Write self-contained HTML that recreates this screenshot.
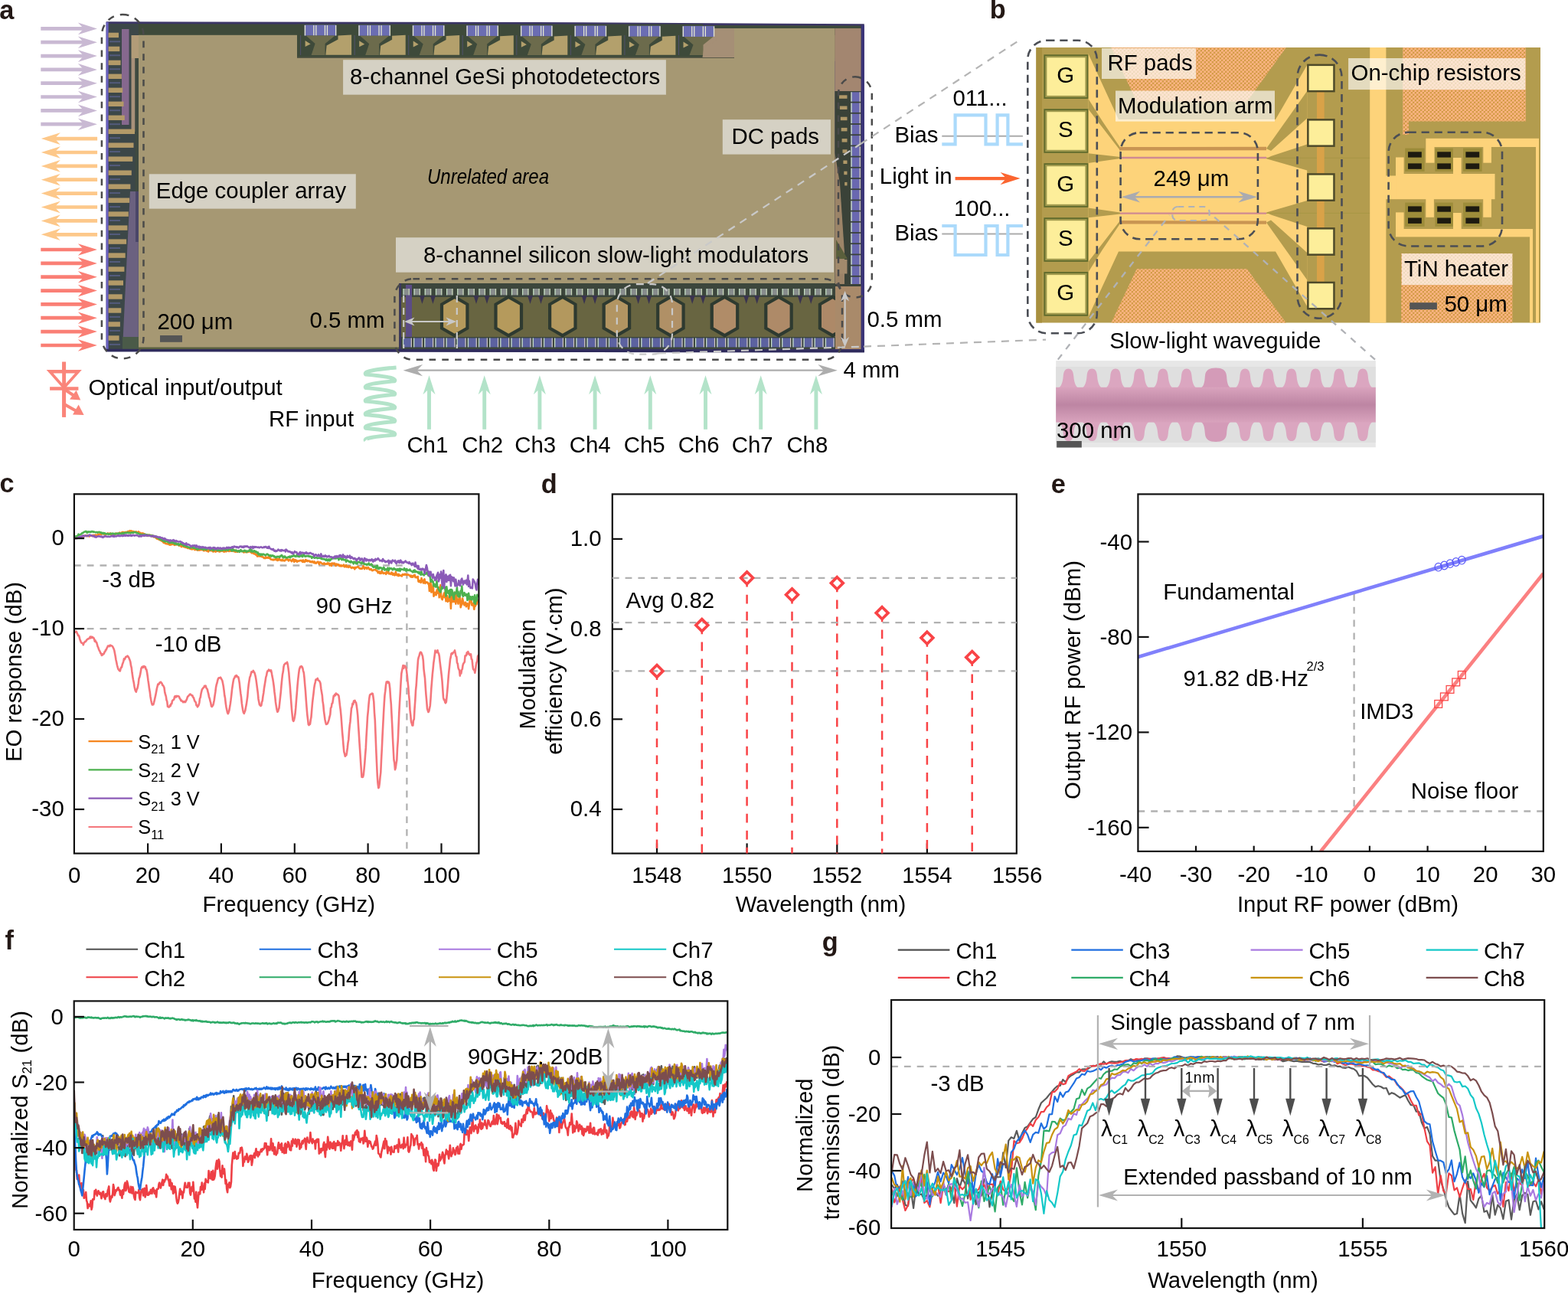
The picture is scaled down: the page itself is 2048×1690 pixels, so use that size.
<!DOCTYPE html>
<html lang="en"><head><meta charset="utf-8"><title>Figure</title>
<style>
html,body{margin:0;padding:0;background:#fff;}
body{width:2048px;height:1690px;overflow:hidden;}
svg{display:block;}
svg text{font-family:"Liberation Sans",sans-serif;}
</style></head><body>
<svg width="2048" height="1690" viewBox="0 0 2048 1690" font-family="Liberation Sans, sans-serif" font-size="29.4" fill="#000">
<defs><clipPath id="clipmod"><rect x="521" y="370" width="570" height="90"/></clipPath></defs>
<text x="-0.8" y="24.8" font-weight="bold" fill="#231815" font-size="34.3">a</text>
<text x="1292.8" y="24.4" font-weight="bold" fill="#231815" font-size="34.3">b</text>
<text x="-0.6" y="643.3" font-weight="bold" fill="#231815" font-size="34.3">c</text>
<text x="706.8" y="643.7" font-weight="bold" fill="#231815" font-size="34.3">d</text>
<text x="1372.8" y="643.5" font-weight="bold" fill="#231815" font-size="34.3">e</text>
<text x="6.4" y="1240.4" font-weight="bold" fill="#231815" font-size="34.3">f</text>
<text x="1073.8" y="1241.6" font-weight="bold" fill="#231815" font-size="34.3">g</text>
<g id="pa">
<line x1="53.3" y1="37.4" x2="111.2" y2="37.4" stroke="#c9b9d3" stroke-width="4.7"/>
<polygon points="126.9,37.4 101.9,45.2 109.4,37.4 101.9,29.6" fill="#c9b9d3"/>
<line x1="53.3" y1="55.2" x2="111.2" y2="55.2" stroke="#c9b9d3" stroke-width="4.7"/>
<polygon points="126.9,55.2 101.9,63 109.4,55.2 101.9,47.4" fill="#c9b9d3"/>
<line x1="53.3" y1="73.1" x2="111.2" y2="73.1" stroke="#c9b9d3" stroke-width="4.7"/>
<polygon points="126.9,73.1 101.9,80.9 109.4,73.1 101.9,65.3" fill="#c9b9d3"/>
<line x1="53.3" y1="90.9" x2="111.2" y2="90.9" stroke="#c9b9d3" stroke-width="4.7"/>
<polygon points="126.9,90.9 101.9,98.7 109.4,90.9 101.9,83.1" fill="#c9b9d3"/>
<line x1="53.3" y1="108.7" x2="111.2" y2="108.7" stroke="#c9b9d3" stroke-width="4.7"/>
<polygon points="126.9,108.7 101.9,116.5 109.4,108.7 101.9,100.9" fill="#c9b9d3"/>
<line x1="53.3" y1="126.5" x2="111.2" y2="126.5" stroke="#c9b9d3" stroke-width="4.7"/>
<polygon points="126.9,126.5 101.9,134.3 109.4,126.5 101.9,118.7" fill="#c9b9d3"/>
<line x1="53.3" y1="144.4" x2="111.2" y2="144.4" stroke="#c9b9d3" stroke-width="4.7"/>
<polygon points="126.9,144.4 101.9,152.2 109.4,144.4 101.9,136.6" fill="#c9b9d3"/>
<line x1="53.3" y1="162.2" x2="111.2" y2="162.2" stroke="#c9b9d3" stroke-width="4.7"/>
<polygon points="126.9,162.2 101.9,170 109.4,162.2 101.9,154.4" fill="#c9b9d3"/>
<line x1="127.1" y1="181.1" x2="69.5" y2="181.1" stroke="#fdc88a" stroke-width="4.7"/>
<polygon points="53.8,181.1 78.8,173.3 71.3,181.1 78.8,188.9" fill="#fdc88a"/>
<line x1="127.1" y1="199" x2="69.5" y2="199" stroke="#fdc88a" stroke-width="4.7"/>
<polygon points="53.8,199 78.8,191.2 71.3,199 78.8,206.8" fill="#fdc88a"/>
<line x1="127.1" y1="216.9" x2="69.5" y2="216.9" stroke="#fdc88a" stroke-width="4.7"/>
<polygon points="53.8,216.9 78.8,209.1 71.3,216.9 78.8,224.7" fill="#fdc88a"/>
<line x1="127.1" y1="234.7" x2="69.5" y2="234.7" stroke="#fdc88a" stroke-width="4.7"/>
<polygon points="53.8,234.7 78.8,226.9 71.3,234.7 78.8,242.5" fill="#fdc88a"/>
<line x1="127.1" y1="252.6" x2="69.5" y2="252.6" stroke="#fdc88a" stroke-width="4.7"/>
<polygon points="53.8,252.6 78.8,244.8 71.3,252.6 78.8,260.4" fill="#fdc88a"/>
<line x1="127.1" y1="270.5" x2="69.5" y2="270.5" stroke="#fdc88a" stroke-width="4.7"/>
<polygon points="53.8,270.5 78.8,262.7 71.3,270.5 78.8,278.3" fill="#fdc88a"/>
<line x1="127.1" y1="288.4" x2="69.5" y2="288.4" stroke="#fdc88a" stroke-width="4.7"/>
<polygon points="53.8,288.4 78.8,280.6 71.3,288.4 78.8,296.2" fill="#fdc88a"/>
<line x1="127.1" y1="306.3" x2="69.5" y2="306.3" stroke="#fdc88a" stroke-width="4.7"/>
<polygon points="53.8,306.3 78.8,298.5 71.3,306.3 78.8,314.1" fill="#fdc88a"/>
<line x1="53.3" y1="326" x2="111.2" y2="326" stroke="#fa7f75" stroke-width="4.7"/>
<polygon points="126.9,326 101.9,333.8 109.4,326 101.9,318.2" fill="#fa7f75"/>
<line x1="53.3" y1="343.9" x2="111.2" y2="343.9" stroke="#fa7f75" stroke-width="4.7"/>
<polygon points="126.9,343.9 101.9,351.7 109.4,343.9 101.9,336.1" fill="#fa7f75"/>
<line x1="53.3" y1="361.7" x2="111.2" y2="361.7" stroke="#fa7f75" stroke-width="4.7"/>
<polygon points="126.9,361.7 101.9,369.5 109.4,361.7 101.9,353.9" fill="#fa7f75"/>
<line x1="53.3" y1="379.6" x2="111.2" y2="379.6" stroke="#fa7f75" stroke-width="4.7"/>
<polygon points="126.9,379.6 101.9,387.4 109.4,379.6 101.9,371.8" fill="#fa7f75"/>
<line x1="53.3" y1="397.4" x2="111.2" y2="397.4" stroke="#fa7f75" stroke-width="4.7"/>
<polygon points="126.9,397.4 101.9,405.2 109.4,397.4 101.9,389.6" fill="#fa7f75"/>
<line x1="53.3" y1="415.2" x2="111.2" y2="415.2" stroke="#fa7f75" stroke-width="4.7"/>
<polygon points="126.9,415.2 101.9,423.1 109.4,415.2 101.9,407.4" fill="#fa7f75"/>
<line x1="53.3" y1="433.1" x2="111.2" y2="433.1" stroke="#fa7f75" stroke-width="4.7"/>
<polygon points="126.9,433.1 101.9,440.9 109.4,433.1 101.9,425.3" fill="#fa7f75"/>
<line x1="53.3" y1="451" x2="111.2" y2="451" stroke="#fa7f75" stroke-width="4.7"/>
<polygon points="126.9,451 101.9,458.8 109.4,451 101.9,443.2" fill="#fa7f75"/>
<polygon points="138.6,28.3 700,29 1128.8,31.3 1128.8,460.3 138.6,459.2" fill="#3b3566"/>
<polygon points="141.5,31 1124.5,33.5 1124.5,76 141.5,76" fill="#3e4a3a"/>
<rect x="180.8" y="45.8" width="909.7" height="325.2" fill="#a69873"/>
<rect x="180.8" y="370" width="340.6" height="85" fill="#a69873"/>
<rect x="959" y="37" width="131.5" height="43" fill="#a69873"/>
<rect x="388" y="31.5" width="530" height="43.5" fill="#3e4a3a"/>
<rect x="918" y="37" width="41" height="38" fill="#a58f76"/>
<rect x="388" y="74.6" width="571" height="1.4" fill="#5a5a48"/>
<rect x="141.5" y="31" width="39.5" height="425" fill="#3c4748"/>
<rect x="138.6" y="29" width="3" height="430" fill="#6a62c0"/>
<rect x="159" y="38" width="9.5" height="125" fill="#86688e"/>
<rect x="171.5" y="46" width="9.5" height="30" fill="#b29c78"/>
<rect x="171.5" y="76" width="5" height="96" fill="#a8917a"/>
<rect x="176.5" y="76" width="4.5" height="240" fill="#3f4a40"/>
<polygon points="170,250 180.8,250 180.8,456 160,456 166,330" fill="#6b6180"/>
<rect x="177" y="250" width="4" height="66" fill="#4a4668"/>
<rect x="160" y="440" width="21" height="16" fill="#4a5a48"/>
<rect x="141.6" y="42.7" width="13.4" height="6.4" fill="#b39a68"/>
<rect x="143" y="53.3" width="14" height="2" fill="#59608a" opacity="0.8"/>
<rect x="141.6" y="60.7" width="14.7" height="6.4" fill="#b39a68"/>
<rect x="143" y="71.3" width="14" height="2" fill="#59608a" opacity="0.8"/>
<rect x="141.6" y="78.7" width="16" height="6.4" fill="#b39a68"/>
<rect x="143" y="89.3" width="14" height="2" fill="#59608a" opacity="0.8"/>
<rect x="141.6" y="96.6" width="17.3" height="6.4" fill="#b39a68"/>
<rect x="143" y="107.2" width="14" height="2" fill="#59608a" opacity="0.8"/>
<rect x="141.6" y="114.6" width="18.6" height="6.4" fill="#b39a68"/>
<rect x="143" y="125.2" width="14" height="2" fill="#59608a" opacity="0.8"/>
<rect x="141.6" y="132.6" width="19.9" height="6.4" fill="#b39a68"/>
<rect x="143" y="143.2" width="14" height="2" fill="#59608a" opacity="0.8"/>
<rect x="141.6" y="150.6" width="21.2" height="6.4" fill="#b39a68"/>
<rect x="143" y="161.2" width="14" height="2" fill="#59608a" opacity="0.8"/>
<rect x="141.6" y="168.6" width="34.4" height="6.4" fill="#b39a68"/>
<rect x="143" y="179.2" width="14" height="2" fill="#59608a" opacity="0.8"/>
<rect x="141.6" y="186.5" width="32.9" height="6.4" fill="#b39a68"/>
<rect x="143" y="197.1" width="14" height="2" fill="#59608a" opacity="0.8"/>
<rect x="141.6" y="204.5" width="31.6" height="6.4" fill="#b39a68"/>
<rect x="143" y="215.1" width="14" height="2" fill="#59608a" opacity="0.8"/>
<rect x="141.6" y="222.5" width="30.2" height="6.4" fill="#b39a68"/>
<rect x="143" y="233.1" width="14" height="2" fill="#59608a" opacity="0.8"/>
<rect x="141.6" y="240.5" width="28.8" height="6.4" fill="#b39a68"/>
<rect x="143" y="251.1" width="14" height="2" fill="#59608a" opacity="0.8"/>
<rect x="141.6" y="258.5" width="27.5" height="6.4" fill="#b39a68"/>
<rect x="143" y="269.1" width="14" height="2" fill="#59608a" opacity="0.8"/>
<rect x="141.6" y="276.4" width="26.2" height="6.4" fill="#b39a68"/>
<rect x="143" y="287" width="14" height="2" fill="#59608a" opacity="0.8"/>
<rect x="141.6" y="294.4" width="24.8" height="6.4" fill="#b39a68"/>
<rect x="143" y="305" width="14" height="2" fill="#59608a" opacity="0.8"/>
<rect x="141.6" y="312.4" width="23.5" height="6.4" fill="#b39a68"/>
<rect x="143" y="323" width="14" height="2" fill="#59608a" opacity="0.8"/>
<rect x="141.6" y="330.4" width="22.1" height="6.4" fill="#b39a68"/>
<rect x="143" y="341" width="14" height="2" fill="#59608a" opacity="0.8"/>
<rect x="141.6" y="348.4" width="20.8" height="6.4" fill="#b39a68"/>
<rect x="143" y="359" width="14" height="2" fill="#59608a" opacity="0.8"/>
<rect x="141.6" y="366.3" width="19.4" height="6.4" fill="#b39a68"/>
<rect x="143" y="376.9" width="14" height="2" fill="#59608a" opacity="0.8"/>
<rect x="141.6" y="384.3" width="18.1" height="6.4" fill="#b39a68"/>
<rect x="143" y="394.9" width="14" height="2" fill="#59608a" opacity="0.8"/>
<rect x="141.6" y="402.3" width="16.7" height="6.4" fill="#b39a68"/>
<rect x="143" y="412.9" width="14" height="2" fill="#59608a" opacity="0.8"/>
<rect x="141.6" y="420.3" width="15.3" height="6.4" fill="#b39a68"/>
<rect x="143" y="430.9" width="14" height="2" fill="#59608a" opacity="0.8"/>
<rect x="141.6" y="438.3" width="14" height="6.4" fill="#b39a68"/>
<rect x="143" y="448.9" width="14" height="2" fill="#59608a" opacity="0.8"/>
<rect x="397.6" y="32.5" width="41.7" height="14.1" fill="#6b6db2"/>
<rect x="397.8" y="33" width="1.3" height="13.4" fill="#e6e8cf"/>
<rect x="409.2" y="33" width="1.3" height="13.4" fill="#e6e8cf"/>
<rect x="412.2" y="33" width="1.3" height="13.4" fill="#e6e8cf"/>
<rect x="423.8" y="33" width="1.3" height="13.4" fill="#e6e8cf"/>
<rect x="426.8" y="33" width="1.3" height="13.4" fill="#e6e8cf"/>
<rect x="438" y="33" width="1.3" height="13.4" fill="#e6e8cf"/>
<polygon points="399.6,46.6 437.6,46.6 424.6,57 424.6,72 406.6,72 411.6,57" fill="#6c6b4c"/>
<polygon points="425.4,71.8 426.6,59.6 441.5,51.6 441.5,46.6 459.1,45.6 459.1,71.8" fill="#b3a06c"/>
<polygon points="398.6,53 405.6,57.5 398.6,61" fill="#b3a06c"/>
<line x1="392.6" y1="46" x2="392.6" y2="72" stroke="#50506a" stroke-width="1"/>
<rect x="468.2" y="32.7" width="41.7" height="14.1" fill="#6b6db2"/>
<rect x="468.4" y="33.2" width="1.3" height="13.4" fill="#e6e8cf"/>
<rect x="479.8" y="33.2" width="1.3" height="13.4" fill="#e6e8cf"/>
<rect x="482.8" y="33.2" width="1.3" height="13.4" fill="#e6e8cf"/>
<rect x="494.4" y="33.2" width="1.3" height="13.4" fill="#e6e8cf"/>
<rect x="497.4" y="33.2" width="1.3" height="13.4" fill="#e6e8cf"/>
<rect x="508.6" y="33.2" width="1.3" height="13.4" fill="#e6e8cf"/>
<polygon points="470.2,46.8 508.2,46.8 495.2,57.2 495.2,72 477.2,72 482.2,57.2" fill="#6c6b4c"/>
<polygon points="496,71.8 497.2,59.8 512.1,51.8 512.1,46.8 529.7,45.8 529.7,71.8" fill="#b3a06c"/>
<polygon points="469.2,53.2 476.2,57.7 469.2,61.2" fill="#b3a06c"/>
<line x1="463.2" y1="46" x2="463.2" y2="72" stroke="#50506a" stroke-width="1"/>
<rect x="538.7" y="32.9" width="41.7" height="14.1" fill="#6b6db2"/>
<rect x="538.9" y="33.4" width="1.3" height="13.4" fill="#e6e8cf"/>
<rect x="550.3" y="33.4" width="1.3" height="13.4" fill="#e6e8cf"/>
<rect x="553.3" y="33.4" width="1.3" height="13.4" fill="#e6e8cf"/>
<rect x="564.9" y="33.4" width="1.3" height="13.4" fill="#e6e8cf"/>
<rect x="567.9" y="33.4" width="1.3" height="13.4" fill="#e6e8cf"/>
<rect x="579.1" y="33.4" width="1.3" height="13.4" fill="#e6e8cf"/>
<polygon points="540.7,47 578.7,47 565.7,57.4 565.7,72 547.7,72 552.7,57.4" fill="#6c6b4c"/>
<polygon points="566.5,71.8 567.7,60 582.6,52 582.6,47 600.2,46 600.2,71.8" fill="#b3a06c"/>
<polygon points="539.7,53.4 546.7,57.9 539.7,61.4" fill="#b3a06c"/>
<line x1="533.7" y1="46" x2="533.7" y2="72" stroke="#50506a" stroke-width="1"/>
<rect x="609.2" y="33.1" width="41.7" height="14.1" fill="#6b6db2"/>
<rect x="609.5" y="33.6" width="1.3" height="13.4" fill="#e6e8cf"/>
<rect x="620.9" y="33.6" width="1.3" height="13.4" fill="#e6e8cf"/>
<rect x="623.9" y="33.6" width="1.3" height="13.4" fill="#e6e8cf"/>
<rect x="635.5" y="33.6" width="1.3" height="13.4" fill="#e6e8cf"/>
<rect x="638.5" y="33.6" width="1.3" height="13.4" fill="#e6e8cf"/>
<rect x="649.6" y="33.6" width="1.3" height="13.4" fill="#e6e8cf"/>
<polygon points="611.2,47.2 649.2,47.2 636.2,57.6 636.2,72 618.2,72 623.2,57.6" fill="#6c6b4c"/>
<polygon points="637,71.8 638.2,60.2 653.1,52.2 653.1,47.2 670.8,46.2 670.8,71.8" fill="#b3a06c"/>
<polygon points="610.2,53.6 617.2,58.1 610.2,61.6" fill="#b3a06c"/>
<line x1="604.2" y1="46" x2="604.2" y2="72" stroke="#50506a" stroke-width="1"/>
<rect x="679.8" y="33.3" width="41.7" height="14.1" fill="#6b6db2"/>
<rect x="680" y="33.8" width="1.3" height="13.4" fill="#e6e8cf"/>
<rect x="691.4" y="33.8" width="1.3" height="13.4" fill="#e6e8cf"/>
<rect x="694.4" y="33.8" width="1.3" height="13.4" fill="#e6e8cf"/>
<rect x="706" y="33.8" width="1.3" height="13.4" fill="#e6e8cf"/>
<rect x="709" y="33.8" width="1.3" height="13.4" fill="#e6e8cf"/>
<rect x="720.2" y="33.8" width="1.3" height="13.4" fill="#e6e8cf"/>
<polygon points="681.8,47.4 719.8,47.4 706.8,57.8 706.8,72 688.8,72 693.8,57.8" fill="#6c6b4c"/>
<polygon points="707.6,71.8 708.8,60.4 723.7,52.4 723.7,47.4 741.3,46.4 741.3,71.8" fill="#b3a06c"/>
<polygon points="680.8,53.8 687.8,58.3 680.8,61.8" fill="#b3a06c"/>
<line x1="674.8" y1="46" x2="674.8" y2="72" stroke="#50506a" stroke-width="1"/>
<rect x="750.4" y="33.5" width="41.7" height="14.1" fill="#6b6db2"/>
<rect x="750.6" y="34" width="1.3" height="13.4" fill="#e6e8cf"/>
<rect x="762" y="34" width="1.3" height="13.4" fill="#e6e8cf"/>
<rect x="765" y="34" width="1.3" height="13.4" fill="#e6e8cf"/>
<rect x="776.6" y="34" width="1.3" height="13.4" fill="#e6e8cf"/>
<rect x="779.6" y="34" width="1.3" height="13.4" fill="#e6e8cf"/>
<rect x="790.8" y="34" width="1.3" height="13.4" fill="#e6e8cf"/>
<polygon points="752.4,47.6 790.4,47.6 777.4,58 777.4,72 759.4,72 764.4,58" fill="#6c6b4c"/>
<polygon points="778.1,71.8 779.4,60.6 794.2,52.6 794.2,47.6 811.9,46.6 811.9,71.8" fill="#b3a06c"/>
<polygon points="751.4,54 758.4,58.5 751.4,62" fill="#b3a06c"/>
<line x1="745.4" y1="46" x2="745.4" y2="72" stroke="#50506a" stroke-width="1"/>
<rect x="820.9" y="33.7" width="41.7" height="14.1" fill="#6b6db2"/>
<rect x="821.1" y="34.2" width="1.3" height="13.4" fill="#e6e8cf"/>
<rect x="832.5" y="34.2" width="1.3" height="13.4" fill="#e6e8cf"/>
<rect x="835.5" y="34.2" width="1.3" height="13.4" fill="#e6e8cf"/>
<rect x="847.1" y="34.2" width="1.3" height="13.4" fill="#e6e8cf"/>
<rect x="850.1" y="34.2" width="1.3" height="13.4" fill="#e6e8cf"/>
<rect x="861.3" y="34.2" width="1.3" height="13.4" fill="#e6e8cf"/>
<polygon points="822.9,47.8 860.9,47.8 847.9,58.2 847.9,72 829.9,72 834.9,58.2" fill="#6c6b4c"/>
<polygon points="848.7,71.8 849.9,60.8 864.8,52.8 864.8,47.8 882.4,46.8 882.4,71.8" fill="#b3a06c"/>
<polygon points="821.9,54.2 828.9,58.7 821.9,62.2" fill="#b3a06c"/>
<line x1="815.9" y1="46" x2="815.9" y2="72" stroke="#50506a" stroke-width="1"/>
<rect x="891.5" y="33.9" width="41.7" height="14.1" fill="#6b6db2"/>
<rect x="891.7" y="34.4" width="1.3" height="13.4" fill="#e6e8cf"/>
<rect x="903.1" y="34.4" width="1.3" height="13.4" fill="#e6e8cf"/>
<rect x="906.1" y="34.4" width="1.3" height="13.4" fill="#e6e8cf"/>
<rect x="917.7" y="34.4" width="1.3" height="13.4" fill="#e6e8cf"/>
<rect x="920.7" y="34.4" width="1.3" height="13.4" fill="#e6e8cf"/>
<rect x="931.9" y="34.4" width="1.3" height="13.4" fill="#e6e8cf"/>
<polygon points="893.5,48 931.5,48 918.5,58.4 918.5,72 900.5,72 905.5,58.4" fill="#6c6b4c"/>
<polygon points="917.5,75 919.5,61.4 935.4,53.4 935.4,38 959,38 959,75" fill="#a58f76"/>
<polygon points="892.5,54.4 899.5,58.9 892.5,62.4" fill="#b3a06c"/>
<line x1="886.5" y1="46" x2="886.5" y2="72" stroke="#50506a" stroke-width="1"/>
<rect x="1090.5" y="37" width="34" height="82" fill="#a38670"/>
<rect x="1090.5" y="119" width="34" height="254" fill="#3a4238"/>
<polygon points="1090.5,200 1097,240 1103,330 1103,372 1090.5,372" fill="#9c8468"/>
<polygon points="1092,313 1107,338 1092,338" fill="#5a5f3c"/>
<rect x="1091.5" y="339" width="15" height="18.5" fill="#a28a6c"/>
<rect x="1111.4" y="120.3" width="12.9" height="12.4" fill="#6a68b0"/>
<rect x="1111.4" y="120.3" width="1.3" height="12.4" fill="#cfe4c8"/>
<rect x="1122.6" y="120.3" width="1.2" height="12.4" fill="#d8d0b8"/>
<rect x="1096" y="124.3" width="10.5" height="4.5" fill="#b09868"/>
<rect x="1111.4" y="134.5" width="12.9" height="12.4" fill="#6a68b0"/>
<rect x="1111.4" y="134.5" width="1.3" height="12.4" fill="#cfe4c8"/>
<rect x="1122.6" y="134.5" width="1.2" height="12.4" fill="#d8d0b8"/>
<rect x="1096.9" y="138.5" width="9.6" height="4.5" fill="#b09868"/>
<rect x="1111.4" y="148.7" width="12.9" height="12.4" fill="#6a68b0"/>
<rect x="1111.4" y="148.7" width="1.3" height="12.4" fill="#cfe4c8"/>
<rect x="1122.6" y="148.7" width="1.2" height="12.4" fill="#d8d0b8"/>
<rect x="1097.8" y="152.7" width="8.7" height="4.5" fill="#b09868"/>
<rect x="1111.4" y="162.9" width="12.9" height="12.4" fill="#6a68b0"/>
<rect x="1111.4" y="162.9" width="1.3" height="12.4" fill="#cfe4c8"/>
<rect x="1122.6" y="162.9" width="1.2" height="12.4" fill="#d8d0b8"/>
<rect x="1098.7" y="166.9" width="7.8" height="4.5" fill="#b09868"/>
<rect x="1111.4" y="177.1" width="12.9" height="12.4" fill="#6a68b0"/>
<rect x="1111.4" y="177.1" width="1.3" height="12.4" fill="#cfe4c8"/>
<rect x="1122.6" y="177.1" width="1.2" height="12.4" fill="#d8d0b8"/>
<rect x="1099.6" y="181.1" width="6.9" height="4.5" fill="#b09868"/>
<rect x="1111.4" y="191.3" width="12.9" height="12.4" fill="#6a68b0"/>
<rect x="1111.4" y="191.3" width="1.3" height="12.4" fill="#cfe4c8"/>
<rect x="1122.6" y="191.3" width="1.2" height="12.4" fill="#d8d0b8"/>
<rect x="1100.5" y="195.3" width="6" height="4.5" fill="#b09868"/>
<rect x="1111.4" y="205.5" width="12.9" height="12.4" fill="#6a68b0"/>
<rect x="1111.4" y="205.5" width="1.3" height="12.4" fill="#cfe4c8"/>
<rect x="1122.6" y="205.5" width="1.2" height="12.4" fill="#d8d0b8"/>
<rect x="1101.4" y="209.5" width="5.1" height="4.5" fill="#b09868"/>
<rect x="1111.4" y="219.7" width="12.9" height="12.4" fill="#6a68b0"/>
<rect x="1111.4" y="219.7" width="1.3" height="12.4" fill="#cfe4c8"/>
<rect x="1122.6" y="219.7" width="1.2" height="12.4" fill="#d8d0b8"/>
<rect x="1102.3" y="223.7" width="4.2" height="4.5" fill="#b09868"/>
<rect x="1111.4" y="233.9" width="12.9" height="12.4" fill="#6a68b0"/>
<rect x="1111.4" y="233.9" width="1.3" height="12.4" fill="#cfe4c8"/>
<rect x="1122.6" y="233.9" width="1.2" height="12.4" fill="#d8d0b8"/>
<rect x="1103.2" y="237.9" width="3.3" height="4.5" fill="#b09868"/>
<rect x="1111.4" y="248.1" width="12.9" height="12.4" fill="#6a68b0"/>
<rect x="1111.4" y="248.1" width="1.3" height="12.4" fill="#cfe4c8"/>
<rect x="1122.6" y="248.1" width="1.2" height="12.4" fill="#d8d0b8"/>
<rect x="1111.4" y="262.3" width="12.9" height="12.4" fill="#6a68b0"/>
<rect x="1111.4" y="262.3" width="1.3" height="12.4" fill="#cfe4c8"/>
<rect x="1122.6" y="262.3" width="1.2" height="12.4" fill="#d8d0b8"/>
<rect x="1111.4" y="276.5" width="12.9" height="12.4" fill="#6a68b0"/>
<rect x="1111.4" y="276.5" width="1.3" height="12.4" fill="#cfe4c8"/>
<rect x="1122.6" y="276.5" width="1.2" height="12.4" fill="#d8d0b8"/>
<rect x="1111.4" y="290.7" width="12.9" height="12.4" fill="#6a68b0"/>
<rect x="1111.4" y="290.7" width="1.3" height="12.4" fill="#cfe4c8"/>
<rect x="1122.6" y="290.7" width="1.2" height="12.4" fill="#d8d0b8"/>
<rect x="1111.4" y="304.9" width="12.9" height="12.4" fill="#6a68b0"/>
<rect x="1111.4" y="304.9" width="1.3" height="12.4" fill="#cfe4c8"/>
<rect x="1122.6" y="304.9" width="1.2" height="12.4" fill="#d8d0b8"/>
<rect x="1111.4" y="319.1" width="12.9" height="12.4" fill="#6a68b0"/>
<rect x="1111.4" y="319.1" width="1.3" height="12.4" fill="#cfe4c8"/>
<rect x="1122.6" y="319.1" width="1.2" height="12.4" fill="#d8d0b8"/>
<rect x="1111.4" y="333.3" width="12.9" height="12.4" fill="#6a68b0"/>
<rect x="1111.4" y="333.3" width="1.3" height="12.4" fill="#cfe4c8"/>
<rect x="1122.6" y="333.3" width="1.2" height="12.4" fill="#d8d0b8"/>
<rect x="1111.4" y="347.5" width="12.9" height="12.4" fill="#6a68b0"/>
<rect x="1111.4" y="347.5" width="1.3" height="12.4" fill="#cfe4c8"/>
<rect x="1122.6" y="347.5" width="1.2" height="12.4" fill="#d8d0b8"/>
<rect x="1111.4" y="361.7" width="12.9" height="12.4" fill="#6a68b0"/>
<rect x="1111.4" y="361.7" width="1.3" height="12.4" fill="#cfe4c8"/>
<rect x="1122.6" y="361.7" width="1.2" height="12.4" fill="#d8d0b8"/>
<rect x="1125.2" y="33" width="3.6" height="427" fill="#3a3478"/>
<rect x="521.2" y="370" width="569.8" height="86" fill="#3c463c"/>
<rect x="521.2" y="388" width="569.8" height="52" fill="#686541"/>
<rect x="521.2" y="370" width="2.8" height="86" fill="#3a3660"/>
<rect x="530" y="372" width="8" height="68" fill="#5b4c85"/>
<rect x="1091" y="373.5" width="33.5" height="82.5" fill="#a98a6a"/>
<rect x="1091" y="371" width="33.5" height="3" fill="#3a4238"/>
<rect x="526.4" y="377" width="8.5" height="8.4" fill="#878c8c"/>
<rect x="526.4" y="377" width="1.2" height="8.4" fill="#c4e0c0"/>
<rect x="533.7" y="377" width="1.2" height="8.4" fill="#c8d8b8"/>
<rect x="525.9" y="441.5" width="12" height="11.9" fill="#5c62a0"/>
<rect x="525.9" y="441.5" width="1.3" height="11.9" fill="#c4dcc4"/>
<rect x="536.7" y="441.5" width="1.2" height="11.9" fill="#d0c8c0"/>
<rect x="540.5" y="377" width="8.5" height="8.4" fill="#878c8c"/>
<rect x="540.5" y="377" width="1.2" height="8.4" fill="#c4e0c0"/>
<rect x="547.8" y="377" width="1.2" height="8.4" fill="#c8d8b8"/>
<rect x="540" y="441.5" width="12" height="11.9" fill="#5c62a0"/>
<rect x="540" y="441.5" width="1.3" height="11.9" fill="#c4dcc4"/>
<rect x="550.8" y="441.5" width="1.2" height="11.9" fill="#d0c8c0"/>
<rect x="554.7" y="377" width="8.5" height="8.4" fill="#878c8c"/>
<rect x="554.7" y="377" width="1.2" height="8.4" fill="#c4e0c0"/>
<rect x="562" y="377" width="1.2" height="8.4" fill="#c8d8b8"/>
<rect x="554.2" y="441.5" width="12" height="11.9" fill="#5c62a0"/>
<rect x="554.2" y="441.5" width="1.3" height="11.9" fill="#c4dcc4"/>
<rect x="565" y="441.5" width="1.2" height="11.9" fill="#d0c8c0"/>
<rect x="568.9" y="377" width="8.5" height="8.4" fill="#878c8c"/>
<rect x="568.9" y="377" width="1.2" height="8.4" fill="#c4e0c0"/>
<rect x="576.1" y="377" width="1.2" height="8.4" fill="#c8d8b8"/>
<rect x="568.4" y="441.5" width="12" height="11.9" fill="#5c62a0"/>
<rect x="568.4" y="441.5" width="1.3" height="11.9" fill="#c4dcc4"/>
<rect x="579.1" y="441.5" width="1.2" height="11.9" fill="#d0c8c0"/>
<rect x="583" y="377" width="8.5" height="8.4" fill="#878c8c"/>
<rect x="583" y="377" width="1.2" height="8.4" fill="#c4e0c0"/>
<rect x="590.3" y="377" width="1.2" height="8.4" fill="#c8d8b8"/>
<rect x="582.5" y="441.5" width="12" height="11.9" fill="#5c62a0"/>
<rect x="582.5" y="441.5" width="1.3" height="11.9" fill="#c4dcc4"/>
<rect x="593.3" y="441.5" width="1.2" height="11.9" fill="#d0c8c0"/>
<rect x="597.1" y="377" width="8.5" height="8.4" fill="#878c8c"/>
<rect x="597.1" y="377" width="1.2" height="8.4" fill="#c4e0c0"/>
<rect x="604.4" y="377" width="1.2" height="8.4" fill="#c8d8b8"/>
<rect x="596.6" y="441.5" width="12" height="11.9" fill="#5c62a0"/>
<rect x="596.6" y="441.5" width="1.3" height="11.9" fill="#c4dcc4"/>
<rect x="607.4" y="441.5" width="1.2" height="11.9" fill="#d0c8c0"/>
<rect x="611.3" y="377" width="8.5" height="8.4" fill="#878c8c"/>
<rect x="611.3" y="377" width="1.2" height="8.4" fill="#c4e0c0"/>
<rect x="618.6" y="377" width="1.2" height="8.4" fill="#c8d8b8"/>
<rect x="610.8" y="441.5" width="12" height="11.9" fill="#5c62a0"/>
<rect x="610.8" y="441.5" width="1.3" height="11.9" fill="#c4dcc4"/>
<rect x="621.6" y="441.5" width="1.2" height="11.9" fill="#d0c8c0"/>
<rect x="625.4" y="377" width="8.5" height="8.4" fill="#878c8c"/>
<rect x="625.4" y="377" width="1.2" height="8.4" fill="#c4e0c0"/>
<rect x="632.7" y="377" width="1.2" height="8.4" fill="#c8d8b8"/>
<rect x="624.9" y="441.5" width="12" height="11.9" fill="#5c62a0"/>
<rect x="624.9" y="441.5" width="1.3" height="11.9" fill="#c4dcc4"/>
<rect x="635.7" y="441.5" width="1.2" height="11.9" fill="#d0c8c0"/>
<rect x="639.6" y="377" width="8.5" height="8.4" fill="#878c8c"/>
<rect x="639.6" y="377" width="1.2" height="8.4" fill="#c4e0c0"/>
<rect x="646.9" y="377" width="1.2" height="8.4" fill="#c8d8b8"/>
<rect x="639.1" y="441.5" width="12" height="11.9" fill="#5c62a0"/>
<rect x="639.1" y="441.5" width="1.3" height="11.9" fill="#c4dcc4"/>
<rect x="649.9" y="441.5" width="1.2" height="11.9" fill="#d0c8c0"/>
<rect x="653.8" y="377" width="8.5" height="8.4" fill="#878c8c"/>
<rect x="653.8" y="377" width="1.2" height="8.4" fill="#c4e0c0"/>
<rect x="661" y="377" width="1.2" height="8.4" fill="#c8d8b8"/>
<rect x="653.2" y="441.5" width="12" height="11.9" fill="#5c62a0"/>
<rect x="653.2" y="441.5" width="1.3" height="11.9" fill="#c4dcc4"/>
<rect x="664" y="441.5" width="1.2" height="11.9" fill="#d0c8c0"/>
<rect x="667.9" y="377" width="8.5" height="8.4" fill="#878c8c"/>
<rect x="667.9" y="377" width="1.2" height="8.4" fill="#c4e0c0"/>
<rect x="675.2" y="377" width="1.2" height="8.4" fill="#c8d8b8"/>
<rect x="667.4" y="441.5" width="12" height="11.9" fill="#5c62a0"/>
<rect x="667.4" y="441.5" width="1.3" height="11.9" fill="#c4dcc4"/>
<rect x="678.2" y="441.5" width="1.2" height="11.9" fill="#d0c8c0"/>
<rect x="682" y="377" width="8.5" height="8.4" fill="#878c8c"/>
<rect x="682" y="377" width="1.2" height="8.4" fill="#c4e0c0"/>
<rect x="689.3" y="377" width="1.2" height="8.4" fill="#c8d8b8"/>
<rect x="681.5" y="441.5" width="12" height="11.9" fill="#5c62a0"/>
<rect x="681.5" y="441.5" width="1.3" height="11.9" fill="#c4dcc4"/>
<rect x="692.3" y="441.5" width="1.2" height="11.9" fill="#d0c8c0"/>
<rect x="696.2" y="377" width="8.5" height="8.4" fill="#878c8c"/>
<rect x="696.2" y="377" width="1.2" height="8.4" fill="#c4e0c0"/>
<rect x="703.5" y="377" width="1.2" height="8.4" fill="#c8d8b8"/>
<rect x="695.7" y="441.5" width="12" height="11.9" fill="#5c62a0"/>
<rect x="695.7" y="441.5" width="1.3" height="11.9" fill="#c4dcc4"/>
<rect x="706.5" y="441.5" width="1.2" height="11.9" fill="#d0c8c0"/>
<rect x="710.4" y="377" width="8.5" height="8.4" fill="#878c8c"/>
<rect x="710.4" y="377" width="1.2" height="8.4" fill="#c4e0c0"/>
<rect x="717.6" y="377" width="1.2" height="8.4" fill="#c8d8b8"/>
<rect x="709.9" y="441.5" width="12" height="11.9" fill="#5c62a0"/>
<rect x="709.9" y="441.5" width="1.3" height="11.9" fill="#c4dcc4"/>
<rect x="720.6" y="441.5" width="1.2" height="11.9" fill="#d0c8c0"/>
<rect x="724.5" y="377" width="8.5" height="8.4" fill="#878c8c"/>
<rect x="724.5" y="377" width="1.2" height="8.4" fill="#c4e0c0"/>
<rect x="731.8" y="377" width="1.2" height="8.4" fill="#c8d8b8"/>
<rect x="724" y="441.5" width="12" height="11.9" fill="#5c62a0"/>
<rect x="724" y="441.5" width="1.3" height="11.9" fill="#c4dcc4"/>
<rect x="734.8" y="441.5" width="1.2" height="11.9" fill="#d0c8c0"/>
<rect x="738.6" y="377" width="8.5" height="8.4" fill="#878c8c"/>
<rect x="738.6" y="377" width="1.2" height="8.4" fill="#c4e0c0"/>
<rect x="745.9" y="377" width="1.2" height="8.4" fill="#c8d8b8"/>
<rect x="738.1" y="441.5" width="12" height="11.9" fill="#5c62a0"/>
<rect x="738.1" y="441.5" width="1.3" height="11.9" fill="#c4dcc4"/>
<rect x="748.9" y="441.5" width="1.2" height="11.9" fill="#d0c8c0"/>
<rect x="752.8" y="377" width="8.5" height="8.4" fill="#878c8c"/>
<rect x="752.8" y="377" width="1.2" height="8.4" fill="#c4e0c0"/>
<rect x="760.1" y="377" width="1.2" height="8.4" fill="#c8d8b8"/>
<rect x="752.3" y="441.5" width="12" height="11.9" fill="#5c62a0"/>
<rect x="752.3" y="441.5" width="1.3" height="11.9" fill="#c4dcc4"/>
<rect x="763.1" y="441.5" width="1.2" height="11.9" fill="#d0c8c0"/>
<rect x="767" y="377" width="8.5" height="8.4" fill="#878c8c"/>
<rect x="767" y="377" width="1.2" height="8.4" fill="#c4e0c0"/>
<rect x="774.2" y="377" width="1.2" height="8.4" fill="#c8d8b8"/>
<rect x="766.5" y="441.5" width="12" height="11.9" fill="#5c62a0"/>
<rect x="766.5" y="441.5" width="1.3" height="11.9" fill="#c4dcc4"/>
<rect x="777.2" y="441.5" width="1.2" height="11.9" fill="#d0c8c0"/>
<rect x="781.1" y="377" width="8.5" height="8.4" fill="#878c8c"/>
<rect x="781.1" y="377" width="1.2" height="8.4" fill="#c4e0c0"/>
<rect x="788.4" y="377" width="1.2" height="8.4" fill="#c8d8b8"/>
<rect x="780.6" y="441.5" width="12" height="11.9" fill="#5c62a0"/>
<rect x="780.6" y="441.5" width="1.3" height="11.9" fill="#c4dcc4"/>
<rect x="791.4" y="441.5" width="1.2" height="11.9" fill="#d0c8c0"/>
<rect x="795.2" y="377" width="8.5" height="8.4" fill="#878c8c"/>
<rect x="795.2" y="377" width="1.2" height="8.4" fill="#c4e0c0"/>
<rect x="802.5" y="377" width="1.2" height="8.4" fill="#c8d8b8"/>
<rect x="794.8" y="441.5" width="12" height="11.9" fill="#5c62a0"/>
<rect x="794.8" y="441.5" width="1.3" height="11.9" fill="#c4dcc4"/>
<rect x="805.5" y="441.5" width="1.2" height="11.9" fill="#d0c8c0"/>
<rect x="809.4" y="377" width="8.5" height="8.4" fill="#878c8c"/>
<rect x="809.4" y="377" width="1.2" height="8.4" fill="#c4e0c0"/>
<rect x="816.7" y="377" width="1.2" height="8.4" fill="#c8d8b8"/>
<rect x="808.9" y="441.5" width="12" height="11.9" fill="#5c62a0"/>
<rect x="808.9" y="441.5" width="1.3" height="11.9" fill="#c4dcc4"/>
<rect x="819.7" y="441.5" width="1.2" height="11.9" fill="#d0c8c0"/>
<rect x="823.5" y="377" width="8.5" height="8.4" fill="#878c8c"/>
<rect x="823.5" y="377" width="1.2" height="8.4" fill="#c4e0c0"/>
<rect x="830.8" y="377" width="1.2" height="8.4" fill="#c8d8b8"/>
<rect x="823" y="441.5" width="12" height="11.9" fill="#5c62a0"/>
<rect x="823" y="441.5" width="1.3" height="11.9" fill="#c4dcc4"/>
<rect x="833.8" y="441.5" width="1.2" height="11.9" fill="#d0c8c0"/>
<rect x="837.7" y="377" width="8.5" height="8.4" fill="#878c8c"/>
<rect x="837.7" y="377" width="1.2" height="8.4" fill="#c4e0c0"/>
<rect x="845" y="377" width="1.2" height="8.4" fill="#c8d8b8"/>
<rect x="837.2" y="441.5" width="12" height="11.9" fill="#5c62a0"/>
<rect x="837.2" y="441.5" width="1.3" height="11.9" fill="#c4dcc4"/>
<rect x="848" y="441.5" width="1.2" height="11.9" fill="#d0c8c0"/>
<rect x="851.8" y="377" width="8.5" height="8.4" fill="#878c8c"/>
<rect x="851.8" y="377" width="1.2" height="8.4" fill="#c4e0c0"/>
<rect x="859.1" y="377" width="1.2" height="8.4" fill="#c8d8b8"/>
<rect x="851.3" y="441.5" width="12" height="11.9" fill="#5c62a0"/>
<rect x="851.3" y="441.5" width="1.3" height="11.9" fill="#c4dcc4"/>
<rect x="862.1" y="441.5" width="1.2" height="11.9" fill="#d0c8c0"/>
<rect x="866" y="377" width="8.5" height="8.4" fill="#878c8c"/>
<rect x="866" y="377" width="1.2" height="8.4" fill="#c4e0c0"/>
<rect x="873.3" y="377" width="1.2" height="8.4" fill="#c8d8b8"/>
<rect x="865.5" y="441.5" width="12" height="11.9" fill="#5c62a0"/>
<rect x="865.5" y="441.5" width="1.3" height="11.9" fill="#c4dcc4"/>
<rect x="876.3" y="441.5" width="1.2" height="11.9" fill="#d0c8c0"/>
<rect x="880.1" y="377" width="8.5" height="8.4" fill="#878c8c"/>
<rect x="880.1" y="377" width="1.2" height="8.4" fill="#c4e0c0"/>
<rect x="887.4" y="377" width="1.2" height="8.4" fill="#c8d8b8"/>
<rect x="879.6" y="441.5" width="12" height="11.9" fill="#5c62a0"/>
<rect x="879.6" y="441.5" width="1.3" height="11.9" fill="#c4dcc4"/>
<rect x="890.4" y="441.5" width="1.2" height="11.9" fill="#d0c8c0"/>
<rect x="894.3" y="377" width="8.5" height="8.4" fill="#878c8c"/>
<rect x="894.3" y="377" width="1.2" height="8.4" fill="#c4e0c0"/>
<rect x="901.6" y="377" width="1.2" height="8.4" fill="#c8d8b8"/>
<rect x="893.8" y="441.5" width="12" height="11.9" fill="#5c62a0"/>
<rect x="893.8" y="441.5" width="1.3" height="11.9" fill="#c4dcc4"/>
<rect x="904.6" y="441.5" width="1.2" height="11.9" fill="#d0c8c0"/>
<rect x="908.5" y="377" width="8.5" height="8.4" fill="#878c8c"/>
<rect x="908.5" y="377" width="1.2" height="8.4" fill="#c4e0c0"/>
<rect x="915.8" y="377" width="1.2" height="8.4" fill="#c8d8b8"/>
<rect x="908" y="441.5" width="12" height="11.9" fill="#5c62a0"/>
<rect x="908" y="441.5" width="1.3" height="11.9" fill="#c4dcc4"/>
<rect x="918.8" y="441.5" width="1.2" height="11.9" fill="#d0c8c0"/>
<rect x="922.6" y="377" width="8.5" height="8.4" fill="#878c8c"/>
<rect x="922.6" y="377" width="1.2" height="8.4" fill="#c4e0c0"/>
<rect x="929.9" y="377" width="1.2" height="8.4" fill="#c8d8b8"/>
<rect x="922.1" y="441.5" width="12" height="11.9" fill="#5c62a0"/>
<rect x="922.1" y="441.5" width="1.3" height="11.9" fill="#c4dcc4"/>
<rect x="932.9" y="441.5" width="1.2" height="11.9" fill="#d0c8c0"/>
<rect x="936.8" y="377" width="8.5" height="8.4" fill="#878c8c"/>
<rect x="936.8" y="377" width="1.2" height="8.4" fill="#c4e0c0"/>
<rect x="944" y="377" width="1.2" height="8.4" fill="#c8d8b8"/>
<rect x="936.2" y="441.5" width="12" height="11.9" fill="#5c62a0"/>
<rect x="936.2" y="441.5" width="1.3" height="11.9" fill="#c4dcc4"/>
<rect x="947" y="441.5" width="1.2" height="11.9" fill="#d0c8c0"/>
<rect x="950.9" y="377" width="8.5" height="8.4" fill="#878c8c"/>
<rect x="950.9" y="377" width="1.2" height="8.4" fill="#c4e0c0"/>
<rect x="958.2" y="377" width="1.2" height="8.4" fill="#c8d8b8"/>
<rect x="950.4" y="441.5" width="12" height="11.9" fill="#5c62a0"/>
<rect x="950.4" y="441.5" width="1.3" height="11.9" fill="#c4dcc4"/>
<rect x="961.2" y="441.5" width="1.2" height="11.9" fill="#d0c8c0"/>
<rect x="965" y="377" width="8.5" height="8.4" fill="#878c8c"/>
<rect x="965" y="377" width="1.2" height="8.4" fill="#c4e0c0"/>
<rect x="972.3" y="377" width="1.2" height="8.4" fill="#c8d8b8"/>
<rect x="964.5" y="441.5" width="12" height="11.9" fill="#5c62a0"/>
<rect x="964.5" y="441.5" width="1.3" height="11.9" fill="#c4dcc4"/>
<rect x="975.3" y="441.5" width="1.2" height="11.9" fill="#d0c8c0"/>
<rect x="979.2" y="377" width="8.5" height="8.4" fill="#878c8c"/>
<rect x="979.2" y="377" width="1.2" height="8.4" fill="#c4e0c0"/>
<rect x="986.5" y="377" width="1.2" height="8.4" fill="#c8d8b8"/>
<rect x="978.7" y="441.5" width="12" height="11.9" fill="#5c62a0"/>
<rect x="978.7" y="441.5" width="1.3" height="11.9" fill="#c4dcc4"/>
<rect x="989.5" y="441.5" width="1.2" height="11.9" fill="#d0c8c0"/>
<rect x="993.3" y="377" width="8.5" height="8.4" fill="#878c8c"/>
<rect x="993.3" y="377" width="1.2" height="8.4" fill="#c4e0c0"/>
<rect x="1000.6" y="377" width="1.2" height="8.4" fill="#c8d8b8"/>
<rect x="992.8" y="441.5" width="12" height="11.9" fill="#5c62a0"/>
<rect x="992.8" y="441.5" width="1.3" height="11.9" fill="#c4dcc4"/>
<rect x="1003.6" y="441.5" width="1.2" height="11.9" fill="#d0c8c0"/>
<rect x="1007.5" y="377" width="8.5" height="8.4" fill="#878c8c"/>
<rect x="1007.5" y="377" width="1.2" height="8.4" fill="#c4e0c0"/>
<rect x="1014.8" y="377" width="1.2" height="8.4" fill="#c8d8b8"/>
<rect x="1007" y="441.5" width="12" height="11.9" fill="#5c62a0"/>
<rect x="1007" y="441.5" width="1.3" height="11.9" fill="#c4dcc4"/>
<rect x="1017.8" y="441.5" width="1.2" height="11.9" fill="#d0c8c0"/>
<rect x="1021.6" y="377" width="8.5" height="8.4" fill="#878c8c"/>
<rect x="1021.6" y="377" width="1.2" height="8.4" fill="#c4e0c0"/>
<rect x="1029" y="377" width="1.2" height="8.4" fill="#c8d8b8"/>
<rect x="1021.1" y="441.5" width="12" height="11.9" fill="#5c62a0"/>
<rect x="1021.1" y="441.5" width="1.3" height="11.9" fill="#c4dcc4"/>
<rect x="1032" y="441.5" width="1.2" height="11.9" fill="#d0c8c0"/>
<rect x="1035.8" y="377" width="8.5" height="8.4" fill="#878c8c"/>
<rect x="1035.8" y="377" width="1.2" height="8.4" fill="#c4e0c0"/>
<rect x="1043.1" y="377" width="1.2" height="8.4" fill="#c8d8b8"/>
<rect x="1035.3" y="441.5" width="12" height="11.9" fill="#5c62a0"/>
<rect x="1035.3" y="441.5" width="1.3" height="11.9" fill="#c4dcc4"/>
<rect x="1046.1" y="441.5" width="1.2" height="11.9" fill="#d0c8c0"/>
<rect x="1050" y="377" width="8.5" height="8.4" fill="#878c8c"/>
<rect x="1050" y="377" width="1.2" height="8.4" fill="#c4e0c0"/>
<rect x="1057.2" y="377" width="1.2" height="8.4" fill="#c8d8b8"/>
<rect x="1049.5" y="441.5" width="12" height="11.9" fill="#5c62a0"/>
<rect x="1049.5" y="441.5" width="1.3" height="11.9" fill="#c4dcc4"/>
<rect x="1060.2" y="441.5" width="1.2" height="11.9" fill="#d0c8c0"/>
<rect x="1064.1" y="377" width="8.5" height="8.4" fill="#878c8c"/>
<rect x="1064.1" y="377" width="1.2" height="8.4" fill="#c4e0c0"/>
<rect x="1071.4" y="377" width="1.2" height="8.4" fill="#c8d8b8"/>
<rect x="1063.6" y="441.5" width="12" height="11.9" fill="#5c62a0"/>
<rect x="1063.6" y="441.5" width="1.3" height="11.9" fill="#c4dcc4"/>
<rect x="1074.4" y="441.5" width="1.2" height="11.9" fill="#d0c8c0"/>
<rect x="1078.2" y="377" width="8.5" height="8.4" fill="#878c8c"/>
<rect x="1078.2" y="377" width="1.2" height="8.4" fill="#c4e0c0"/>
<rect x="1085.5" y="377" width="1.2" height="8.4" fill="#c8d8b8"/>
<rect x="1077.8" y="441.5" width="12" height="11.9" fill="#5c62a0"/>
<rect x="1077.8" y="441.5" width="1.3" height="11.9" fill="#c4dcc4"/>
<rect x="1088.5" y="441.5" width="1.2" height="11.9" fill="#d0c8c0"/>
<polygon points="593.7,385.3 612.5,396.4 612.5,429.7 593.7,440.8 574.9,429.7 574.9,396.4" fill="#2e3a30"/>
<polygon points="593.7,390.3 608.3,398.5 608.3,427.6 593.7,435.8 579.1,427.6 579.1,398.5" fill="#b59a5c"/>
<polygon points="547.9,386 554.9,386 551.4,397" fill="#3a3450"/>
<polygon points="561.9,386 568.9,386 565.4,397" fill="#3a3450"/>
<polygon points="664.2,385.3 683.1,396.4 683.1,429.7 664.2,440.8 645.4,429.7 645.4,396.4" fill="#2e3a30"/>
<polygon points="664.2,390.3 678.9,398.5 678.9,427.6 664.2,435.8 649.6,427.6 649.6,398.5" fill="#b59a5c"/>
<polygon points="618.5,386 625.5,386 622,397" fill="#3a3450"/>
<polygon points="632.5,386 639.5,386 636,397" fill="#3a3450"/>
<polygon points="734.8,385.3 753.6,396.4 753.6,429.7 734.8,440.8 716,429.7 716,396.4" fill="#2e3a30"/>
<polygon points="734.8,390.3 749.4,398.5 749.4,427.6 734.8,435.8 720.2,427.6 720.2,398.5" fill="#b3985e"/>
<polygon points="689,386 696,386 692.5,397" fill="#3a3450"/>
<polygon points="703,386 710,386 706.5,397" fill="#3a3450"/>
<polygon points="805.4,385.3 824.2,396.4 824.2,429.7 805.4,440.8 786.5,429.7 786.5,396.4" fill="#2e3a30"/>
<polygon points="805.4,390.3 820,398.5 820,427.6 805.4,435.8 790.8,427.6 790.8,398.5" fill="#b29562"/>
<polygon points="759.6,386 766.6,386 763.1,397" fill="#3a3450"/>
<polygon points="773.6,386 780.6,386 777.1,397" fill="#3a3450"/>
<polygon points="875.9,385.3 894.7,396.4 894.7,429.7 875.9,440.8 857.1,429.7 857.1,396.4" fill="#2e3a30"/>
<polygon points="875.9,390.3 890.5,398.5 890.5,427.6 875.9,435.8 861.3,427.6 861.3,398.5" fill="#b09066"/>
<polygon points="830.1,386 837.1,386 833.6,397" fill="#3a3450"/>
<polygon points="844.1,386 851.1,386 847.6,397" fill="#3a3450"/>
<polygon points="946.5,385.3 965.3,396.4 965.3,429.7 946.5,440.8 927.6,429.7 927.6,396.4" fill="#2e3a30"/>
<polygon points="946.5,390.3 961.1,398.5 961.1,427.6 946.5,435.8 931.9,427.6 931.9,398.5" fill="#b08c68"/>
<polygon points="900.7,386 907.7,386 904.2,397" fill="#3a3450"/>
<polygon points="914.7,386 921.7,386 918.2,397" fill="#3a3450"/>
<polygon points="1017,385.3 1035.8,396.4 1035.8,429.7 1017,440.8 998.2,429.7 998.2,396.4" fill="#2e3a30"/>
<polygon points="1017,390.3 1031.6,398.5 1031.6,427.6 1017,435.8 1002.4,427.6 1002.4,398.5" fill="#ae8a68"/>
<polygon points="971.2,386 978.2,386 974.7,397" fill="#3a3450"/>
<polygon points="985.2,386 992.2,386 988.7,397" fill="#3a3450"/>
<g clip-path="url(#clipmod)">
<polygon points="1087.5,385.3 1106.3,396.4 1106.3,429.7 1087.5,440.8 1068.8,429.7 1068.8,396.4" fill="#2e3a30"/>
<polygon points="1087.5,390.3 1102.1,398.5 1102.1,427.6 1087.5,435.8 1073,427.6 1073,398.5" fill="#ad8968"/>
</g>
<polygon points="1041.8,386 1048.8,386 1045.2,397" fill="#3a3450"/>
<polygon points="1055.8,386 1062.8,386 1059.2,397" fill="#3a3450"/>
<polygon points="138.6,455.8 1128.8,456.8 1128.8,460.3 138.6,459.2" fill="#2f2b5c"/>
<rect x="181" y="453.5" width="340" height="2.5" fill="#59603f"/>
<rect x="448.1" y="78.2" width="421.8" height="45.5" fill="#d5d1c4"/>
<text x="457" y="109.6">8-channel GeSi photodetectors</text>
<rect x="194.8" y="227.3" width="270" height="45.3" fill="#d5d1c4"/>
<text x="203.8" y="258.8">Edge coupler array</text>
<rect x="943.8" y="156.2" width="141.2" height="45.4" fill="#d5d1c4"/>
<text x="955.6" y="188">DC pads</text>
<rect x="517" y="310.2" width="572" height="45.5" fill="#d5d1c4"/>
<text x="553" y="342.8">8-channel silicon slow-light modulators</text>
<text x="558" y="239.5" font-style="italic" font-size="27.5" textLength="159" lengthAdjust="spacingAndGlyphs">Unrelated area</text>
<text x="205.5" y="429.8">200 μm</text>
<rect x="209" y="438" width="29" height="8.8" fill="#555"/>
<text x="404.5" y="428.2">0.5 mm</text>
<text x="1132.5" y="426.6">0.5 mm</text>
<text x="1101.5" y="493.2">4 mm</text>
<rect x="132.9" y="19" width="54.6" height="449.3" rx="27" fill="none" stroke="#4a4a4a" stroke-width="2.5" stroke-dasharray="8.6 8.2"/>
<rect x="515.4" y="364.2" width="584.6" height="105.6" rx="24" fill="none" stroke="#4a4a4a" stroke-width="2.5" stroke-dasharray="8.6 8.2"/>
<rect x="1095" y="100.3" width="43.8" height="288.2" rx="22" fill="none" stroke="#4a4a4a" stroke-width="2.5" stroke-dasharray="8.6 8.2"/>
<rect x="805.8" y="371.2" width="72.2" height="91.4" rx="26" fill="none" stroke="#c9c9c9" stroke-width="2.2" stroke-dasharray="9 7.5"/>
<line x1="527.2" y1="386" x2="527.2" y2="455" stroke="#c9c9c9" stroke-width="2.2" stroke-dasharray="9 7"/>
<line x1="596.8" y1="386" x2="596.8" y2="455" stroke="#c9c9c9" stroke-width="2.2" stroke-dasharray="9 7"/>
<line x1="536.5" y1="420" x2="587.5" y2="420" stroke="#c9c9c9" stroke-width="2.2"/>
<polygon points="596,420 582.5,425.5 586.5,420 582.5,414.5" fill="#c9c9c9"/>
<polygon points="528,420 541.5,414.5 537.5,420 541.5,425.5" fill="#c9c9c9"/>
<line x1="1103.6" y1="388.5" x2="1103.6" y2="445.1" stroke="#c9c9c9" stroke-width="2.2"/>
<polygon points="1103.6,453.6 1098.1,440.1 1103.6,444.2 1109.1,440.1" fill="#c9c9c9"/>
<polygon points="1103.6,380 1109.1,393.5 1103.6,389.4 1098.1,393.5" fill="#c9c9c9"/>
<line x1="846" y1="370" x2="1124" y2="188" stroke="#c9c9c9" stroke-width="2.2" stroke-dasharray="10 8"/>
<line x1="1124" y1="188" x2="1333" y2="51.5" stroke="#b4b4b4" stroke-width="2.2" stroke-dasharray="10 8"/>
<line x1="860" y1="461.5" x2="1128" y2="452.6" stroke="#c9c9c9" stroke-width="2.2" stroke-dasharray="10 8"/>
<line x1="1128" y1="452.6" x2="1366" y2="443.6" stroke="#b4b4b4" stroke-width="2.2" stroke-dasharray="10 8"/>
<line x1="542.7" y1="483.7" x2="1077.7" y2="483.7" stroke="#adadad" stroke-width="2.2"/>
<polygon points="1093.8,483.7 1068.3,491.3 1076,483.7 1068.3,476.1" fill="#adadad"/>
<polygon points="526.6,483.7 552.1,476.1 544.5,483.7 552.1,491.3" fill="#adadad"/>
<line x1="560.5" y1="560.8" x2="560.5" y2="505.9" stroke="#b3e3c9" stroke-width="4.9"/>
<polygon points="560.5,490.2 568.5,515.2 560.5,507.7 552.5,515.2" fill="#b3e3c9"/>
<line x1="632.7" y1="560.8" x2="632.7" y2="505.9" stroke="#b3e3c9" stroke-width="4.9"/>
<polygon points="632.7,490.2 640.7,515.2 632.7,507.7 624.7,515.2" fill="#b3e3c9"/>
<line x1="704.9" y1="560.8" x2="704.9" y2="505.9" stroke="#b3e3c9" stroke-width="4.9"/>
<polygon points="704.9,490.2 712.9,515.2 704.9,507.7 696.9,515.2" fill="#b3e3c9"/>
<line x1="777.1" y1="560.8" x2="777.1" y2="505.9" stroke="#b3e3c9" stroke-width="4.9"/>
<polygon points="777.1,490.2 785.1,515.2 777.1,507.7 769.1,515.2" fill="#b3e3c9"/>
<line x1="849.3" y1="560.8" x2="849.3" y2="505.9" stroke="#b3e3c9" stroke-width="4.9"/>
<polygon points="849.3,490.2 857.3,515.2 849.3,507.7 841.3,515.2" fill="#b3e3c9"/>
<line x1="921.5" y1="560.8" x2="921.5" y2="505.9" stroke="#b3e3c9" stroke-width="4.9"/>
<polygon points="921.5,490.2 929.5,515.2 921.5,507.7 913.5,515.2" fill="#b3e3c9"/>
<line x1="993.7" y1="560.8" x2="993.7" y2="505.9" stroke="#b3e3c9" stroke-width="4.9"/>
<polygon points="993.7,490.2 1001.7,515.2 993.7,507.7 985.7,515.2" fill="#b3e3c9"/>
<line x1="1065.9" y1="560.8" x2="1065.9" y2="505.9" stroke="#b3e3c9" stroke-width="4.9"/>
<polygon points="1065.9,490.2 1073.9,515.2 1065.9,507.7 1057.9,515.2" fill="#b3e3c9"/>
<text x="531.4" y="591.2">Ch1</text>
<text x="603.2" y="591.2">Ch2</text>
<text x="672.2" y="591.2">Ch3</text>
<text x="743.8" y="591.2">Ch4</text>
<text x="814.8" y="591.2">Ch5</text>
<text x="885.8" y="591.2">Ch6</text>
<text x="955.8" y="591.2">Ch7</text>
<text x="1027.4" y="591.2">Ch8</text>
<path d="M517.6 479.9 C495.6 481.9 474.1 484.4 477.6 488.9 C498.4 490.8 518.9 493.3 515.4 497.7 C494.6 499.6 474.1 502.1 477.6 506.5 C498.4 508.4 518.9 510.9 515.4 515.3 C494.6 517.2 474.1 519.7 477.6 524.1 C498.4 526 518.9 528.5 515.4 532.9 C494.6 534.8 474.1 537.2 477.6 541.6 C498.4 543.6 518.9 546 515.4 550.4 C494.6 552.4 474.1 554.8 477.6 559.2 C498.4 561.2 518.9 563.6 515.4 568 C494.6 569.6 474.1 571.7 477.6 575.4" fill="none" stroke="#b3e3c9" stroke-width="5" stroke-linecap="butt" stroke-linejoin="round"/>
<text x="351" y="556.6">RF input</text>
<text x="115.5" y="516.2">Optical input/output</text>
<line x1="83.6" y1="472.7" x2="83.6" y2="544.7" stroke="#fa857a" stroke-width="4.9"/>
<polygon points="60.7,483 106.8,483 83.6,509" fill="#fa857a"/>
<polygon points="69.5,487.4 98,487.4 83.6,503.6" fill="#fff"/>
<line x1="83.6" y1="472.7" x2="83.6" y2="544.7" stroke="#fa857a" stroke-width="4.9"/>
<line x1="65.1" y1="507.5" x2="102.4" y2="507.5" stroke="#fa857a" stroke-width="4.6"/>
<line x1="83.6" y1="508" x2="97" y2="517" stroke="#fa857a" stroke-width="4"/>
<polygon points="105.2,522.6 91,521.6 99.6,509.8" fill="#fa857a"/>
<line x1="83.6" y1="527.7" x2="100" y2="537" stroke="#fa857a" stroke-width="4"/>
<polygon points="109.6,541.9 95,541.4 102.6,528.6" fill="#fa857a"/>
</g>
<defs>
<pattern id="hatch" width="5" height="5" patternUnits="userSpaceOnUse"><rect width="5" height="5" fill="#d39c48"/><circle cx="1.25" cy="1.25" r="1.6" fill="#fbb482"/><circle cx="3.75" cy="3.75" r="1.6" fill="#fbb482"/></pattern>
<clipPath id="clipb"><rect x="1353.2" y="62" width="658.8" height="359.7"/></clipPath>
<linearGradient id="semg" x1="0" y1="0" x2="0" y2="1"><stop offset="0" stop-color="#d9a3bd"/><stop offset="0.5" stop-color="#bd85a3"/><stop offset="1" stop-color="#d9a3bd"/></linearGradient>
</defs>
<g id="pb">
<g clip-path="url(#clipb)">
<rect x="1353.2" y="62" width="658.8" height="359.7" fill="#b39c4e"/>
<rect x="1353.2" y="62" width="7.8" height="359.7" fill="#a8903f"/>
<polygon points="1421.4,70 1461,156 1666,156 1707.2,85 1707.2,400 1666,328.6 1461,328.6 1421.4,414" fill="#fdd37a"/>
<polygon points="1451.3,62 1679.8,62 1628.8,132.7 1484.7,132.7" fill="url(#hatch)"/>
<polygon points="1451.3,421.7 1679.8,421.7 1628.8,351.3 1484.7,351.3" fill="url(#hatch)"/>
<polygon points="1421.4,142.6 1421.4,129.1 1440,158.6 1462.7,192.1 1462.7,196.1" fill="#b39c4e"/>
<polygon points="1462,196.6 1654,196.2 1654,191.8 1462,192.1" fill="#c99552"/>
<polygon points="1654,194 1707.2,119.1 1707.2,154.6 1660,197.1" fill="#b39c4e"/>
<polygon points="1421.4,213.1 1421.4,200.3 1463,205 1463,207" fill="#b39c4e"/>
<polygon points="1463,207.2 1654,207.2 1654,204.8 1463,204.8" fill="#cf8a92"/>
<polygon points="1654,207.2 1707.2,222.6 1760,222.6 1760,188.6 1707.2,188.6 1660,204.1" fill="#b39c4e"/>
<polygon points="1421.4,342 1421.4,355.5 1440,326 1462.7,292.5 1462.7,288.5" fill="#b39c4e"/>
<polygon points="1462,288 1654,288.4 1654,292.8 1462,292.5" fill="#c99552"/>
<polygon points="1654,290.6 1707.2,365.5 1707.2,330 1660,287.5" fill="#b39c4e"/>
<polygon points="1421.4,271.5 1421.4,284.3 1463,279.6 1463,277.6" fill="#b39c4e"/>
<polygon points="1463,277.4 1654,277.4 1654,279.8 1463,279.8" fill="#cf8a92"/>
<polygon points="1654,277.4 1707.2,262 1760,262 1760,296 1707.2,296 1660,280.5" fill="#b39c4e"/>
<line x1="1654" y1="206.3" x2="1790" y2="206.3" stroke="#a89645" stroke-width="1"/>
<line x1="1654" y1="278.4" x2="1790" y2="278.4" stroke="#a89645" stroke-width="1"/>
<rect x="1720" y="100" width="9.7" height="290" fill="#d9a248"/>
<rect x="1363.4" y="71.3" width="58" height="57.6" fill="#5f6a2c"/>
<rect x="1365.2" y="73.1" width="54.4" height="54" fill="#a09a4e"/>
<rect x="1367.4" y="75.3" width="50" height="49.6" fill="#fdee9a"/>
<rect x="1363.4" y="142.2" width="58" height="57.6" fill="#5f6a2c"/>
<rect x="1365.2" y="144.1" width="54.4" height="54" fill="#a09a4e"/>
<rect x="1367.4" y="146.2" width="50" height="49.6" fill="#fdee9a"/>
<rect x="1363.4" y="213.2" width="58" height="57.6" fill="#5f6a2c"/>
<rect x="1365.2" y="215" width="54.4" height="54" fill="#a09a4e"/>
<rect x="1367.4" y="217.2" width="50" height="49.6" fill="#fdee9a"/>
<rect x="1363.4" y="284.2" width="58" height="57.6" fill="#5f6a2c"/>
<rect x="1365.2" y="286" width="54.4" height="54" fill="#a09a4e"/>
<rect x="1367.4" y="288.2" width="50" height="49.6" fill="#fdee9a"/>
<rect x="1363.4" y="355.1" width="58" height="57.6" fill="#5f6a2c"/>
<rect x="1365.2" y="356.9" width="54.4" height="54" fill="#a09a4e"/>
<rect x="1367.4" y="359.1" width="50" height="49.6" fill="#fdee9a"/>
<rect x="1707.1" y="83.6" width="36.6" height="36.8" fill="#4e4a2a"/>
<rect x="1709.6" y="86.1" width="31.6" height="31.8" fill="#fdee9a"/>
<rect x="1707.1" y="155.1" width="36.6" height="36.8" fill="#4e4a2a"/>
<rect x="1709.6" y="157.6" width="31.6" height="31.8" fill="#fdee9a"/>
<rect x="1707.1" y="226.2" width="36.6" height="36.8" fill="#4e4a2a"/>
<rect x="1709.6" y="228.7" width="31.6" height="31.8" fill="#fdee9a"/>
<rect x="1707.1" y="297.1" width="36.6" height="36.8" fill="#4e4a2a"/>
<rect x="1709.6" y="299.6" width="31.6" height="31.8" fill="#fdee9a"/>
<rect x="1707.1" y="367.7" width="36.6" height="36.8" fill="#4e4a2a"/>
<rect x="1709.6" y="370.2" width="31.6" height="31.8" fill="#fdee9a"/>
<rect x="1789.2" y="62" width="21.2" height="359.7" fill="#fdd37a"/>
<rect x="1832.2" y="62" width="160.6" height="96.5" fill="url(#hatch)"/>
<rect x="1832.2" y="158.5" width="7.8" height="17.5" fill="url(#hatch)"/>
<rect x="1862.3" y="180.8" width="147.7" height="11.2" fill="#fdd37a"/>
<rect x="2006" y="181" width="4" height="240.7" fill="#fdd37a"/>
<rect x="1862.3" y="192" width="11.2" height="20.7" fill="#fdd37a"/>
<rect x="1937.3" y="192" width="10.6" height="20.7" fill="#fdd37a"/>
<rect x="1823" y="227" width="129.5" height="33.2" fill="#fdd37a"/>
<rect x="1809.6" y="229.5" width="13.6" height="30.7" fill="#fdd37a"/>
<rect x="1823" y="205.5" width="10.6" height="21.7" fill="#fdd37a"/>
<rect x="1898" y="206" width="10.7" height="21.2" fill="#fdd37a"/>
<rect x="1862.3" y="260" width="10.6" height="23.8" fill="#fdd37a"/>
<rect x="1937.2" y="260" width="10.7" height="23.8" fill="#fdd37a"/>
<rect x="1823" y="299" width="179" height="10.4" fill="#fdd37a"/>
<rect x="1823" y="277.4" width="10.6" height="21.8" fill="#fdd37a"/>
<rect x="1898" y="278" width="10.7" height="21.2" fill="#fdd37a"/>
<rect x="1998" y="309" width="4" height="112.7" fill="#fdd37a"/>
<rect x="1835.2" y="193.6" width="25.4" height="30.4" fill="#9d8c3a"/>
<rect x="1835.2" y="264.6" width="25.4" height="31.2" fill="#9d8c3a"/>
<rect x="1839" y="198.3" width="17.8" height="7.3" fill="#1d1a10"/>
<rect x="1839" y="213.4" width="17.8" height="7.4" fill="#1d1a10"/>
<rect x="1839" y="269.4" width="17.8" height="7.3" fill="#1d1a10"/>
<rect x="1839" y="284.5" width="17.8" height="7.4" fill="#1d1a10"/>
<rect x="1874.4" y="193.6" width="23.4" height="30.4" fill="#9d8c3a"/>
<rect x="1874.4" y="264.6" width="23.4" height="31.2" fill="#9d8c3a"/>
<rect x="1877.2" y="198.3" width="17.8" height="7.3" fill="#1d1a10"/>
<rect x="1877.2" y="213.4" width="17.8" height="7.4" fill="#1d1a10"/>
<rect x="1877.2" y="269.4" width="17.8" height="7.3" fill="#1d1a10"/>
<rect x="1877.2" y="284.5" width="17.8" height="7.4" fill="#1d1a10"/>
<rect x="1911" y="193.6" width="24.6" height="30.4" fill="#9d8c3a"/>
<rect x="1911" y="264.6" width="24.6" height="31.2" fill="#9d8c3a"/>
<rect x="1914.4" y="198.3" width="17.8" height="7.3" fill="#1d1a10"/>
<rect x="1914.4" y="213.4" width="17.8" height="7.4" fill="#1d1a10"/>
<rect x="1914.4" y="269.4" width="17.8" height="7.3" fill="#1d1a10"/>
<rect x="1914.4" y="284.5" width="17.8" height="7.4" fill="#1d1a10"/>
<rect x="1830.2" y="331" width="145.2" height="90.7" fill="url(#hatch)"/>
</g>
<rect x="1439" y="63" width="123" height="40" fill="rgba(255,255,255,0.64)"/>
<text x="1446.5" y="92.4">RF pads</text>
<rect x="1457" y="118.5" width="208" height="40.1" fill="rgba(255,255,255,0.64)"/>
<text x="1460" y="148.2">Modulation arm</text>
<rect x="1761.1" y="76" width="231.3" height="41.1" fill="rgba(255,255,255,0.64)"/>
<text x="1764.6" y="104.8">On-chip resistors</text>
<rect x="1830.8" y="331.1" width="144.6" height="41" fill="rgba(255,255,255,0.64)"/>
<text x="1834" y="360.6">TiN heater</text>
<rect x="1841.2" y="395.2" width="35.7" height="9" fill="#555"/>
<text x="1886.4" y="407.4">50 μm</text>
<text x="1506.6" y="243.4">249 μm</text>
<text x="1391.8" y="108" text-anchor="middle">G</text>
<text x="1391.8" y="179" text-anchor="middle">S</text>
<text x="1391.8" y="249.9" text-anchor="middle">G</text>
<text x="1391.8" y="320.9" text-anchor="middle">S</text>
<text x="1391.8" y="391.8" text-anchor="middle">G</text>
<rect x="1342.3" y="52.7" width="90.5" height="382.6" rx="25" fill="none" stroke="#4b4e55" stroke-width="2.6" stroke-dasharray="10.2 6.8"/>
<rect x="1463.6" y="173.2" width="179.3" height="139.1" rx="25" fill="none" stroke="#4b4e55" stroke-width="2.6" stroke-dasharray="10.2 6.8"/>
<rect x="1694.5" y="71.6" width="58" height="344.2" rx="29" fill="none" stroke="#4b4e55" stroke-width="2.6" stroke-dasharray="10.2 6.8"/>
<rect x="1813.6" y="172.7" width="148.4" height="148.8" rx="26" fill="none" stroke="#4b4e55" stroke-width="2.6" stroke-dasharray="10.2 6.8"/>
<rect x="1531.3" y="270" width="48.3" height="18" rx="7" fill="none" stroke="#aeb1b8" stroke-width="2.2" stroke-dasharray="8 6"/>
<line x1="1480" y1="257.2" x2="1626.5" y2="257.2" stroke="#aaabb0" stroke-width="2.4"/>
<polygon points="1642,257.2 1617.4,264.6 1624.8,257.2 1617.4,249.8" fill="#aaabb0"/>
<polygon points="1464.5,257.2 1489.1,249.8 1481.7,257.2 1489.1,264.6" fill="#aaabb0"/>
<line x1="1381.8" y1="469.6" x2="1527.5" y2="281" stroke="#b0b2b6" stroke-width="2.3" stroke-dasharray="8.4 8.6"/>
<line x1="1796" y1="469.6" x2="1580.5" y2="278.5" stroke="#b0b2b6" stroke-width="2.3" stroke-dasharray="8.4 8.6"/>
<text x="1244.4" y="137.8">011...</text>
<text x="1246" y="282.4">100...</text>
<text x="1168.4" y="185.6">Bias</text>
<text x="1168.4" y="313.5">Bias</text>
<text x="1148.8" y="240">Light in</text>
<line x1="1230.3" y1="177.7" x2="1335.9" y2="177.7" stroke="#ababab" stroke-width="2"/>
<line x1="1230.3" y1="305.6" x2="1335.9" y2="305.6" stroke="#ababab" stroke-width="2"/>
<polyline points="1230.3,188.4 1247.6,188.4 1247.6,150.3 1287.5,150.3 1287.5,188.4 1302.6,188.4 1302.6,150.3 1316.4,150.3 1316.4,188.4 1335.9,188.4" fill="none" stroke="#abdafb" stroke-width="4.2"/>
<polyline points="1230.3,295 1247.6,295 1247.6,333 1287.5,333 1287.5,295 1302.6,295 1302.6,333 1316.4,333 1316.4,295 1335.9,295" fill="none" stroke="#abdafb" stroke-width="4.2"/>
<line x1="1247.6" y1="233.1" x2="1316.2" y2="233.1" stroke="#fb6530" stroke-width="4.4"/>
<polygon points="1332.6,233.1 1306.6,241.2 1314.4,233.1 1306.6,225" fill="#fb6530"/>
<text x="1449.2" y="454.5">Slow-light waveguide</text>
<defs><clipPath id="clipsem"><rect x="1379.1" y="471.1" width="417.8" height="113.4"/></clipPath></defs>
<g clip-path="url(#clipsem)">
<rect x="1379.1" y="471.1" width="417.8" height="113.4" fill="#e7e7e7"/>
<rect x="1379.1" y="479" width="417.8" height="99" fill="#dfdfdf"/>
<path d="M1348.1 508 C1354.4 508 1357.2 500.1 1357.8 491.6 C1358.4 484.1 1360.9 481.5 1364.6 481.5 C1368.3 481.5 1370.8 484.1 1371.4 491.6 C1372 500.1 1374.8 508 1381.1 508 Z" fill="#dba6c0"/>
<path d="M1348.1 549.5 C1354.4 549.5 1357.2 557.5 1357.8 565.9 C1358.4 573.4 1360.9 576 1364.6 576 C1368.3 576 1370.8 573.4 1371.4 565.9 C1372 557.5 1374.8 549.5 1381.1 549.5 Z" fill="#dba6c0"/>
<path d="M1379 508 C1385.3 508 1388.1 500.1 1388.7 491.6 C1389.3 484.1 1391.8 481.5 1395.5 481.5 C1399.2 481.5 1401.7 484.1 1402.3 491.6 C1402.9 500.1 1405.7 508 1412 508 Z" fill="#dba6c0"/>
<path d="M1379 549.5 C1385.3 549.5 1388.1 557.5 1388.7 565.9 C1389.3 573.4 1391.8 576 1395.5 576 C1399.2 576 1401.7 573.4 1402.3 565.9 C1402.9 557.5 1405.7 549.5 1412 549.5 Z" fill="#dba6c0"/>
<path d="M1409.8 508 C1416.1 508 1418.9 500.1 1419.5 491.6 C1420.1 484.1 1422.6 481.5 1426.3 481.5 C1430 481.5 1432.5 484.1 1433.1 491.6 C1433.7 500.1 1436.5 508 1442.8 508 Z" fill="#dba6c0"/>
<path d="M1409.8 549.5 C1416.1 549.5 1418.9 557.5 1419.5 565.9 C1420.1 573.4 1422.6 576 1426.3 576 C1430 576 1432.5 573.4 1433.1 565.9 C1433.7 557.5 1436.5 549.5 1442.8 549.5 Z" fill="#dba6c0"/>
<path d="M1440.5 508 C1446.8 508 1449.6 500.1 1450.2 491.6 C1450.8 484.1 1453.3 481.5 1457 481.5 C1460.7 481.5 1463.2 484.1 1463.8 491.6 C1464.4 500.1 1467.2 508 1473.5 508 Z" fill="#dba6c0"/>
<path d="M1440.5 549.5 C1446.8 549.5 1449.6 557.5 1450.2 565.9 C1450.8 573.4 1453.3 576 1457 576 C1460.7 576 1463.2 573.4 1463.8 565.9 C1464.4 557.5 1467.2 549.5 1473.5 549.5 Z" fill="#dba6c0"/>
<path d="M1471.5 508 C1477.8 508 1480.6 500.1 1481.2 491.6 C1481.8 484.1 1484.3 481.5 1488 481.5 C1491.7 481.5 1494.2 484.1 1494.8 491.6 C1495.4 500.1 1498.2 508 1504.5 508 Z" fill="#dba6c0"/>
<path d="M1471.5 549.5 C1477.8 549.5 1480.6 557.5 1481.2 565.9 C1481.8 573.4 1484.3 576 1488 576 C1491.7 576 1494.2 573.4 1494.8 565.9 C1495.4 557.5 1498.2 549.5 1504.5 549.5 Z" fill="#dba6c0"/>
<path d="M1502.5 508 C1508.8 508 1511.6 500.1 1512.2 491.6 C1512.8 484.1 1515.3 481.5 1519 481.5 C1522.7 481.5 1525.2 484.1 1525.8 491.6 C1526.4 500.1 1529.2 508 1535.5 508 Z" fill="#dba6c0"/>
<path d="M1502.5 549.5 C1508.8 549.5 1511.6 557.5 1512.2 565.9 C1512.8 573.4 1515.3 576 1519 576 C1522.7 576 1525.2 573.4 1525.8 565.9 C1526.4 557.5 1529.2 549.5 1535.5 549.5 Z" fill="#dba6c0"/>
<path d="M1533.3 508 C1539.6 508 1542.4 500.1 1543 491.6 C1543.6 484.1 1546.1 481.5 1549.8 481.5 C1553.5 481.5 1556 484.1 1556.6 491.6 C1557.2 500.1 1560 508 1566.3 508 Z" fill="#dba6c0"/>
<path d="M1533.3 549.5 C1539.6 549.5 1542.4 557.5 1543 565.9 C1543.6 573.4 1546.1 576 1549.8 576 C1553.5 576 1556 573.4 1556.6 565.9 C1557.2 557.5 1560 549.5 1566.3 549.5 Z" fill="#dba6c0"/>
<path d="M1609.7 508 C1616 508 1618.8 500.1 1619.4 491.6 C1620 484.1 1622.5 481.5 1626.2 481.5 C1629.9 481.5 1632.4 484.1 1633 491.6 C1633.6 500.1 1636.4 508 1642.7 508 Z" fill="#dba6c0"/>
<path d="M1609.7 549.5 C1616 549.5 1618.8 557.5 1619.4 565.9 C1620 573.4 1622.5 576 1626.2 576 C1629.9 576 1632.4 573.4 1633 565.9 C1633.6 557.5 1636.4 549.5 1642.7 549.5 Z" fill="#dba6c0"/>
<path d="M1640 508 C1646.3 508 1649.1 500.1 1649.7 491.6 C1650.3 484.1 1652.8 481.5 1656.5 481.5 C1660.2 481.5 1662.7 484.1 1663.3 491.6 C1663.9 500.1 1666.7 508 1673 508 Z" fill="#dba6c0"/>
<path d="M1640 549.5 C1646.3 549.5 1649.1 557.5 1649.7 565.9 C1650.3 573.4 1652.8 576 1656.5 576 C1660.2 576 1662.7 573.4 1663.3 565.9 C1663.9 557.5 1666.7 549.5 1673 549.5 Z" fill="#dba6c0"/>
<path d="M1670.3 508 C1676.6 508 1679.4 500.1 1680 491.6 C1680.6 484.1 1683.1 481.5 1686.8 481.5 C1690.5 481.5 1693 484.1 1693.6 491.6 C1694.2 500.1 1697 508 1703.3 508 Z" fill="#dba6c0"/>
<path d="M1670.3 549.5 C1676.6 549.5 1679.4 557.5 1680 565.9 C1680.6 573.4 1683.1 576 1686.8 576 C1690.5 576 1693 573.4 1693.6 565.9 C1694.2 557.5 1697 549.5 1703.3 549.5 Z" fill="#dba6c0"/>
<path d="M1701.8 508 C1708.1 508 1710.9 500.1 1711.5 491.6 C1712.1 484.1 1714.6 481.5 1718.3 481.5 C1722 481.5 1724.5 484.1 1725.1 491.6 C1725.7 500.1 1728.5 508 1734.8 508 Z" fill="#dba6c0"/>
<path d="M1701.8 549.5 C1708.1 549.5 1710.9 557.5 1711.5 565.9 C1712.1 573.4 1714.6 576 1718.3 576 C1722 576 1724.5 573.4 1725.1 565.9 C1725.7 557.5 1728.5 549.5 1734.8 549.5 Z" fill="#dba6c0"/>
<path d="M1732.5 508 C1738.8 508 1741.6 500.1 1742.2 491.6 C1742.8 484.1 1745.3 481.5 1749 481.5 C1752.7 481.5 1755.2 484.1 1755.8 491.6 C1756.4 500.1 1759.2 508 1765.5 508 Z" fill="#dba6c0"/>
<path d="M1732.5 549.5 C1738.8 549.5 1741.6 557.5 1742.2 565.9 C1742.8 573.4 1745.3 576 1749 576 C1752.7 576 1755.2 573.4 1755.8 565.9 C1756.4 557.5 1759.2 549.5 1765.5 549.5 Z" fill="#dba6c0"/>
<path d="M1763.5 508 C1769.8 508 1772.6 500.1 1773.2 491.6 C1773.8 484.1 1776.3 481.5 1780 481.5 C1783.7 481.5 1786.2 484.1 1786.8 491.6 C1787.4 500.1 1790.2 508 1796.5 508 Z" fill="#dba6c0"/>
<path d="M1763.5 549.5 C1769.8 549.5 1772.6 557.5 1773.2 565.9 C1773.8 573.4 1776.3 576 1780 576 C1783.7 576 1786.2 573.4 1786.8 565.9 C1787.4 557.5 1790.2 549.5 1796.5 549.5 Z" fill="#dba6c0"/>
<path d="M1794.5 508 C1800.8 508 1803.6 500.1 1804.2 491.6 C1804.8 484.1 1807.3 481.5 1811 481.5 C1814.7 481.5 1817.2 484.1 1817.8 491.6 C1818.4 500.1 1821.2 508 1827.5 508 Z" fill="#dba6c0"/>
<path d="M1794.5 549.5 C1800.8 549.5 1803.6 557.5 1804.2 565.9 C1804.8 573.4 1807.3 576 1811 576 C1814.7 576 1817.2 573.4 1817.8 565.9 C1818.4 557.5 1821.2 549.5 1827.5 549.5 Z" fill="#dba6c0"/>
<path d="M1563 508 C1572.5 508 1573.3 499.8 1573.9 490.9 C1574.5 483.2 1579.9 480.5 1588 480.5 C1596.1 480.5 1601.5 483.2 1602.1 490.9 C1602.7 499.8 1603.5 508 1613 508 Z" fill="#d49bb8"/>
<path d="M1563 549.5 C1572.5 549.5 1573.3 557.8 1573.9 566.5 C1574.5 574.2 1579.9 577 1588 577 C1596.1 577 1601.5 574.2 1602.1 566.5 C1602.7 557.8 1603.5 549.5 1613 549.5 Z" fill="#d49bb8"/>
<rect x="1379.1" y="505.8" width="417.8" height="45.8" fill="url(#semg)"/>
</g>
<text x="1380" y="572.2">300 nm</text>
<rect x="1380.2" y="576" width="32.6" height="8.5" fill="#555"/>
</g>
<g id="pc">
<clipPath id="clipc"><rect x="96.9" y="645.3" width="528.5" height="469.3"/></clipPath>
<line x1="96.9" y1="738.5" x2="531.4" y2="738.5" stroke="#b1b1b1" stroke-width="2.3" stroke-dasharray="8.8 8"/>
<line x1="96.9" y1="821.1" x2="625.4" y2="821.1" stroke="#b1b1b1" stroke-width="2.3" stroke-dasharray="8.8 8"/>
<line x1="531.4" y1="747" x2="531.4" y2="1114.6" stroke="#b1b1b1" stroke-width="2.3" stroke-dasharray="8.8 8"/>
<polyline points="96.8,823.9 97.5,825.1 98.3,825.7 99,824.8 99.8,824.8 100.5,826.6 101.3,828.1 102,830 102.8,829.9 103.5,831.6 104.3,834.9 105,836.5 105.8,838.9 106.5,839.7 107.3,839.8 108,840.1 108.8,842.2 109.5,839.8 110.3,838.9 111,837.9 111.8,837.9 112.5,837 113.3,835.7 114,835.1 114.8,834.5 115.5,834.2 116.3,834.1 117,833.1 117.8,831.5 118.5,833.3 119.3,831.7 120,832.6 120.8,831.8 121.5,833.1 122.3,833 123,834.4 123.8,837.7 124.5,836.4 125.3,838.6 126,838.7 126.8,841.3 127.5,844.1 128.3,845.6 129,848 129.8,849.7 130.5,850.6 131.3,853.2 132,853.2 132.8,855.9 133.5,854.4 134.3,855.1 135,854 135.8,853.8 136.5,851.4 137.3,851.2 138,848.9 138.8,848.5 139.5,846.6 140.3,845.1 141,843.5 141.8,844.1 142.5,843.4 143.3,844.1 144,842.6 144.8,843.3 145.5,843.3 146.3,843.6 147,844.4 147.8,845.7 148.5,847.2 149.3,849.6 150,853.2 150.8,857.5 151.5,862 152.3,865.4 153,869 153.8,871.8 154.5,874 155.3,875 156,875.9 156.8,876.3 157.5,873.6 158.3,871.6 159,871.5 159.8,867.8 160.5,866 161.3,863.6 162,860.2 162.8,861.3 163.5,859.7 164.3,857.8 165,857.9 165.8,857.4 166.5,856.6 167.3,857.4 168,858.4 168.8,860.2 169.5,861.9 170.3,864.4 171,869.2 171.8,872.1 172.5,878.3 173.3,883.8 174,888 174.8,891.7 175.5,896.4 176.3,900.3 177,902.3 177.8,903.6 178.5,900.8 179.3,899.4 180,896.7 180.8,892.2 181.5,886.3 182.3,884.3 183,881.4 183.8,877 184.5,872.8 185.3,871.3 186,870.7 186.8,871.9 187.5,870.4 188.3,870 189,871.4 189.8,870.9 190.5,873.9 191.3,874.4 192,877.9 192.8,883.2 193.5,888.9 194.3,894 195,899.6 195.8,903.9 196.5,910 197.3,914.5 198,917.8 198.8,920.5 199.5,920.2 200.3,920.1 201,917.6 201.8,914.4 202.5,911.2 203.3,907.6 204,904.1 204.8,899.5 205.5,896.7 206.3,893.5 207,894.2 207.8,893.1 208.5,891.5 209.3,891.2 210,890.7 210.8,891.9 211.5,892.5 212.3,895 213,895.1 213.8,896.6 214.5,898.1 215.3,904.3 216,907 216.8,909.4 217.5,914.3 218.3,916.3 219,922.8 219.8,923 220.5,923.6 221.3,923.2 222,921.2 222.8,921.7 223.5,919.2 224.3,919.1 225,915.3 225.8,914.4 226.5,914.3 227.3,913.2 228,910.1 228.8,909.1 229.5,910.5 230.3,910.3 231,908.9 231.8,909.1 232.5,909.2 233.3,909.2 234,910.1 234.8,912.3 235.5,912.9 236.3,915.1 237,914.6 237.8,915.7 238.5,916 239.3,917.2 240,916.6 240.8,916 241.5,917.2 242.3,916.7 243,914.9 243.8,913.9 244.5,911.6 245.3,909.6 246,909.2 246.8,908.2 247.5,907.2 248.3,906.6 249,906.7 249.8,907.9 250.5,908.2 251.3,908.2 252,910.5 252.8,911 253.5,913.1 254.3,915.6 255,916.3 255.8,917.5 256.5,921.2 257.3,921.3 258,923.2 258.8,922.1 259.5,920.9 260.3,918 261,912.5 261.8,910.8 262.5,906.1 263.3,902.7 264,900.2 264.8,899.3 265.5,898.2 266.3,897.9 267,895.8 267.8,896.6 268.5,895.5 269.3,897.8 270,899.4 270.8,900.2 271.5,903.4 272.3,906.3 273,910.2 273.8,912.2 274.5,915.4 275.3,918.2 276,922.2 276.8,922.9 277.5,922.1 278.3,921 279,918.2 279.8,914.2 280.5,909.1 281.3,903.9 282,898.1 282.8,894 283.5,892 284.3,888.4 285,886.3 285.8,885.2 286.5,885.2 287.3,885.4 288,884.7 288.8,886 289.5,887.3 290.3,888.8 291,892.1 291.8,896.2 292.5,901.2 293.3,908.3 294,911.6 294.8,918.8 295.5,923.4 296.3,927.3 297,930.4 297.8,932.1 298.5,930.7 299.3,928.2 300,924 300.8,919.4 301.5,914.4 302.3,907.4 303,900.8 303.8,895.2 304.5,890.7 305.3,886.7 306,886 306.8,883.8 307.5,882.6 308.3,883.7 309,882.1 309.8,883.4 310.5,884.3 311.3,884.4 312,887.4 312.8,892.2 313.5,899 314.3,905.5 315,910.2 315.8,918.4 316.5,923.1 317.3,927.7 318,930.6 318.8,931.8 319.5,929.9 320.3,928 321,923.9 321.8,920.1 322.5,915.4 323.3,909.5 324,900.8 324.8,893.7 325.5,889.3 326.3,884.4 327,883.2 327.8,879.8 328.5,877.4 329.3,878 330,877.6 330.8,875.9 331.5,877.1 332.3,878.3 333,880.5 333.8,883.8 334.5,887.8 335.3,893.7 336,899.2 336.8,905.2 337.5,912.9 338.3,917 339,920.6 339.8,920.9 340.5,921.9 341.3,921.2 342,916.9 342.8,914.9 343.5,909.2 344.3,904.7 345,898.9 345.8,894 346.5,889.8 347.3,884.4 348,882.4 348.8,878.1 349.5,876.2 350.3,876.4 351,874.6 351.8,875.1 352.5,876 353.3,876.6 354,875.3 354.8,878.9 355.5,883.1 356.3,886.8 357,891.1 357.8,897 358.5,903.9 359.3,910 360,917 360.8,922.4 361.5,926.5 362.3,929.8 363,929.3 363.8,926.6 364.5,924.8 365.3,917.6 366,911.1 366.8,903.6 367.5,895.4 368.3,887.2 369,880.9 369.8,877.1 370.5,870.6 371.3,868 372,867.3 372.8,866.3 373.5,866.2 374.3,866.4 375,864.8 375.8,867.7 376.5,872.4 377.3,878.7 378,887.3 378.8,896.1 379.5,906 380.3,916.8 381,926.3 381.8,934.6 382.5,940.4 383.3,941.8 384,940.5 384.8,936.7 385.5,932.3 386.3,924.4 387,914.9 387.8,905.2 388.5,896 389.3,887.2 390,881.1 390.8,874.8 391.5,872.5 392.3,870.5 393,871.3 393.8,870.1 394.5,870.8 395.3,872.5 396,876.1 396.8,878.6 397.5,885 398.3,894.8 399,902.6 399.8,914.3 400.5,923.5 401.3,933.1 402,938.9 402.8,946.2 403.5,947 404.3,945.9 405,945.9 405.8,940 406.5,936.6 407.3,926.5 408,918.3 408.8,911.3 409.5,905.9 410.3,898.4 411,894.3 411.8,891.1 412.5,887.6 413.3,887.7 414,886.8 414.8,886 415.5,888.3 416.3,888.6 417,889.3 417.8,890.5 418.5,892.5 419.3,899.2 420,903.6 420.8,907.9 421.5,915.9 422.3,920.9 423,928.8 423.8,934.9 424.5,940 425.3,943.6 426,945.9 426.8,945.3 427.5,945.5 428.3,943.9 429,941.9 429.8,939.3 430.5,936.1 431.3,933.2 432,924.5 432.8,923.6 433.5,919.1 434.3,918.4 435,914 435.8,908.8 436.5,909.3 437.3,907.2 438,908.2 438.8,905.6 439.5,906.6 440.3,906.6 441,907.1 441.8,907.8 442.5,908.9 443.3,915.4 444,921.6 444.8,927.5 445.5,934.9 446.3,945.5 447,955.6 447.8,964.2 448.5,973 449.3,981.8 450,984.2 450.8,987.8 451.5,986.7 452.3,986.4 453,982.7 453.8,977 454.5,970.5 455.3,965.7 456,955.2 456.8,947.1 457.5,942.2 458.3,932.8 459,925.1 459.8,923.3 460.5,918.7 461.3,920 462,915.6 462.8,916.2 463.5,914.9 464.3,917.4 465,917.6 465.8,922.1 466.5,927.3 467.3,934.9 468,946.9 468.8,958.6 469.5,970.2 470.3,981.8 471,993.4 471.8,1005 472.5,1014.8 473.3,1015 474,1014.8 474.8,1011.8 475.5,1005.1 476.3,996.6 477,986.9 477.8,976.9 478.5,962.5 479.3,949.4 480,936.4 480.8,928.6 481.5,920 482.3,912.1 483,907.9 483.8,906.7 484.5,906.9 485.3,906.1 486,905.6 486.8,906 487.5,910.3 488.3,916.7 489,930.5 489.8,940.6 490.5,958.9 491.3,979.7 492,995.7 492.8,1013.5 493.5,1022.9 494.3,1029.1 495,1028.4 495.8,1022.8 496.5,1015.4 497.3,1008.6 498,992.9 498.8,977.7 499.5,962.4 500.3,946.4 501,932.7 501.8,918.4 502.5,908.2 503.3,902.2 504,895.1 504.8,890.6 505.5,890.9 506.3,890.1 507,891.8 507.8,890.8 508.5,893 509.3,899.3 510,910.3 510.8,919.4 511.5,933.4 512.3,948.5 513,964.5 513.8,980 514.5,992.8 515.3,996.8 516,1005.2 516.8,1002.6 517.5,997.3 518.3,992.8 519,977.3 519.8,966.5 520.5,949.7 521.3,931.1 522,918.3 522.8,905 523.5,892.2 524.3,879.8 525,876.2 525.8,872.4 526.5,869 527.3,872.7 528,869.6 528.8,869.5 529.5,870.6 530.3,872 531,875.8 531.8,882.6 532.5,890 533.3,897.3 534,907.4 534.8,915.2 535.5,927.6 536.3,934.1 537,942.3 537.8,945 538.5,947.4 539.3,947.5 540,940.9 540.8,939.4 541.5,926 542.3,914.8 543,902 543.8,894 544.5,882.9 545.3,872 546,862 546.8,858.2 547.5,856.7 548.3,853.4 549,851.8 549.8,851.8 550.5,852.8 551.3,855.3 552,857 552.8,862.7 553.5,873.8 554.3,880.5 555,885.6 555.8,898.1 556.5,907.8 557.3,916.5 558,925.7 558.8,928.2 559.5,930 560.3,928.8 561,925.4 561.8,921.4 562.5,912.5 563.3,899.5 564,891.1 564.8,880.8 565.5,874.5 566.3,865.9 567,861.1 567.8,855.2 568.5,849.5 569.3,852.3 570,851.6 570.8,852 571.5,849.2 572.3,852.6 573,853.4 573.8,856.9 574.5,863.7 575.3,870.1 576,875.5 576.8,882.3 577.5,889.4 578.3,900.7 579,910.7 579.8,914 580.5,913.6 581.3,917.2 582,918.1 582.8,916.8 583.5,910.4 584.3,901.9 585,893.5 585.8,882.9 586.5,875.7 587.3,868.4 588,861.3 588.8,857.9 589.5,853.7 590.3,852.9 591,854 591.8,852.5 592.5,851.9 593.3,851 594,849.4 594.8,853.5 595.5,857.1 596.3,857.6 597,865.6 597.8,866.8 598.5,872.1 599.3,874.4 600,875.2 600.8,882.6 601.5,876.7 602.3,879.5 603,875 603.8,874 604.5,869 605.3,866.5 606,865.7 606.8,864.5 607.5,856.6 608.3,856 609,856.2 609.8,852.2 610.5,854.2 611.3,851.1 612,853.7 612.8,853.5 613.5,855.5 614.3,855.2 615,854.3 615.8,860.8 616.5,861.1 617.3,868.5 618,873.7 618.8,874.9 619.5,874.7 620.3,878.7 621,875.2 621.8,868.5 622.5,865.1 623.3,863.7 624,856.9 624.8,856.1 625.5,854.8" fill="none" stroke="#f4777c" stroke-width="2.6" stroke-linejoin="round" clip-path="url(#clipc)"/>
<polyline points="96.9,704 97.7,702.9 98.5,703 99.3,702.1 100.1,702.7 100.9,702.1 101.7,702.2 102.5,702 103.3,702.6 104.1,701.2 104.9,701.3 105.7,700.9 106.5,701.2 107.3,700.6 108.1,700.4 108.9,700.3 109.7,700.4 110.5,699.8 111.3,699.3 112.1,699.4 112.9,699.9 113.7,700.3 114.5,699.2 115.3,699.8 116.1,699.5 116.9,700.5 117.7,699.4 118.5,699.7 119.3,699.8 120.1,699.3 120.9,700.2 121.7,698.9 122.5,699.7 123.3,698.9 124.1,698.7 124.9,698.6 125.7,699 126.5,698.8 127.3,698.9 128.1,698.2 128.9,697.6 129.7,697.9 130.5,697.6 131.3,697.3 132.1,698 132.9,697.4 133.7,696.6 134.5,697.1 135.3,697.1 136.1,697.2 136.9,698 137.7,697.4 138.5,697.3 139.3,697.5 140.1,696.8 140.9,696.5 141.7,697 142.5,697.6 143.3,696.6 144.1,696.5 144.9,698.2 145.7,697.1 146.5,697.3 147.3,696.9 148.1,697.8 148.9,697.4 149.7,697.8 150.5,697.6 151.3,696.6 152.1,697.3 152.9,697 153.7,696.8 154.5,697.4 155.3,696.5 156.1,695.6 156.9,696 157.7,696.6 158.5,696.6 159.3,695.2 160.1,696.8 160.9,694.9 161.7,696 162.5,695.4 163.3,695.3 164.1,694.9 164.9,694.7 165.7,695.5 166.5,695.4 167.3,693.8 168.1,694.2 168.9,694 169.7,693.1 170.5,693.9 171.3,693.4 172.1,693.6 172.9,694.3 173.7,694.8 174.5,694.1 175.3,694.7 176.1,694.8 176.9,695.1 177.7,694.3 178.5,695 179.3,695 180.1,695.5 180.9,694.4 181.7,695.4 182.5,695.6 183.3,695.9 184.1,696.9 184.9,696.6 185.7,696.6 186.5,696.4 187.3,697 188.1,697.9 188.9,697.4 189.7,698.2 190.5,699.2 191.3,699 192.1,699.7 192.9,698.5 193.7,699.8 194.5,698.8 195.3,698.9 196.1,699.4 196.9,699 197.7,699.4 198.5,700.6 199.3,699.8 200.1,699.9 200.9,701.3 201.7,701.1 202.5,701.4 203.3,702.1 204.1,703 204.9,703.6 205.7,703.9 206.5,703.3 207.3,704.5 208.1,705 208.9,705.1 209.7,705.6 210.5,705.6 211.3,706.6 212.1,706.6 212.9,707.7 213.7,708.9 214.5,708.7 215.3,708.4 216.1,710 216.9,710 217.7,710.2 218.5,710.4 219.3,709.9 220.1,710.7 220.9,711.3 221.7,711.7 222.5,710.8 223.3,711.5 224.1,710.3 224.9,710.8 225.7,710.9 226.5,710.6 227.3,711.3 228.1,711.8 228.9,710.7 229.7,711.4 230.5,710.9 231.3,711.2 232.1,710.1 232.9,711.4 233.7,712.6 234.5,712.3 235.3,712.6 236.1,713 236.9,714.1 237.7,712.3 238.5,713.1 239.3,713.7 240.1,714.3 240.9,713.6 241.7,714.8 242.5,715 243.3,715 244.1,715.1 244.9,715.9 245.7,716 246.5,715.6 247.3,716.1 248.1,716.6 248.9,717 249.7,716.5 250.5,717.4 251.3,717.2 252.1,717 252.9,716.7 253.7,716.4 254.5,718.1 255.3,717.5 256.1,717.7 256.9,717.2 257.7,718.7 258.5,718.1 259.3,717.6 260.1,718.7 260.9,717.7 261.7,716.9 262.5,718.4 263.3,717 264.1,717.2 264.9,718.2 265.7,718.9 266.5,719.3 267.3,718.4 268.1,717.7 268.9,718.9 269.7,719.4 270.5,719.6 271.3,718.6 272.1,720.5 272.9,719.3 273.7,718.4 274.5,718.5 275.3,719.3 276.1,719 276.9,718.6 277.7,719.8 278.5,720.6 279.3,719.7 280.1,719.3 280.9,720.1 281.7,720.7 282.5,719.9 283.3,719.9 284.1,719 284.9,719.3 285.7,720.3 286.5,720.4 287.3,720.5 288.1,718.6 288.9,719.8 289.7,719.5 290.5,718.7 291.3,719.7 292.1,720.4 292.9,720.7 293.7,719 294.5,717.9 295.3,720.3 296.1,719.4 296.9,719.4 297.7,719.5 298.5,719.6 299.3,720 300.1,718.7 300.9,719.4 301.7,719.7 302.5,719.7 303.3,718.7 304.1,719 304.9,720 305.7,719.7 306.5,718.5 307.3,720.8 308.1,719.8 308.9,720.5 309.7,720.8 310.5,720.8 311.3,719.4 312.1,719.8 312.9,720.2 313.7,719.4 314.5,719.6 315.3,719.4 316.1,720.2 316.9,720 317.7,720.4 318.5,721.5 319.3,719.8 320.1,721 320.9,720.6 321.7,721.3 322.5,720.9 323.3,721.1 324.1,720.8 324.9,720.3 325.7,719.8 326.5,719.7 327.3,721.2 328.1,720.8 328.9,722.3 329.7,721.7 330.5,721.6 331.3,723.1 332.1,721.3 332.9,723.7 333.7,724.1 334.5,724.9 335.3,723.9 336.1,726.6 336.9,723.9 337.7,726.3 338.5,725.8 339.3,726.6 340.1,726.1 340.9,726.4 341.7,727.1 342.5,727.2 343.3,727.4 344.1,727.7 344.9,729 345.7,728.8 346.5,729.1 347.3,727.4 348.1,728.7 348.9,728.3 349.7,728.7 350.5,727.4 351.3,728.8 352.1,727.5 352.9,729.2 353.7,730.6 354.5,730.8 355.3,731 356.1,730.7 356.9,731.4 357.7,730.6 358.5,731.1 359.3,730.8 360.1,730.2 360.9,731.2 361.7,730 362.5,732 363.3,730.1 364.1,731.4 364.9,730.2 365.7,730.7 366.5,731.9 367.3,731.6 368.1,732.2 368.9,730.6 369.7,732.1 370.5,731.9 371.3,732.4 372.1,732.2 372.9,730.9 373.7,730.4 374.5,731 375.3,729.8 376.1,730.8 376.9,732.5 377.7,731.3 378.5,730.9 379.3,731.5 380.1,732.1 380.9,733.2 381.7,732 382.5,730.2 383.3,730.2 384.1,733.7 384.9,733.4 385.7,731.2 386.5,732.6 387.3,731.8 388.1,733.8 388.9,732.8 389.7,732.6 390.5,732.9 391.3,732.1 392.1,732.1 392.9,731.9 393.7,732.7 394.5,731.9 395.3,733.9 396.1,731.6 396.9,733.7 397.7,734 398.5,733.5 399.3,731 400.1,732.7 400.9,732 401.7,733.1 402.5,732.4 403.3,732.6 404.1,732.5 404.9,734 405.7,733.2 406.5,734.1 407.3,734.2 408.1,733.1 408.9,734.4 409.7,734.8 410.5,733.4 411.3,735.4 412.1,734.6 412.9,735.7 413.7,734.5 414.5,734 415.3,733.5 416.1,735.1 416.9,736.9 417.7,734.2 418.5,734.2 419.3,734.8 420.1,735.6 420.9,736.4 421.7,736.2 422.5,736.9 423.3,735.3 424.1,736.2 424.9,736.9 425.7,736.5 426.5,736 427.3,736.9 428.1,735.4 428.9,736.5 429.7,735.6 430.5,738.5 431.3,737.3 432.1,736.2 432.9,739 433.7,735.6 434.5,736.3 435.3,735.7 436.1,736.7 436.9,735.5 437.7,737.4 438.5,739 439.3,736.6 440.1,737.5 440.9,736.8 441.7,737.8 442.5,737.3 443.3,739.1 444.1,738.4 444.9,739.3 445.7,738.2 446.5,739.5 447.3,738.9 448.1,739 448.9,737.6 449.7,740.2 450.5,740.3 451.3,739.4 452.1,738.1 452.9,740.5 453.7,740 454.5,739.7 455.3,741 456.1,739.4 456.9,739.7 457.7,740.6 458.5,741.4 459.3,742 460.1,740.9 460.9,741 461.7,741.7 462.5,741.3 463.3,743.3 464.1,740.9 464.9,741.7 465.7,741.2 466.5,740.4 467.3,740.4 468.1,740.4 468.9,741.8 469.7,742.5 470.5,742.3 471.3,742.9 472.1,742.4 472.9,742.7 473.7,741.6 474.5,739.2 475.3,740.9 476.1,743.1 476.9,741.4 477.7,741.1 478.5,741.2 479.3,742.8 480.1,742 480.9,741 481.7,742.2 482.5,743.6 483.3,744 484.1,743 484.9,743.3 485.7,745 486.5,745.2 487.3,744.9 488.1,744.3 488.9,744.2 489.7,744.1 490.5,743.7 491.3,745 492.1,745.6 492.9,745.5 493.7,748.2 494.5,747.3 495.3,746.4 496.1,748.9 496.9,747.6 497.7,748.9 498.5,745.6 499.3,746.7 500.1,748.3 500.9,749.1 501.7,748.4 502.5,748.4 503.3,748.7 504.1,749.9 504.9,746.5 505.7,748.5 506.5,746.6 507.3,746.2 508.1,749.5 508.9,748.9 509.7,749.3 510.5,749.8 511.3,747.6 512.1,748.3 512.9,750.7 513.7,748.9 514.5,749.8 515.3,751.3 516.1,750.5 516.9,746.8 517.7,751.1 518.5,749.8 519.3,750.5 520.1,752.1 520.9,749.9 521.7,751.6 522.5,751.7 523.3,751.6 524.1,751.6 524.9,752.5 525.7,750.2 526.5,750 527.3,750.6 528.1,750.7 528.9,749.6 529.7,750.2 530.5,750.9 531.3,750.1 532.1,750.9 532.9,750.7 533.7,750.5 534.5,751.5 535.3,751.6 536.1,753.2 536.9,751.7 537.7,753.7 538.5,752.4 539.3,753.6 540.1,751.5 540.9,752 541.7,750.9 542.5,754.1 543.3,753.3 544.1,754.3 544.9,754.5 545.7,753 546.5,759.5 547.3,760 548.1,758.3 548.9,759.3 549.7,760.8 550.5,755.1 551.3,759.3 552.1,757.9 552.9,761.4 553.7,757.8 554.5,756.3 555.3,761.9 556.1,760.6 556.9,760.2 557.7,761 558.5,760.7 559.3,762.6 560.1,762 560.9,771.9 561.7,762.3 562.5,760.6 563.3,773.5 564.1,773.1 564.9,771.5 565.7,763.6 566.5,778.7 567.3,777 568.1,773.8 568.9,776.1 569.7,777.1 570.5,771.2 571.3,769.6 572.1,774.7 572.9,767.1 573.7,780.3 574.5,775.4 575.3,764 576.1,777.5 576.9,781.8 577.7,783.1 578.5,780 579.3,777.5 580.1,774.5 580.9,780.3 581.7,773 582.5,785.1 583.3,779.2 584.1,778.1 584.9,785.9 585.7,783.6 586.5,784.7 587.3,777.4 588.1,780.7 588.9,794.7 589.7,775.9 590.5,786.3 591.3,780 592.1,782.8 592.9,785.8 593.7,773.9 594.5,782.5 595.3,788.6 596.1,775.7 596.9,785.4 597.7,783 598.5,788.6 599.3,782.9 600.1,779.1 600.9,780.9 601.7,793.2 602.5,790.3 603.3,789.4 604.1,781.6 604.9,785.5 605.7,787.8 606.5,790.3 607.3,789.7 608.1,786.7 608.9,792.3 609.7,788.6 610.5,788.3 611.3,789.5 612.1,795.1 612.9,789.2 613.7,783.2 614.5,780.9 615.3,783.1 616.1,790.2 616.9,790.5 617.7,788 618.5,790.3 619.3,795.8 620.1,787.3 620.9,791.5 621.7,784.5 622.5,789.1 623.3,786 624.1,785.9 624.9,783" fill="none" stroke="#f5861f" stroke-width="2.6" stroke-linejoin="round" clip-path="url(#clipc)"/>
<polyline points="96.9,701 97.7,701.3 98.5,700.6 99.3,700.6 100.1,700.2 100.9,700 101.7,699.8 102.5,697.7 103.3,698.7 104.1,698.5 104.9,698 105.7,697.5 106.5,697.4 107.3,696.1 108.1,696 108.9,695.8 109.7,694.8 110.5,694.5 111.3,694.4 112.1,693.9 112.9,694.2 113.7,695.8 114.5,694.9 115.3,694.3 116.1,695 116.9,694.7 117.7,694.4 118.5,695.1 119.3,694.3 120.1,694 120.9,694 121.7,695 122.5,694.4 123.3,694.7 124.1,694.9 124.9,695.3 125.7,695.3 126.5,694.8 127.3,695.6 128.1,695 128.9,695 129.7,694.7 130.5,695.4 131.3,695.5 132.1,695.3 132.9,696.7 133.7,696.3 134.5,695.9 135.3,697.2 136.1,696.4 136.9,696.4 137.7,697 138.5,697.4 139.3,697.2 140.1,697.2 140.9,696.9 141.7,697.9 142.5,697.3 143.3,697.2 144.1,697.4 144.9,696.6 145.7,697.4 146.5,697.4 147.3,696.5 148.1,697 148.9,697 149.7,697.4 150.5,696.8 151.3,697.5 152.1,697 152.9,696.7 153.7,696.8 154.5,696.8 155.3,696.4 156.1,696.9 156.9,696.9 157.7,696.8 158.5,697.2 159.3,696.2 160.1,696.1 160.9,697.1 161.7,697.2 162.5,695.7 163.3,695.8 164.1,696.2 164.9,695.9 165.7,695.9 166.5,695.4 167.3,696 168.1,696.1 168.9,695.5 169.7,696.1 170.5,696.5 171.3,695.6 172.1,695.8 172.9,695.5 173.7,695.6 174.5,695.6 175.3,695.1 176.1,695.1 176.9,695 177.7,695.5 178.5,696.1 179.3,696.5 180.1,696 180.9,697 181.7,697.2 182.5,697.8 183.3,697.7 184.1,698.2 184.9,698.2 185.7,698.7 186.5,698.5 187.3,697.8 188.1,698.7 188.9,699.5 189.7,697.9 190.5,698.9 191.3,698.2 192.1,698.4 192.9,699.3 193.7,698.7 194.5,698.8 195.3,698.9 196.1,699.2 196.9,699.9 197.7,699.5 198.5,699.7 199.3,699.4 200.1,699.8 200.9,701.2 201.7,700.6 202.5,700.7 203.3,700.4 204.1,701.4 204.9,702.2 205.7,701.4 206.5,702.5 207.3,703.3 208.1,703.3 208.9,704.5 209.7,704.1 210.5,704.7 211.3,704.8 212.1,706 212.9,706.1 213.7,706.6 214.5,705.9 215.3,707.5 216.1,707.1 216.9,706.1 217.7,706.9 218.5,707.7 219.3,707.3 220.1,707.3 220.9,709.1 221.7,708.7 222.5,708.5 223.3,708.9 224.1,707.8 224.9,707.8 225.7,709.2 226.5,708.4 227.3,708.8 228.1,710.4 228.9,709.5 229.7,709.2 230.5,711 231.3,711 232.1,710.6 232.9,710.1 233.7,712 234.5,710.9 235.3,710.8 236.1,710.1 236.9,710.9 237.7,711.4 238.5,711.3 239.3,712.3 240.1,713.1 240.9,712.1 241.7,712 242.5,713 243.3,714 244.1,713.8 244.9,714.3 245.7,714.6 246.5,714.6 247.3,715 248.1,715.6 248.9,714.9 249.7,715.1 250.5,715.1 251.3,714.8 252.1,715.2 252.9,715.7 253.7,715.6 254.5,715.6 255.3,715.3 256.1,716.6 256.9,716.3 257.7,717.6 258.5,717.3 259.3,716.9 260.1,716.8 260.9,716.6 261.7,716.6 262.5,716.1 263.3,716.9 264.1,716.6 264.9,717.2 265.7,717.9 266.5,717.4 267.3,716.8 268.1,716.6 268.9,717.7 269.7,717.9 270.5,716.9 271.3,715.8 272.1,716.2 272.9,716.6 273.7,716 274.5,718.4 275.3,717.1 276.1,717.7 276.9,717.6 277.7,717.6 278.5,719 279.3,717.9 280.1,718.2 280.9,717.6 281.7,717.6 282.5,718 283.3,717.7 284.1,719 284.9,718.7 285.7,718.3 286.5,718.8 287.3,719.1 288.1,719 288.9,718.9 289.7,718 290.5,718.8 291.3,718.3 292.1,717.8 292.9,718.1 293.7,717.8 294.5,718.7 295.3,717.3 296.1,718 296.9,717.8 297.7,718.7 298.5,717 299.3,716.5 300.1,717.4 300.9,717.5 301.7,717.3 302.5,719.3 303.3,719.5 304.1,717 304.9,718.7 305.7,718.4 306.5,719.1 307.3,719.1 308.1,718.5 308.9,718.9 309.7,720 310.5,720.3 311.3,719.3 312.1,719.3 312.9,720.8 313.7,718.9 314.5,718.1 315.3,720.1 316.1,719.8 316.9,719.9 317.7,719.9 318.5,720.1 319.3,718.7 320.1,718.9 320.9,719.6 321.7,720.8 322.5,719.6 323.3,720.1 324.1,719.7 324.9,719.8 325.7,718.4 326.5,719.1 327.3,717.3 328.1,720.4 328.9,718.5 329.7,720.1 330.5,720.6 331.3,719.6 332.1,719.3 332.9,719.6 333.7,721.3 334.5,720.3 335.3,721.6 336.1,722.4 336.9,721.5 337.7,724.3 338.5,723.3 339.3,723.7 340.1,725.1 340.9,723.5 341.7,724 342.5,724.8 343.3,723.7 344.1,724.2 344.9,724 345.7,724.5 346.5,725.3 347.3,724.9 348.1,724.3 348.9,723.6 349.7,724.1 350.5,725 351.3,724.9 352.1,725.9 352.9,726.2 353.7,725.2 354.5,726.7 355.3,725.8 356.1,725.4 356.9,725.9 357.7,727.1 358.5,726.4 359.3,727.6 360.1,728.2 360.9,728 361.7,726.8 362.5,727.4 363.3,727 364.1,726.8 364.9,728 365.7,727.3 366.5,725.8 367.3,725.8 368.1,725.1 368.9,727.3 369.7,726.9 370.5,728.5 371.3,726.8 372.1,726.5 372.9,727.9 373.7,728.1 374.5,728.6 375.3,728 376.1,727.5 376.9,727.4 377.7,727.8 378.5,726.5 379.3,728.2 380.1,726.9 380.9,726.2 381.7,726.8 382.5,726.4 383.3,725.5 384.1,725.2 384.9,726.5 385.7,726.3 386.5,726.9 387.3,725.7 388.1,724.1 388.9,726.5 389.7,726.9 390.5,726.3 391.3,727.1 392.1,725.7 392.9,725.9 393.7,725.2 394.5,726.9 395.3,727.1 396.1,724.3 396.9,725.1 397.7,725.7 398.5,726.9 399.3,726.1 400.1,726.5 400.9,726.3 401.7,726 402.5,726.5 403.3,725.8 404.1,727 404.9,727 405.7,726.6 406.5,727.3 407.3,729 408.1,727.3 408.9,727.8 409.7,727.9 410.5,728.7 411.3,728.6 412.1,728.4 412.9,728.3 413.7,728.2 414.5,729.1 415.3,729 416.1,728.5 416.9,728.7 417.7,728.7 418.5,729.1 419.3,727.5 420.1,730 420.9,730 421.7,730.2 422.5,730.3 423.3,730.1 424.1,730.6 424.9,730.5 425.7,731.8 426.5,730.4 427.3,730.8 428.1,732.4 428.9,731 429.7,730.3 430.5,732.3 431.3,731.9 432.1,730.6 432.9,729.6 433.7,729.9 434.5,728.6 435.3,729 436.1,727.9 436.9,729.4 437.7,728.6 438.5,729.5 439.3,729.2 440.1,728.2 440.9,728.5 441.7,728.9 442.5,731.2 443.3,729.4 444.1,729.6 444.9,729.1 445.7,729.9 446.5,731.2 447.3,728.9 448.1,729.7 448.9,731.3 449.7,731.3 450.5,731.4 451.3,730.7 452.1,733.7 452.9,732.6 453.7,731.7 454.5,732.3 455.3,733.1 456.1,733.8 456.9,733.4 457.7,734.7 458.5,732.9 459.3,733.9 460.1,734.5 460.9,734.3 461.7,736.4 462.5,733.7 463.3,734.4 464.1,733.9 464.9,736 465.7,734.4 466.5,736.4 467.3,733.9 468.1,734.1 468.9,733.8 469.7,734.6 470.5,735.1 471.3,734.9 472.1,736.2 472.9,734.4 473.7,733.8 474.5,735.8 475.3,735.3 476.1,736.9 476.9,736.8 477.7,737.1 478.5,736.8 479.3,737.9 480.1,736.8 480.9,736.9 481.7,735.5 482.5,737.7 483.3,737.6 484.1,737.5 484.9,736.6 485.7,737.3 486.5,739.4 487.3,740.3 488.1,740.8 488.9,739.9 489.7,740.4 490.5,739.8 491.3,742.1 492.1,739 492.9,738.6 493.7,742.9 494.5,741.3 495.3,742.9 496.1,741.1 496.9,741.7 497.7,741.3 498.5,742.1 499.3,744 500.1,742.9 500.9,741.2 501.7,741.5 502.5,744.6 503.3,743.5 504.1,743.4 504.9,744.3 505.7,743.6 506.5,741.7 507.3,745.1 508.1,744.3 508.9,741.9 509.7,742.6 510.5,742.5 511.3,742.3 512.1,743.5 512.9,744.3 513.7,743.7 514.5,742.1 515.3,742.7 516.1,743.9 516.9,743.3 517.7,744.7 518.5,744.8 519.3,743.2 520.1,745.4 520.9,743.8 521.7,742.7 522.5,746 523.3,742.8 524.1,743.6 524.9,743.6 525.7,743.7 526.5,744.1 527.3,744.4 528.1,742.2 528.9,744.5 529.7,743.7 530.5,745.8 531.3,743.1 532.1,744.8 532.9,745 533.7,744.5 534.5,745 535.3,743.7 536.1,745.1 536.9,745.7 537.7,746.2 538.5,746.5 539.3,747.4 540.1,745.1 540.9,747 541.7,744.6 542.5,747.1 543.3,746.3 544.1,746.5 544.9,746.8 545.7,748 546.5,747 547.3,749.1 548.1,747.3 548.9,749.6 549.7,750.7 550.5,746.5 551.3,750.1 552.1,750.2 552.9,750.2 553.7,751.4 554.5,749.4 555.3,749.7 556.1,748.4 556.9,749.5 557.7,747.7 558.5,749.7 559.3,751.6 560.1,746.7 560.9,752.8 561.7,752.4 562.5,759.6 563.3,759 564.1,757 564.9,760.1 565.7,759.6 566.5,765.4 567.3,762.8 568.1,765.1 568.9,766.5 569.7,765.4 570.5,758.7 571.3,767.1 572.1,767.3 572.9,769.8 573.7,770.9 574.5,772.2 575.3,773.5 576.1,770.6 576.9,766.3 577.7,768.7 578.5,768.1 579.3,764.6 580.1,767.2 580.9,766.9 581.7,771.5 582.5,778.5 583.3,766.4 584.1,772.3 584.9,774.2 585.7,775 586.5,771.3 587.3,779.9 588.1,770.1 588.9,777.4 589.7,770 590.5,770.8 591.3,777.1 592.1,779.6 592.9,782.7 593.7,773.6 594.5,775.9 595.3,774.7 596.1,773.3 596.9,767.4 597.7,778.2 598.5,772.7 599.3,779.5 600.1,779.3 600.9,778.3 601.7,771.5 602.5,773.6 603.3,765.6 604.1,777 604.9,778.9 605.7,777.7 606.5,774 607.3,775.8 608.1,777.7 608.9,776.2 609.7,776 610.5,784 611.3,781.8 612.1,774.8 612.9,780.7 613.7,782.7 614.5,779.3 615.3,781.4 616.1,783.2 616.9,779.2 617.7,779.5 618.5,780.3 619.3,787.3 620.1,777.2 620.9,788.8 621.7,781 622.5,784.7 623.3,776.9 624.1,778.6 624.9,778.1" fill="none" stroke="#4db14f" stroke-width="2.6" stroke-linejoin="round" clip-path="url(#clipc)"/>
<polyline points="96.9,703.7 97.7,703.4 98.5,702.8 99.3,703.1 100.1,703.3 100.9,702.9 101.7,702.3 102.5,702.3 103.3,701.4 104.1,701.5 104.9,701.2 105.7,700.5 106.5,701 107.3,700.4 108.1,699.7 108.9,699.4 109.7,700.5 110.5,700 111.3,699.6 112.1,700 112.9,699.9 113.7,699.6 114.5,699.8 115.3,700.2 116.1,699 116.9,698.5 117.7,698.7 118.5,699.5 119.3,699.2 120.1,699.9 120.9,700 121.7,699.9 122.5,700.6 123.3,699.6 124.1,701.4 124.9,701 125.7,701.6 126.5,700.8 127.3,700.7 128.1,700.4 128.9,700.3 129.7,700.5 130.5,700.8 131.3,700.5 132.1,701.1 132.9,700.5 133.7,701.2 134.5,701.9 135.3,700.7 136.1,700.9 136.9,700.2 137.7,700.3 138.5,700.5 139.3,700.8 140.1,701 140.9,700.7 141.7,700.8 142.5,701 143.3,701 144.1,700.7 144.9,700.4 145.7,700.3 146.5,699.9 147.3,700.7 148.1,699.4 148.9,701 149.7,700.1 150.5,700.5 151.3,700.5 152.1,700.4 152.9,699.9 153.7,699.4 154.5,700 155.3,699.4 156.1,700.2 156.9,699.5 157.7,700 158.5,699.2 159.3,699.4 160.1,700.1 160.9,699.2 161.7,699.8 162.5,699.3 163.3,698.6 164.1,699.8 164.9,698.8 165.7,699.1 166.5,699.8 167.3,699.1 168.1,699.7 168.9,699.4 169.7,699.1 170.5,699.6 171.3,698.9 172.1,699.9 172.9,699.4 173.7,698.6 174.5,698.9 175.3,699.7 176.1,699.5 176.9,699 177.7,699.1 178.5,699.1 179.3,699.3 180.1,699.6 180.9,700.3 181.7,700.6 182.5,699.6 183.3,700.3 184.1,699.3 184.9,700.5 185.7,699.4 186.5,699.5 187.3,698.8 188.1,699.9 188.9,699.1 189.7,699.4 190.5,698.6 191.3,699.5 192.1,700 192.9,699.5 193.7,699.2 194.5,699.5 195.3,699.6 196.1,699.7 196.9,700.3 197.7,700.4 198.5,700.5 199.3,699.6 200.1,700.5 200.9,700.8 201.7,700 202.5,700.9 203.3,701.3 204.1,700.6 204.9,700.7 205.7,701.6 206.5,701.4 207.3,701.8 208.1,701.6 208.9,701.4 209.7,702.3 210.5,702.5 211.3,702.4 212.1,702.6 212.9,703.9 213.7,704.5 214.5,703 215.3,703.5 216.1,703.8 216.9,705.2 217.7,705.1 218.5,705.1 219.3,705.6 220.1,705.4 220.9,706.2 221.7,707.1 222.5,705.4 223.3,706.3 224.1,706.3 224.9,705.8 225.7,706.1 226.5,705.2 227.3,706.8 228.1,705.9 228.9,706.8 229.7,707.3 230.5,706.2 231.3,707.1 232.1,707.2 232.9,707.5 233.7,707.5 234.5,707.5 235.3,707.1 236.1,707.5 236.9,708.2 237.7,708.3 238.5,709.6 239.3,709.2 240.1,709.8 240.9,710.3 241.7,711 242.5,710.9 243.3,709.4 244.1,711.7 244.9,711.4 245.7,710.9 246.5,711.5 247.3,711.6 248.1,712.4 248.9,712.9 249.7,714.1 250.5,712.9 251.3,712.9 252.1,712.4 252.9,713 253.7,712.9 254.5,712.1 255.3,713.6 256.1,714.6 256.9,712.4 257.7,713.5 258.5,714.4 259.3,715 260.1,713.6 260.9,715.6 261.7,715 262.5,714.2 263.3,715.4 264.1,715.3 264.9,714.2 265.7,714.9 266.5,714.9 267.3,715.5 268.1,714.9 268.9,715 269.7,715.9 270.5,716.2 271.3,715.5 272.1,715.6 272.9,715 273.7,716.7 274.5,714.9 275.3,716.7 276.1,715.9 276.9,716 277.7,716 278.5,715.1 279.3,715.8 280.1,715.1 280.9,717.2 281.7,715.8 282.5,716.1 283.3,717 284.1,715.5 284.9,715.4 285.7,716.2 286.5,716.7 287.3,715.6 288.1,715.8 288.9,716.9 289.7,716.2 290.5,716.2 291.3,715.7 292.1,716.7 292.9,715.5 293.7,716.5 294.5,716 295.3,716 296.1,714.9 296.9,716.3 297.7,716.1 298.5,714.8 299.3,715.4 300.1,715.7 300.9,715.1 301.7,715.7 302.5,715.1 303.3,714.2 304.1,715.4 304.9,715 305.7,713.5 306.5,714.2 307.3,714.3 308.1,714 308.9,715 309.7,714.2 310.5,714.4 311.3,715.4 312.1,715 312.9,714.1 313.7,713.5 314.5,714 315.3,713.5 316.1,714.7 316.9,714.8 317.7,713.7 318.5,715 319.3,713.5 320.1,713.4 320.9,714 321.7,713.8 322.5,713.2 323.3,714.2 324.1,714 324.9,714.9 325.7,715.1 326.5,715.7 327.3,714.2 328.1,715.1 328.9,715.2 329.7,713.9 330.5,716.1 331.3,714.1 332.1,715.1 332.9,714.1 333.7,714.6 334.5,714.3 335.3,714.6 336.1,714.9 336.9,714.7 337.7,714.6 338.5,715.4 339.3,714.8 340.1,714.7 340.9,714.3 341.7,714.7 342.5,715.3 343.3,715.3 344.1,714.9 344.9,714.2 345.7,714.9 346.5,714.1 347.3,714 348.1,714.8 348.9,715.7 349.7,714.5 350.5,715.8 351.3,713.8 352.1,715.8 352.9,716.3 353.7,716.7 354.5,717.5 355.3,717.3 356.1,718 356.9,717 357.7,718.7 358.5,719.7 359.3,718.8 360.1,720.2 360.9,719.5 361.7,719.7 362.5,718.7 363.3,717.7 364.1,718.2 364.9,718.9 365.7,719.3 366.5,718.3 367.3,719.6 368.1,718.1 368.9,718.4 369.7,719.1 370.5,719 371.3,719 372.1,718.6 372.9,720.5 373.7,717.7 374.5,718.6 375.3,718.9 376.1,720.3 376.9,720.4 377.7,720.2 378.5,720.2 379.3,721.3 380.1,721.1 380.9,722.1 381.7,721.2 382.5,723.4 383.3,722.6 384.1,721.9 384.9,720.2 385.7,720.9 386.5,721.5 387.3,721 388.1,722.5 388.9,724 389.7,723.1 390.5,724.3 391.3,721.8 392.1,721 392.9,723.3 393.7,722.5 394.5,721.6 395.3,722.1 396.1,722.1 396.9,722 397.7,722.9 398.5,722.9 399.3,721.6 400.1,721.4 400.9,723.1 401.7,722.6 402.5,722.7 403.3,723.2 404.1,722.6 404.9,722 405.7,722.1 406.5,722.9 407.3,723.2 408.1,723.8 408.9,723.4 409.7,724.9 410.5,726.7 411.3,725.2 412.1,724.2 412.9,724.5 413.7,725.5 414.5,726.1 415.3,726.2 416.1,724.4 416.9,725.9 417.7,725.6 418.5,727 419.3,723.4 420.1,726.1 420.9,726.6 421.7,727.1 422.5,725.8 423.3,727.1 424.1,726.8 424.9,725.3 425.7,726.9 426.5,726.3 427.3,727.5 428.1,726.5 428.9,727 429.7,725.9 430.5,727.2 431.3,727.4 432.1,727.5 432.9,727.4 433.7,727.8 434.5,728 435.3,729.1 436.1,727.6 436.9,727.8 437.7,726.3 438.5,726.8 439.3,728.2 440.1,726.1 440.9,727.1 441.7,726.8 442.5,727.3 443.3,725.3 444.1,726.7 444.9,725.2 445.7,726.1 446.5,727.7 447.3,727.8 448.1,724.4 448.9,726.7 449.7,727.8 450.5,726.3 451.3,727.5 452.1,728.7 452.9,728.3 453.7,725.9 454.5,727.8 455.3,727.2 456.1,727.8 456.9,725.7 457.7,729.1 458.5,729 459.3,727.4 460.1,728.4 460.9,728.9 461.7,730.1 462.5,729.6 463.3,728.9 464.1,730.5 464.9,730.1 465.7,732.4 466.5,730.2 467.3,730.3 468.1,729.2 468.9,728.5 469.7,729.6 470.5,732.1 471.3,730.2 472.1,729.7 472.9,729.5 473.7,732.2 474.5,731.9 475.3,733.4 476.1,729.1 476.9,730.7 477.7,729.9 478.5,732.5 479.3,730.6 480.1,730.9 480.9,731.5 481.7,732.5 482.5,731.1 483.3,731.2 484.1,732.3 484.9,731 485.7,730.4 486.5,731.9 487.3,733.6 488.1,731.3 488.9,731.4 489.7,732.5 490.5,729.9 491.3,731.3 492.1,731.2 492.9,730.4 493.7,729.1 494.5,730.3 495.3,731 496.1,732.5 496.9,732.2 497.7,732 498.5,732 499.3,733.2 500.1,730 500.9,731.8 501.7,732.6 502.5,732.4 503.3,734.1 504.1,733.9 504.9,733.2 505.7,733.5 506.5,732.7 507.3,731.8 508.1,736.2 508.9,733.8 509.7,732.7 510.5,734 511.3,735.5 512.1,732.8 512.9,731.5 513.7,732.5 514.5,733 515.3,733.5 516.1,731.9 516.9,735.1 517.7,736 518.5,734.5 519.3,732.8 520.1,734.2 520.9,732.4 521.7,735 522.5,734.4 523.3,731.7 524.1,733.4 524.9,735.2 525.7,733.8 526.5,735.2 527.3,735.1 528.1,733.7 528.9,733.6 529.7,732.5 530.5,734.2 531.3,734.4 532.1,734.5 532.9,735.2 533.7,735.8 534.5,734 535.3,736 536.1,736.3 536.9,735.9 537.7,738.1 538.5,736.8 539.3,735.6 540.1,737.6 540.9,738 541.7,739.8 542.5,734.6 543.3,740 544.1,740.3 544.9,738.9 545.7,742.8 546.5,739 547.3,743.4 548.1,743.8 548.9,744.2 549.7,742.8 550.5,744.5 551.3,744.1 552.1,742.7 552.9,743.5 553.7,743.5 554.5,749 555.3,746.5 556.1,742.2 556.9,738.1 557.7,741 558.5,746 559.3,746.2 560.1,751.7 560.9,752.3 561.7,746.9 562.5,746.7 563.3,751.2 564.1,751.1 564.9,754.8 565.7,750 566.5,753.4 567.3,754.4 568.1,757.9 568.9,754 569.7,756.7 570.5,751.3 571.3,749.9 572.1,747.8 572.9,759.3 573.7,756.6 574.5,750.2 575.3,754.7 576.1,746.6 576.9,755.5 577.7,764.9 578.5,753.1 579.3,745 580.1,768 580.9,756.3 581.7,752.2 582.5,750.4 583.3,760 584.1,752.9 584.9,754.3 585.7,757.9 586.5,751.8 587.3,758 588.1,750.8 588.9,765.2 589.7,753.3 590.5,757.2 591.3,754.3 592.1,759.1 592.9,754.6 593.7,759.2 594.5,765.4 595.3,756.7 596.1,762.5 596.9,765.3 597.7,763 598.5,763.6 599.3,758.3 600.1,761.5 600.9,765 601.7,761.8 602.5,756.9 603.3,755.7 604.1,760.5 604.9,763.4 605.7,759 606.5,758.6 607.3,761.4 608.1,759.7 608.9,757.8 609.7,763.4 610.5,760.4 611.3,751.6 612.1,765.9 612.9,758.8 613.7,764.5 614.5,768 615.3,767.6 616.1,767.3 616.9,768.3 617.7,756.6 618.5,757.7 619.3,759.1 620.1,760.5 620.9,763.2 621.7,768.5 622.5,770.5 623.3,762 624.1,756.8 624.9,763.8" fill="none" stroke="#8b5bb7" stroke-width="2.6" stroke-linejoin="round" clip-path="url(#clipc)"/>
<rect x="96.9" y="645.3" width="528.5" height="469.3" fill="none" stroke="#111" stroke-width="2.2"/>
<line x1="193.1" y1="1114.6" x2="193.1" y2="1101.4" stroke="#111" stroke-width="2.2"/>
<line x1="288.9" y1="1114.6" x2="288.9" y2="1101.4" stroke="#111" stroke-width="2.2"/>
<line x1="384.8" y1="1114.6" x2="384.8" y2="1101.4" stroke="#111" stroke-width="2.2"/>
<line x1="480.6" y1="1114.6" x2="480.6" y2="1101.4" stroke="#111" stroke-width="2.2"/>
<line x1="576.5" y1="1114.6" x2="576.5" y2="1101.4" stroke="#111" stroke-width="2.2"/>
<line x1="96.9" y1="703.1" x2="110.1" y2="703.1" stroke="#111" stroke-width="2.2"/>
<line x1="96.9" y1="821.1" x2="110.1" y2="821.1" stroke="#111" stroke-width="2.2"/>
<line x1="96.9" y1="939" x2="110.1" y2="939" stroke="#111" stroke-width="2.2"/>
<line x1="96.9" y1="1057" x2="110.1" y2="1057" stroke="#111" stroke-width="2.2"/>
<text x="97.2" y="1152.6" text-anchor="middle">0</text>
<text x="193.1" y="1152.6" text-anchor="middle">20</text>
<text x="288.9" y="1152.6" text-anchor="middle">40</text>
<text x="384.8" y="1152.6" text-anchor="middle">60</text>
<text x="480.6" y="1152.6" text-anchor="middle">80</text>
<text x="576.5" y="1152.6" text-anchor="middle">100</text>
<text x="83.8" y="712.4" text-anchor="end">0</text>
<text x="83.8" y="830.4" text-anchor="end">-10</text>
<text x="83.8" y="948.3" text-anchor="end">-20</text>
<text x="83.8" y="1066.2" text-anchor="end">-30</text>
<text x="377.3" y="1191.4" text-anchor="middle">Frequency (GHz)</text>
<text transform="translate(27.6 877.5) rotate(-90)" text-anchor="middle">EO response (dB)</text>
<text x="133.2" y="767.2">-3 dB</text>
<text x="412.8" y="800.8">90 GHz</text>
<text x="202.8" y="851.2">-10 dB</text>
<line x1="115.5" y1="968.1" x2="172.8" y2="968.1" stroke="#f5861f" stroke-width="2.2"/>
<text x="180.2" y="977.5" font-size="25.4">S<tspan font-size="16.6" dy="6.6">21</tspan><tspan dy="-6.6"> 1 V</tspan></text>
<line x1="115.5" y1="1005.4" x2="172.8" y2="1005.4" stroke="#4db14f" stroke-width="2.2"/>
<text x="180.2" y="1014.8" font-size="25.4">S<tspan font-size="16.6" dy="6.6">21</tspan><tspan dy="-6.6"> 2 V</tspan></text>
<line x1="115.5" y1="1042.7" x2="172.8" y2="1042.7" stroke="#8b5bb7" stroke-width="2.2"/>
<text x="180.2" y="1052.1" font-size="25.4">S<tspan font-size="16.6" dy="6.6">21</tspan><tspan dy="-6.6"> 3 V</tspan></text>
<line x1="115.5" y1="1080" x2="172.8" y2="1080" stroke="#f4777c" stroke-width="2.2"/>
<text x="180.2" y="1089.4" font-size="25.4">S<tspan font-size="16.6" dy="6.6">11</tspan></text>
</g>
<g id="pd">
<rect x="799.8" y="645.4" width="528" height="469.2" fill="none" stroke="#111" stroke-width="2.2"/>
<line x1="858" y1="1114.6" x2="858" y2="1101.4" stroke="#111" stroke-width="2.2"/>
<line x1="975.6" y1="1114.6" x2="975.6" y2="1101.4" stroke="#111" stroke-width="2.2"/>
<line x1="1093.3" y1="1114.6" x2="1093.3" y2="1101.4" stroke="#111" stroke-width="2.2"/>
<line x1="1210.9" y1="1114.6" x2="1210.9" y2="1101.4" stroke="#111" stroke-width="2.2"/>
<line x1="799.8" y1="703.9" x2="813" y2="703.9" stroke="#111" stroke-width="2.2"/>
<line x1="799.8" y1="821.6" x2="813" y2="821.6" stroke="#111" stroke-width="2.2"/>
<line x1="799.8" y1="939.3" x2="813" y2="939.3" stroke="#111" stroke-width="2.2"/>
<line x1="799.8" y1="1057" x2="813" y2="1057" stroke="#111" stroke-width="2.2"/>
<line x1="858" y1="876.4" x2="858" y2="1114.6" stroke="#f94346" stroke-width="2.5" stroke-dasharray="11.7 10.3"/>
<line x1="916.8" y1="816.5" x2="916.8" y2="1114.6" stroke="#f94346" stroke-width="2.5" stroke-dasharray="11.7 10.3"/>
<line x1="975.6" y1="754.8" x2="975.6" y2="1114.6" stroke="#f94346" stroke-width="2.5" stroke-dasharray="11.7 10.3"/>
<line x1="1034.5" y1="776.8" x2="1034.5" y2="1114.6" stroke="#f94346" stroke-width="2.5" stroke-dasharray="11.7 10.3"/>
<line x1="1093.3" y1="761.6" x2="1093.3" y2="1114.6" stroke="#f94346" stroke-width="2.5" stroke-dasharray="11.7 10.3"/>
<line x1="1152.1" y1="800.6" x2="1152.1" y2="1114.6" stroke="#f94346" stroke-width="2.5" stroke-dasharray="11.7 10.3"/>
<line x1="1210.9" y1="833.1" x2="1210.9" y2="1114.6" stroke="#f94346" stroke-width="2.5" stroke-dasharray="11.7 10.3"/>
<line x1="1269.7" y1="858.4" x2="1269.7" y2="1114.6" stroke="#f94346" stroke-width="2.5" stroke-dasharray="11.7 10.3"/>
<polygon points="858,868.4 866,876.4 858,884.4 850,876.4" fill="#fff"/>
<polygon points="916.8,808.5 924.8,816.5 916.8,824.5 908.8,816.5" fill="#fff"/>
<polygon points="975.6,746.8 983.6,754.8 975.6,762.8 967.6,754.8" fill="#fff"/>
<polygon points="1034.5,768.8 1042.5,776.8 1034.5,784.8 1026.5,776.8" fill="#fff"/>
<polygon points="1093.3,753.6 1101.3,761.6 1093.3,769.6 1085.3,761.6" fill="#fff"/>
<polygon points="1152.1,792.6 1160.1,800.6 1152.1,808.6 1144.1,800.6" fill="#fff"/>
<polygon points="1210.9,825.1 1218.9,833.1 1210.9,841.1 1202.9,833.1" fill="#fff"/>
<polygon points="1269.7,850.4 1277.7,858.4 1269.7,866.4 1261.7,858.4" fill="#fff"/>
<line x1="799.8" y1="754.8" x2="1327.8" y2="754.8" stroke="#b1b1b1" stroke-width="2.3" stroke-dasharray="8.8 8"/>
<line x1="799.8" y1="813.2" x2="1327.8" y2="813.2" stroke="#b1b1b1" stroke-width="2.3" stroke-dasharray="8.8 8"/>
<line x1="799.8" y1="876.4" x2="1327.8" y2="876.4" stroke="#b1b1b1" stroke-width="2.3" stroke-dasharray="8.8 8"/>
<polygon points="858,868.5 865.9,876.4 858,884.3 850.1,876.4" fill="none" stroke="#f94346" stroke-width="3.7" stroke-linejoin="miter"/>
<polygon points="916.8,808.6 924.7,816.5 916.8,824.4 908.9,816.5" fill="none" stroke="#f94346" stroke-width="3.7" stroke-linejoin="miter"/>
<polygon points="975.6,746.9 983.5,754.8 975.6,762.7 967.7,754.8" fill="none" stroke="#f94346" stroke-width="3.7" stroke-linejoin="miter"/>
<polygon points="1034.5,768.9 1042.4,776.8 1034.5,784.7 1026.6,776.8" fill="none" stroke="#f94346" stroke-width="3.7" stroke-linejoin="miter"/>
<polygon points="1093.3,753.7 1101.2,761.6 1093.3,769.5 1085.4,761.6" fill="none" stroke="#f94346" stroke-width="3.7" stroke-linejoin="miter"/>
<polygon points="1152.1,792.7 1160,800.6 1152.1,808.5 1144.2,800.6" fill="none" stroke="#f94346" stroke-width="3.7" stroke-linejoin="miter"/>
<polygon points="1210.9,825.2 1218.8,833.1 1210.9,841 1203,833.1" fill="none" stroke="#f94346" stroke-width="3.7" stroke-linejoin="miter"/>
<polygon points="1269.7,850.5 1277.6,858.4 1269.7,866.3 1261.8,858.4" fill="none" stroke="#f94346" stroke-width="3.7" stroke-linejoin="miter"/>
<text x="858" y="1152.6" text-anchor="middle">1548</text>
<text x="975.6" y="1152.6" text-anchor="middle">1550</text>
<text x="1093.3" y="1152.6" text-anchor="middle">1552</text>
<text x="1210.9" y="1152.6" text-anchor="middle">1554</text>
<text x="1328.6" y="1152.6" text-anchor="middle">1556</text>
<text x="785.6" y="713.1" text-anchor="end">1.0</text>
<text x="785.6" y="830.8" text-anchor="end">0.8</text>
<text x="785.6" y="948.5" text-anchor="end">0.6</text>
<text x="785.6" y="1066.2" text-anchor="end">0.4</text>
<text x="1072" y="1191.4" text-anchor="middle">Wavelength (nm)</text>
<text transform="translate(698.6 880.5) rotate(-90)" text-anchor="middle">Modulation</text>
<text transform="translate(733.6 876.6) rotate(-90)" text-anchor="middle">efficiency (V·cm)</text>
<text x="817.6" y="793.8">Avg 0.82</text>
</g>
<g id="pe">
<clipPath id="clipe"><rect x="1486.4" y="645.4" width="529.4" height="466.5"/></clipPath>
<line x1="1486.4" y1="1059.5" x2="2015.8" y2="1059.5" stroke="#b1b1b1" stroke-width="2.3" stroke-dasharray="8.8 8"/>
<line x1="1768.6" y1="776" x2="1768.6" y2="1059" stroke="#b1b1b1" stroke-width="2.3" stroke-dasharray="8.8 8"/>
<line x1="1486.4" y1="858" x2="2015.8" y2="700.3" stroke="#8080fb" stroke-width="4.6" clip-path="url(#clipe)"/>
<line x1="1725" y1="1112" x2="2015.8" y2="749" stroke="#fb8081" stroke-width="4.6" clip-path="url(#clipe)"/>
<ellipse cx="1878.7" cy="740.7" rx="4.7" ry="5.3" fill="none" stroke="#5a5af8" stroke-width="1.2"/>
<rect x="1873.8" y="914.5" width="9.8" height="9.8" fill="none" stroke="#fa4a4a" stroke-width="1.3"/>
<ellipse cx="1886.4" cy="738.5" rx="4.7" ry="5.3" fill="none" stroke="#5a5af8" stroke-width="1.2"/>
<rect x="1881.5" y="905" width="9.8" height="9.8" fill="none" stroke="#fa4a4a" stroke-width="1.3"/>
<ellipse cx="1894" cy="736.2" rx="4.7" ry="5.3" fill="none" stroke="#5a5af8" stroke-width="1.2"/>
<rect x="1889.1" y="895.5" width="9.8" height="9.8" fill="none" stroke="#fa4a4a" stroke-width="1.3"/>
<ellipse cx="1901.7" cy="734" rx="4.7" ry="5.3" fill="none" stroke="#5a5af8" stroke-width="1.2"/>
<rect x="1896.8" y="886" width="9.8" height="9.8" fill="none" stroke="#fa4a4a" stroke-width="1.3"/>
<ellipse cx="1909.3" cy="731.7" rx="4.7" ry="5.3" fill="none" stroke="#5a5af8" stroke-width="1.2"/>
<rect x="1904.4" y="876.5" width="9.8" height="9.8" fill="none" stroke="#fa4a4a" stroke-width="1.3"/>
<rect x="1486.4" y="645.4" width="529.4" height="466.5" fill="none" stroke="#111" stroke-width="2.2"/>
<line x1="1562" y1="1111.9" x2="1562" y2="1104.7" stroke="#111" stroke-width="2.2"/>
<line x1="1637.7" y1="1111.9" x2="1637.7" y2="1104.7" stroke="#111" stroke-width="2.2"/>
<line x1="1713.3" y1="1111.9" x2="1713.3" y2="1104.7" stroke="#111" stroke-width="2.2"/>
<line x1="1788.9" y1="1111.9" x2="1788.9" y2="1104.7" stroke="#111" stroke-width="2.2"/>
<line x1="1864.6" y1="1111.9" x2="1864.6" y2="1104.7" stroke="#111" stroke-width="2.2"/>
<line x1="1940.2" y1="1111.9" x2="1940.2" y2="1104.7" stroke="#111" stroke-width="2.2"/>
<line x1="1486.4" y1="707.5" x2="1500.6" y2="707.5" stroke="#111" stroke-width="2.2"/>
<line x1="1486.4" y1="831.9" x2="1500.6" y2="831.9" stroke="#111" stroke-width="2.2"/>
<line x1="1486.4" y1="956.4" x2="1500.6" y2="956.4" stroke="#111" stroke-width="2.2"/>
<line x1="1486.4" y1="1080.8" x2="1500.6" y2="1080.8" stroke="#111" stroke-width="2.2"/>
<text x="1483.2" y="1151.8" text-anchor="middle">-40</text>
<text x="1562" y="1151.8" text-anchor="middle">-30</text>
<text x="1637.7" y="1151.8" text-anchor="middle">-20</text>
<text x="1713.3" y="1151.8" text-anchor="middle">-10</text>
<text x="1788.9" y="1151.8" text-anchor="middle">0</text>
<text x="1864.6" y="1151.8" text-anchor="middle">10</text>
<text x="1940.2" y="1151.8" text-anchor="middle">20</text>
<text x="2015.8" y="1151.8" text-anchor="middle">30</text>
<text x="1479" y="717.5" text-anchor="end">-40</text>
<text x="1479" y="841.9" text-anchor="end">-80</text>
<text x="1479" y="966.4" text-anchor="end">-120</text>
<text x="1479" y="1090.8" text-anchor="end">-160</text>
<text x="1760.5" y="1191.4" text-anchor="middle">Input RF power (dBm)</text>
<text transform="translate(1411 888) rotate(-90)" text-anchor="middle">Output RF power (dBm)</text>
<text x="1519.2" y="783.2">Fundamental</text>
<text x="1545.6" y="896.2">91.82 dB·Hz</text>
<text x="1706.5" y="876.4" font-size="16.5">2/3</text>
<text x="1776.2" y="939.2">IMD3</text>
<text x="1842.8" y="1043.4">Noise floor</text>
</g>
<g id="pf">
<clipPath id="clipf"><rect x="96.7" y="1307.4" width="853.6" height="298.6"/></clipPath>
<polyline points="96.7,1439.8 97.5,1448.6 98.3,1466.1 99.1,1469.9 100,1469 100.8,1463.4 101.6,1475.5 102.4,1471.2 103.2,1478 104,1480.3 104.8,1487.4 105.7,1490.1 106.5,1481.6 107.3,1497.9 108.1,1493.4 108.9,1490.7 109.7,1494.4 110.5,1494.6 111.4,1499.9 112.2,1493.7 113,1493.1 113.8,1495.5 114.6,1497.2 115.4,1492.5 116.2,1506.1 117.1,1508.6 117.9,1509.5 118.7,1499.9 119.5,1515.1 120.3,1504.6 121.1,1500.3 121.9,1499.3 122.8,1499.8 123.6,1508.9 124.4,1507.4 125.2,1496.7 126,1506.5 126.8,1500.6 127.7,1499.3 128.5,1495.8 129.3,1495.2 130.1,1504.8 130.9,1500.9 131.7,1493.4 132.5,1489.5 133.4,1494.1 134.2,1483.2 135,1495.6 135.8,1488.1 136.6,1495.2 137.4,1507.5 138.2,1501.8 139.1,1504.3 139.9,1493.5 140.7,1505.2 141.5,1494.7 142.3,1495.9 143.1,1501.8 143.9,1495.3 144.8,1494.3 145.6,1491.3 146.4,1494 147.2,1506.3 148,1504.4 148.8,1506.2 149.6,1492.5 150.5,1492.1 151.3,1502 152.1,1498.6 152.9,1498.2 153.7,1485 154.5,1498.1 155.3,1498.9 156.2,1509.4 157,1502.2 157.8,1491.3 158.6,1488 159.4,1493.5 160.2,1498.3 161,1506.2 161.9,1489.3 162.7,1487.1 163.5,1510.3 164.3,1500.5 165.1,1499 165.9,1501.7 166.7,1492.8 167.6,1486.4 168.4,1491.4 169.2,1490.9 170,1501.3 170.8,1507.2 171.6,1497.2 172.4,1489.8 173.3,1507.3 174.1,1498.2 174.9,1508.6 175.7,1492.7 176.5,1499.8 177.3,1496.6 178.1,1494.2 179,1503.2 179.8,1492.8 180.6,1490.2 181.4,1489.5 182.2,1486.8 183,1490.8 183.8,1483.3 184.7,1490.7 185.5,1482.8 186.3,1491.2 187.1,1488.7 187.9,1485.9 188.7,1489.7 189.6,1485.5 190.4,1483.6 191.2,1488.9 192,1495.3 192.8,1479.1 193.6,1482.3 194.4,1481.3 195.3,1479.2 196.1,1495 196.9,1495.3 197.7,1500.3 198.5,1505 199.3,1494.5 200.1,1494.6 201,1497.2 201.8,1492.6 202.6,1490.6 203.4,1489.7 204.2,1473.6 205,1492.3 205.8,1476.9 206.7,1492.3 207.5,1474.5 208.3,1496.1 209.1,1484.6 209.9,1495 210.7,1494.6 211.5,1493.1 212.4,1488.8 213.2,1490.5 214,1493.7 214.8,1496.9 215.6,1476.9 216.4,1483.8 217.2,1487.3 218.1,1479 218.9,1479.1 219.7,1486 220.5,1491.1 221.3,1482.6 222.1,1494.3 222.9,1489.6 223.8,1493.5 224.6,1499.7 225.4,1490.3 226.2,1495.9 227,1486.6 227.8,1494.4 228.6,1492.5 229.5,1499.8 230.3,1490.2 231.1,1491.6 231.9,1482.2 232.7,1489.5 233.5,1481.5 234.3,1485.5 235.2,1482.7 236,1490.5 236.8,1489.9 237.6,1481.5 238.4,1486.5 239.2,1483.9 240,1488.8 240.9,1500 241.7,1479.8 242.5,1484.4 243.3,1496 244.1,1494.1 244.9,1485.5 245.8,1487.8 246.6,1489.1 247.4,1474 248.2,1487.1 249,1482.5 249.8,1489.9 250.6,1481.2 251.5,1488.2 252.3,1483 253.1,1499.8 253.9,1491.3 254.7,1488.1 255.5,1496.2 256.3,1492.4 257.2,1498.5 258,1481.2 258.8,1495 259.6,1492.3 260.4,1486.3 261.2,1492.8 262,1492.3 262.9,1492.3 263.7,1476 264.5,1477 265.3,1489.1 266.1,1471.2 266.9,1477.5 267.7,1482 268.6,1476.1 269.4,1481.6 270.2,1476.9 271,1477.6 271.8,1479.5 272.6,1469.6 273.4,1462.4 274.3,1457.6 275.1,1473.2 275.9,1477.9 276.7,1472.1 277.5,1472 278.3,1465.1 279.1,1467.4 280,1478.8 280.8,1473.5 281.6,1477.1 282.4,1471.6 283.2,1468.1 284,1468.2 284.8,1456 285.7,1469 286.5,1470.6 287.3,1467.5 288.1,1476.8 288.9,1466.9 289.7,1469.6 290.5,1464.1 291.4,1471.1 292.2,1474.7 293,1483.5 293.8,1489.1 294.6,1482.1 295.4,1479.9 296.2,1476.1 297.1,1475.8 297.9,1476.8 298.7,1495.2 299.5,1482 300.3,1477.3 301.1,1460.7 302,1445.1 302.8,1455.2 303.6,1451.4 304.4,1452.1 305.2,1431.4 306,1446.5 306.8,1443.3 307.7,1454.2 308.5,1445.8 309.3,1439.7 310.1,1439 310.9,1443.4 311.7,1449.8 312.5,1451.5 313.4,1448.7 314.2,1443.1 315,1447.8 315.8,1450.6 316.6,1437.9 317.4,1444.5 318.2,1438.4 319.1,1440.6 319.9,1430 320.7,1444.6 321.5,1437.2 322.3,1436.3 323.1,1434 323.9,1448.1 324.8,1446.7 325.6,1435 326.4,1444.9 327.2,1443.1 328,1439.4 328.8,1449.7 329.6,1440 330.5,1446.8 331.3,1437.5 332.1,1443.8 332.9,1445.2 333.7,1438.6 334.5,1442.2 335.3,1444.4 336.2,1450.3 337,1437 337.8,1432.9 338.6,1445.7 339.4,1436.4 340.2,1442 341,1442.4 341.9,1433.3 342.7,1440.6 343.5,1450.4 344.3,1445.9 345.1,1445.1 345.9,1444.7 346.7,1445.9 347.6,1445 348.4,1439.6 349.2,1443.3 350,1456.7 350.8,1443.5 351.6,1436.7 352.4,1449.4 353.3,1449.5 354.1,1437 354.9,1441.4 355.7,1440.4 356.5,1438 357.3,1437.3 358.1,1441.5 359,1438.9 359.8,1436.3 360.6,1445.3 361.4,1445.8 362.2,1449.8 363,1437 363.9,1436.9 364.7,1446.8 365.5,1436.1 366.3,1440.1 367.1,1437.2 367.9,1455.7 368.7,1437 369.6,1442.2 370.4,1428.1 371.2,1433.2 372,1439.5 372.8,1443.6 373.6,1433.1 374.4,1427.6 375.3,1443.5 376.1,1435.2 376.9,1442.4 377.7,1437 378.5,1444.9 379.3,1438.9 380.1,1453.9 381,1448.4 381.8,1443.3 382.6,1436.9 383.4,1444.2 384.2,1438.1 385,1440.7 385.8,1452.5 386.7,1435 387.5,1438.7 388.3,1435.5 389.1,1449.3 389.9,1454.3 390.7,1431.5 391.5,1437.6 392.4,1455.1 393.2,1447 394,1442.2 394.8,1447.5 395.6,1440.4 396.4,1445.3 397.2,1439.1 398.1,1449.4 398.9,1446.9 399.7,1441 400.5,1437.8 401.3,1441.3 402.1,1440.4 402.9,1442.1 403.8,1454.8 404.6,1436.8 405.4,1443.2 406.2,1439.8 407,1447.8 407.8,1447.6 408.6,1440.4 409.5,1443 410.3,1444.6 411.1,1436.9 411.9,1441.4 412.7,1424.7 413.5,1446.4 414.3,1448.4 415.2,1440.8 416,1438.2 416.8,1443.7 417.6,1436 418.4,1436.9 419.2,1435.3 420.1,1455.9 420.9,1440.7 421.7,1444.7 422.5,1456.1 423.3,1447.8 424.1,1438.2 424.9,1440.4 425.8,1437.4 426.6,1447.4 427.4,1438 428.2,1434.1 429,1441.8 429.8,1429.5 430.6,1439.4 431.5,1435.4 432.3,1443.1 433.1,1447.7 433.9,1441.9 434.7,1448.7 435.5,1443 436.3,1434.6 437.2,1434.4 438,1435.8 438.8,1429.8 439.6,1436.9 440.4,1441.3 441.2,1429.1 442,1426.5 442.9,1429.8 443.7,1430.5 444.5,1444.2 445.3,1445.6 446.1,1442.4 446.9,1442.6 447.7,1438.5 448.6,1426.6 449.4,1438.4 450.2,1428 451,1425.9 451.8,1436.9 452.6,1431.7 453.4,1431.9 454.3,1427.3 455.1,1437.3 455.9,1434.5 456.7,1428.4 457.5,1421.1 458.3,1417.1 459.1,1425.9 460,1423.2 460.8,1436.8 461.6,1424.7 462.4,1432.4 463.2,1427.1 464,1436.5 464.8,1444.5 465.7,1443.2 466.5,1430.6 467.3,1425.5 468.1,1419.9 468.9,1436.2 469.7,1431.2 470.5,1434.9 471.4,1426.5 472.2,1430.4 473,1440.7 473.8,1431.8 474.6,1449.9 475.4,1446.5 476.3,1448.7 477.1,1447.3 477.9,1443 478.7,1449.1 479.5,1447.4 480.3,1446.6 481.1,1439.1 482,1436.7 482.8,1438.9 483.6,1442.7 484.4,1442.1 485.2,1450.4 486,1451.7 486.8,1450.5 487.7,1441.2 488.5,1446.5 489.3,1447.9 490.1,1446.5 490.9,1437.8 491.7,1440.7 492.5,1439.4 493.4,1444.3 494.2,1436.4 495,1437.4 495.8,1431.2 496.6,1433.8 497.4,1442.9 498.2,1438.9 499.1,1439.5 499.9,1443.3 500.7,1430.4 501.5,1446.5 502.3,1434.1 503.1,1448.9 503.9,1442.4 504.8,1437.6 505.6,1443.6 506.4,1435.6 507.2,1433.3 508,1445.9 508.8,1445.8 509.6,1439.4 510.5,1440.5 511.3,1444 512.1,1440.2 512.9,1442.6 513.7,1449.4 514.5,1452.5 515.3,1452.9 516.2,1446.2 517,1453 517.8,1449.5 518.6,1447.2 519.4,1450 520.2,1442.6 521,1446.1 521.9,1436.4 522.7,1428.7 523.5,1433.2 524.3,1430.8 525.1,1445.8 525.9,1446.8 526.7,1442.9 527.6,1439.6 528.4,1442.8 529.2,1450.4 530,1454.2 530.8,1442.7 531.6,1444.2 532.4,1449.6 533.3,1443.2 534.1,1445.3 534.9,1444.8 535.7,1441.9 536.5,1439.9 537.3,1449.9 538.2,1436.6 539,1435.5 539.8,1437.6 540.6,1437.5 541.4,1434.5 542.2,1438.8 543,1450.7 543.9,1444.9 544.7,1442.6 545.5,1439.4 546.3,1450.1 547.1,1456.5 547.9,1446.2 548.7,1447.9 549.6,1454.7 550.4,1445.2 551.2,1447.8 552,1442.7 552.8,1434.6 553.6,1445.7 554.4,1433.5 555.3,1444.7 556.1,1442.9 556.9,1433.4 557.7,1433 558.5,1445.6 559.3,1448.3 560.1,1453.1 561,1448.5 561.8,1456.7 562.6,1453.7 563.4,1446.8 564.2,1450.9 565,1447.1 565.8,1446.8 566.7,1438.4 567.5,1437.6 568.3,1446.5 569.1,1449.4 569.9,1438.5 570.7,1444.8 571.5,1440.4 572.4,1458.3 573.2,1452.4 574,1452 574.8,1447.5 575.6,1434.6 576.4,1451.1 577.2,1458.6 578.1,1444.3 578.9,1440.3 579.7,1451.9 580.5,1450.9 581.3,1451.5 582.1,1437.7 582.9,1446 583.8,1450.2 584.6,1439.3 585.4,1443.1 586.2,1442.1 587,1444.4 587.8,1445.3 588.6,1437.6 589.5,1444.5 590.3,1455.1 591.1,1458.2 591.9,1447.5 592.7,1444.4 593.5,1448.2 594.4,1440.2 595.2,1444.3 596,1446.5 596.8,1444.2 597.6,1441.3 598.4,1455.8 599.2,1448.7 600.1,1455.5 600.9,1443.9 601.7,1444.8 602.5,1450.7 603.3,1444.7 604.1,1443 604.9,1434.2 605.8,1427.9 606.6,1429.8 607.4,1431.6 608.2,1433.6 609,1436.9 609.8,1433 610.6,1423.3 611.5,1431.5 612.3,1432.2 613.1,1431 613.9,1423 614.7,1427.1 615.5,1424.2 616.3,1425.3 617.2,1422.8 618,1419.2 618.8,1415.9 619.6,1422.4 620.4,1416.5 621.2,1413.6 622,1421.8 622.9,1424.7 623.7,1410.5 624.5,1417.9 625.3,1412.1 626.1,1414.3 626.9,1419.9 627.7,1413.5 628.6,1413.5 629.4,1422.8 630.2,1416.7 631,1412.6 631.8,1414.5 632.6,1412.2 633.4,1401.5 634.3,1410.3 635.1,1416.3 635.9,1419.5 636.7,1422.1 637.5,1409.3 638.3,1415.2 639.1,1410.1 640,1420 640.8,1416.5 641.6,1414.8 642.4,1422.4 643.2,1421.4 644,1413.9 644.8,1415.7 645.7,1418.4 646.5,1411.9 647.3,1417 648.1,1425.6 648.9,1423.1 649.7,1413.5 650.5,1419.7 651.4,1410.3 652.2,1412.3 653,1407.5 653.8,1429.9 654.6,1411.4 655.4,1419.7 656.3,1422.5 657.1,1419 657.9,1422.1 658.7,1407.9 659.5,1407 660.3,1410.6 661.1,1415.5 662,1421.5 662.8,1419.9 663.6,1418.5 664.4,1423.2 665.2,1429.4 666,1436.5 666.8,1425.9 667.7,1431.1 668.5,1427.6 669.3,1431 670.1,1419.5 670.9,1432.8 671.7,1416.9 672.5,1424.7 673.4,1432.8 674.2,1426.1 675,1427.2 675.8,1420.2 676.6,1423.9 677.4,1438.3 678.2,1432.6 679.1,1425.5 679.9,1433.4 680.7,1421.1 681.5,1426.6 682.3,1413.9 683.1,1416.3 683.9,1413.5 684.8,1424.1 685.6,1414.2 686.4,1408.7 687.2,1412 688,1420.2 688.8,1416.6 689.6,1411.6 690.5,1410.5 691.3,1399.4 692.1,1399.9 692.9,1409.2 693.7,1402.7 694.5,1399.5 695.3,1394.5 696.2,1405.9 697,1415.7 697.8,1409.1 698.6,1412.2 699.4,1404 700.2,1409 701,1392.8 701.9,1397.9 702.7,1391.9 703.5,1412.6 704.3,1417.5 705.1,1405.3 705.9,1414.7 706.7,1410.6 707.6,1401.9 708.4,1411 709.2,1407.5 710,1408.3 710.8,1396.2 711.6,1407.3 712.5,1394.2 713.3,1404.5 714.1,1401.4 714.9,1394.3 715.7,1403.2 716.5,1398.1 717.3,1405.5 718.2,1403.7 719,1405.1 719.8,1409.2 720.6,1405.1 721.4,1416.7 722.2,1413.1 723,1412.8 723.9,1405.8 724.7,1401.3 725.5,1410.2 726.3,1415.2 727.1,1415.9 727.9,1414.9 728.7,1416.3 729.6,1406.5 730.4,1412.1 731.2,1420.5 732,1414.6 732.8,1407.9 733.6,1423 734.4,1428.2 735.3,1414.3 736.1,1430.1 736.9,1421.9 737.7,1420.3 738.5,1424.1 739.3,1437 740.1,1426.6 741,1420 741.8,1429.7 742.6,1418.8 743.4,1417.5 744.2,1415.2 745,1415.9 745.8,1419.2 746.7,1427.4 747.5,1421.7 748.3,1422.9 749.1,1425.5 749.9,1411.5 750.7,1420.6 751.5,1423.5 752.4,1424.4 753.2,1427.3 754,1424.1 754.8,1430.7 755.6,1422 756.4,1420.9 757.2,1420.3 758.1,1420.4 758.9,1427.8 759.7,1422.4 760.5,1414.2 761.3,1422.4 762.1,1424.2 762.9,1425 763.8,1413.6 764.6,1413.2 765.4,1426.7 766.2,1421.2 767,1423.1 767.8,1420.4 768.7,1432.5 769.5,1426.6 770.3,1419.9 771.1,1422.3 771.9,1432.4 772.7,1417.2 773.5,1430.1 774.4,1423.3 775.2,1431 776,1434.6 776.8,1430.5 777.6,1420.1 778.4,1429.2 779.2,1429.4 780.1,1419.3 780.9,1420 781.7,1424.8 782.5,1435.6 783.3,1428.7 784.1,1435.7 784.9,1424.7 785.8,1429.8 786.6,1433.4 787.4,1439.8 788.2,1432.9 789,1433.1 789.8,1442 790.6,1434.1 791.5,1426.5 792.3,1418 793.1,1426.3 793.9,1423.1 794.7,1425.4 795.5,1413.1 796.3,1422.1 797.2,1429.6 798,1413.3 798.8,1427.1 799.6,1422.7 800.4,1422.5 801.2,1425.9 802,1432.7 802.9,1421.1 803.7,1420.5 804.5,1426.2 805.3,1427.8 806.1,1425.2 806.9,1422.7 807.7,1418.4 808.6,1422.7 809.4,1417.7 810.2,1407 811,1416.1 811.8,1426 812.6,1422.2 813.4,1411.2 814.3,1419 815.1,1418.3 815.9,1418.1 816.7,1422.1 817.5,1410.8 818.3,1421.4 819.1,1410 820,1413.7 820.8,1412 821.6,1419 822.4,1422.3 823.2,1421 824,1415.2 824.8,1416.2 825.7,1423.1 826.5,1405.5 827.3,1407.6 828.1,1412.3 828.9,1428.2 829.7,1421.8 830.6,1419.3 831.4,1419.5 832.2,1419.8 833,1406.2 833.8,1410.9 834.6,1405.6 835.4,1410.3 836.3,1422.8 837.1,1406.2 837.9,1413.3 838.7,1404.4 839.5,1404.4 840.3,1403.3 841.1,1414.6 842,1420.1 842.8,1420.9 843.6,1416 844.4,1411.6 845.2,1408.2 846,1416.5 846.8,1412.5 847.7,1409.8 848.5,1413.2 849.3,1402.1 850.1,1405.2 850.9,1407 851.7,1397.4 852.5,1403.9 853.4,1415.9 854.2,1406.9 855,1406.4 855.8,1408.1 856.6,1402.4 857.4,1408.7 858.2,1396.9 859.1,1400.8 859.9,1393.2 860.7,1412 861.5,1401.4 862.3,1407.5 863.1,1416.8 863.9,1392.3 864.8,1407.8 865.6,1408.2 866.4,1402.7 867.2,1400.6 868,1406.8 868.8,1406.4 869.6,1401.8 870.5,1408.3 871.3,1406 872.1,1414.7 872.9,1410.5 873.7,1407 874.5,1405.4 875.3,1410 876.2,1396.4 877,1399.3 877.8,1414.6 878.6,1392.7 879.4,1401.9 880.2,1398 881,1408.4 881.9,1405.4 882.7,1409.8 883.5,1399.6 884.3,1406.3 885.1,1401.2 885.9,1404.5 886.8,1407.5 887.6,1403 888.4,1410.4 889.2,1406.2 890,1396.8 890.8,1407.8 891.6,1400.4 892.5,1400.9 893.3,1405.8 894.1,1405.2 894.9,1408.3 895.7,1398.8 896.5,1413.7 897.3,1403.4 898.2,1401.6 899,1403.9 899.8,1397 900.6,1404.1 901.4,1400.9 902.2,1411.7 903,1404.1 903.9,1402.3 904.7,1410.8 905.5,1400.3 906.3,1403.3 907.1,1393.3 907.9,1402.2 908.7,1397.3 909.6,1399.1 910.4,1407.6 911.2,1402.1 912,1404.1 912.8,1402.9 913.6,1402.1 914.4,1402 915.3,1404.9 916.1,1410.9 916.9,1402.9 917.7,1408.2 918.5,1408.6 919.3,1399 920.1,1409 921,1404 921.8,1411 922.6,1415.5 923.4,1405.3 924.2,1412.1 925,1413.2 925.8,1414 926.7,1409.8 927.5,1404 928.3,1410.2 929.1,1402 929.9,1399.6 930.7,1413.6 931.5,1412.2 932.4,1409.1 933.2,1407.8 934,1405.5 934.8,1409.8 935.6,1404.4 936.4,1409.8 937.2,1403.4 938.1,1406.7 938.9,1397.8 939.7,1391.7 940.5,1394.1 941.3,1390.1 942.1,1408.6 942.9,1397.9 943.8,1387.7 944.6,1401.2 945.4,1391 946.2,1391.9 947,1382.7 947.8,1396.9 948.7,1385.9 949.5,1381" fill="none" stroke="#5a5a5a" stroke-width="2.6" stroke-linejoin="round" clip-path="url(#clipf)"/>
<polyline points="96.7,1484.4 97.5,1492.2 98.3,1513.5 99.1,1527.8 100,1528.5 100.8,1539.9 101.6,1538.8 102.4,1539 103.2,1534.6 104,1549.6 104.8,1549.9 105.7,1546.6 106.5,1545 107.3,1558.3 108.1,1553.6 108.9,1554.1 109.7,1564.7 110.5,1564.4 111.4,1563.6 112.2,1557.1 113,1567.8 113.8,1570.2 114.6,1578 115.4,1572.7 116.2,1575.1 117.1,1575.4 117.9,1572.8 118.7,1568.2 119.5,1579.6 120.3,1576.7 121.1,1566.3 121.9,1566.3 122.8,1566.5 123.6,1555.2 124.4,1559.3 125.2,1553.7 126,1558.2 126.8,1561.6 127.7,1557.7 128.5,1555.3 129.3,1557.5 130.1,1559.6 130.9,1557.8 131.7,1560.5 132.5,1565.2 133.4,1558.6 134.2,1556.6 135,1556.3 135.8,1563.6 136.6,1563.2 137.4,1566.1 138.2,1559.4 139.1,1562.5 139.9,1562.2 140.7,1554.9 141.5,1552.6 142.3,1549.4 143.1,1565.8 143.9,1569.4 144.8,1565.7 145.6,1562.1 146.4,1563.8 147.2,1558.5 148,1547.1 148.8,1551 149.6,1561.2 150.5,1558.4 151.3,1554.3 152.1,1555.5 152.9,1553.5 153.7,1551.7 154.5,1550.9 155.3,1554.6 156.2,1554 157,1560.7 157.8,1555.5 158.6,1560.8 159.4,1564.8 160.2,1554.3 161,1559.8 161.9,1553.5 162.7,1547.2 163.5,1544.7 164.3,1555.1 165.1,1553 165.9,1542.6 166.7,1545.4 167.6,1549.8 168.4,1556.6 169.2,1555.1 170,1557.5 170.8,1549.9 171.6,1553.3 172.4,1558.5 173.3,1550.2 174.1,1553.1 174.9,1561.6 175.7,1565.2 176.5,1566.9 177.3,1556.6 178.1,1558 179,1557.6 179.8,1558 180.6,1557.7 181.4,1553.8 182.2,1564.4 183,1567.2 183.8,1559.6 184.7,1554.4 185.5,1556.6 186.3,1552.7 187.1,1561.5 187.9,1553.7 188.7,1551.9 189.6,1563.5 190.4,1559.9 191.2,1548 192,1555.1 192.8,1560.7 193.6,1560.7 194.4,1560.1 195.3,1556.8 196.1,1558.9 196.9,1553.7 197.7,1555.9 198.5,1558.9 199.3,1552.3 200.1,1551.3 201,1554.9 201.8,1558.7 202.6,1554.7 203.4,1559.4 204.2,1563.4 205,1553 205.8,1552.9 206.7,1552.6 207.5,1546.6 208.3,1544.6 209.1,1549.8 209.9,1551.6 210.7,1547.8 211.5,1544.1 212.4,1540.7 213.2,1548 214,1541.5 214.8,1543.6 215.6,1540.8 216.4,1540.5 217.2,1533.9 218.1,1536.4 218.9,1536.2 219.7,1540.9 220.5,1542.2 221.3,1548.7 222.1,1540.5 222.9,1544.2 223.8,1553.3 224.6,1545.3 225.4,1552.9 226.2,1558.9 227,1549.4 227.8,1557.2 228.6,1549.7 229.5,1555.6 230.3,1564.1 231.1,1569.7 231.9,1571.7 232.7,1570.4 233.5,1566 234.3,1559.4 235.2,1552.7 236,1559.9 236.8,1555.6 237.6,1556.6 238.4,1564.9 239.2,1557.1 240,1557.4 240.9,1549.8 241.7,1544.8 242.5,1549.4 243.3,1550.9 244.1,1549.7 244.9,1551 245.8,1544.9 246.6,1547 247.4,1544.8 248.2,1558.1 249,1560.6 249.8,1554.9 250.6,1550 251.5,1555.5 252.3,1543.9 253.1,1554.3 253.9,1565.4 254.7,1564.2 255.5,1569.8 256.3,1556.7 257.2,1570.2 258,1577.3 258.8,1567.2 259.6,1557.2 260.4,1557.2 261.2,1559.3 262,1550 262.9,1554.1 263.7,1544.6 264.5,1553.4 265.3,1549.7 266.1,1557.3 266.9,1545.6 267.7,1552.9 268.6,1539.9 269.4,1542.9 270.2,1543.6 271,1542 271.8,1544.4 272.6,1529.1 273.4,1536.2 274.3,1538.7 275.1,1539.3 275.9,1530.2 276.7,1539 277.5,1540.9 278.3,1528.9 279.1,1540.6 280,1539 280.8,1535.5 281.6,1525.9 282.4,1519.4 283.2,1515.7 284,1526.6 284.8,1521 285.7,1514.3 286.5,1516.7 287.3,1528.6 288.1,1536.1 288.9,1529.3 289.7,1537.7 290.5,1522.3 291.4,1531.2 292.2,1533 293,1526.5 293.8,1536 294.6,1545.9 295.4,1541 296.2,1552.8 297.1,1557.3 297.9,1547.4 298.7,1546.4 299.5,1544.4 300.3,1551.3 301.1,1549.6 302,1543.5 302.8,1522 303.6,1513.3 304.4,1505.5 305.2,1507.8 306,1513.1 306.8,1504.1 307.7,1512.3 308.5,1509.7 309.3,1513.7 310.1,1511.3 310.9,1512.9 311.7,1505.8 312.5,1506.4 313.4,1505.5 314.2,1499.4 315,1501.8 315.8,1498.7 316.6,1503.1 317.4,1523 318.2,1513.4 319.1,1517.5 319.9,1510.5 320.7,1513 321.5,1514 322.3,1506.9 323.1,1510.1 323.9,1517.7 324.8,1516.4 325.6,1512.5 326.4,1509.6 327.2,1514.1 328,1509.1 328.8,1521.7 329.6,1517.2 330.5,1509.4 331.3,1510.5 332.1,1506.2 332.9,1512.2 333.7,1504.7 334.5,1500.2 335.3,1508.4 336.2,1504.3 337,1510.5 337.8,1504.5 338.6,1508.3 339.4,1505.2 340.2,1504.2 341,1501.2 341.9,1504.1 342.7,1500.3 343.5,1501.7 344.3,1500.2 345.1,1500.1 345.9,1493 346.7,1498.5 347.6,1493.4 348.4,1500.8 349.2,1508.3 350,1497.2 350.8,1497.4 351.6,1502.1 352.4,1502.2 353.3,1498 354.1,1487.4 354.9,1498.1 355.7,1502.8 356.5,1493.3 357.3,1500.3 358.1,1507.4 359,1498.2 359.8,1503.7 360.6,1508.5 361.4,1506.6 362.2,1506.2 363,1497.5 363.9,1492.3 364.7,1499.7 365.5,1498.1 366.3,1494.7 367.1,1501.9 367.9,1493.3 368.7,1504.9 369.6,1499.4 370.4,1500.6 371.2,1506.2 372,1494.9 372.8,1493.3 373.6,1506 374.4,1495.4 375.3,1498.3 376.1,1491.4 376.9,1492.3 377.7,1495.2 378.5,1501.7 379.3,1499.3 380.1,1502.3 381,1490.2 381.8,1496.8 382.6,1487.6 383.4,1491.1 384.2,1492.4 385,1493.6 385.8,1487.7 386.7,1489.4 387.5,1497.7 388.3,1495.2 389.1,1488.2 389.9,1489.7 390.7,1488.7 391.5,1500.7 392.4,1494.5 393.2,1498.8 394,1492.9 394.8,1490.2 395.6,1493.6 396.4,1489.3 397.2,1490.1 398.1,1486.8 398.9,1493.7 399.7,1500.9 400.5,1487.9 401.3,1485.5 402.1,1491.1 402.9,1490.8 403.8,1492.7 404.6,1489.3 405.4,1479.1 406.2,1488.2 407,1490.6 407.8,1493.2 408.6,1487.6 409.5,1491.4 410.3,1490.1 411.1,1490.7 411.9,1500.5 412.7,1489 413.5,1492 414.3,1487.9 415.2,1490.7 416,1487.8 416.8,1506.6 417.6,1505.3 418.4,1500.5 419.2,1505.1 420.1,1500.1 420.9,1502.5 421.7,1502.1 422.5,1494.4 423.3,1491.8 424.1,1504.3 424.9,1511.1 425.8,1494.5 426.6,1501.8 427.4,1495.9 428.2,1484.8 429,1492.2 429.8,1498.9 430.6,1500.6 431.5,1491.6 432.3,1494.1 433.1,1498.1 433.9,1499.8 434.7,1492.7 435.5,1499.6 436.3,1491.1 437.2,1497.2 438,1502.2 438.8,1493.2 439.6,1495.9 440.4,1496 441.2,1490.1 442,1495.6 442.9,1492.1 443.7,1494 444.5,1494.6 445.3,1502.8 446.1,1493.2 446.9,1492.4 447.7,1483.4 448.6,1493.5 449.4,1500.1 450.2,1493.5 451,1489 451.8,1494.8 452.6,1483.4 453.4,1489.7 454.3,1495.9 455.1,1494.5 455.9,1491.8 456.7,1496.6 457.5,1492.9 458.3,1490.4 459.1,1493.8 460,1501.8 460.8,1482.6 461.6,1489.2 462.4,1486.2 463.2,1482.7 464,1478.8 464.8,1481.9 465.7,1476.8 466.5,1476.2 467.3,1485.3 468.1,1478.6 468.9,1490.6 469.7,1489.3 470.5,1491.8 471.4,1486.9 472.2,1487.2 473,1488.7 473.8,1486 474.6,1493.5 475.4,1491.2 476.3,1476.7 477.1,1485.9 477.9,1490.8 478.7,1485.7 479.5,1488 480.3,1497.7 481.1,1493.1 482,1490 482.8,1492.7 483.6,1490.9 484.4,1494.1 485.2,1497.4 486,1497.5 486.8,1500.6 487.7,1499.5 488.5,1495.5 489.3,1493.6 490.1,1490.7 490.9,1496 491.7,1483 492.5,1486.7 493.4,1494.1 494.2,1506.2 495,1507.2 495.8,1507.4 496.6,1510.4 497.4,1511.5 498.2,1504.9 499.1,1501.4 499.9,1498.4 500.7,1494 501.5,1490.5 502.3,1500.1 503.1,1487 503.9,1492.4 504.8,1490.1 505.6,1499 506.4,1506.3 507.2,1497.8 508,1500.7 508.8,1502.3 509.6,1498.9 510.5,1507.6 511.3,1497.7 512.1,1504.1 512.9,1504.4 513.7,1504 514.5,1504.8 515.3,1496.8 516.2,1496.9 517,1499.6 517.8,1498.9 518.6,1495.4 519.4,1498.4 520.2,1504.7 521,1487.8 521.9,1494.5 522.7,1496.9 523.5,1499 524.3,1497.6 525.1,1494.7 525.9,1494.6 526.7,1500.1 527.6,1485.8 528.4,1496 529.2,1498.5 530,1494.9 530.8,1495.4 531.6,1493.7 532.4,1485.4 533.3,1503.1 534.1,1504.6 534.9,1502.6 535.7,1497.7 536.5,1495.3 537.3,1481.1 538.2,1483.5 539,1483.6 539.8,1486.7 540.6,1495.9 541.4,1494.9 542.2,1487.8 543,1486.3 543.9,1487.1 544.7,1482.7 545.5,1494.7 546.3,1494.1 547.1,1500.6 547.9,1494.1 548.7,1494.4 549.6,1495.1 550.4,1492.1 551.2,1499.6 552,1494.6 552.8,1502.1 553.6,1509 554.4,1501.1 555.3,1507.1 556.1,1517.2 556.9,1499.1 557.7,1506.8 558.5,1503.6 559.3,1509.3 560.1,1510.1 561,1518.1 561.8,1515.7 562.6,1517.1 563.4,1520.3 564.2,1514.8 565,1517.9 565.8,1526.7 566.7,1528.9 567.5,1519.4 568.3,1514.5 569.1,1515.2 569.9,1529.1 570.7,1522.4 571.5,1519.8 572.4,1522.5 573.2,1518.4 574,1507.7 574.8,1515.7 575.6,1514.4 576.4,1513 577.2,1509.5 578.1,1504.8 578.9,1507.4 579.7,1515.7 580.5,1519.4 581.3,1509.4 582.1,1507.3 582.9,1501.6 583.8,1507.1 584.6,1503.4 585.4,1508.2 586.2,1513.4 587,1506.4 587.8,1495.7 588.6,1504.3 589.5,1510.3 590.3,1507 591.1,1506.8 591.9,1499.4 592.7,1503.2 593.5,1502.7 594.4,1508.1 595.2,1506.7 596,1499.4 596.8,1501.3 597.6,1497.3 598.4,1506.6 599.2,1501.3 600.1,1506.8 600.9,1495.7 601.7,1493.9 602.5,1500.9 603.3,1495.8 604.1,1495.4 604.9,1495.5 605.8,1494.5 606.6,1480.2 607.4,1475.5 608.2,1479.2 609,1482 609.8,1475.9 610.6,1476.7 611.5,1481.6 612.3,1489.9 613.1,1477.7 613.9,1472.2 614.7,1473.5 615.5,1480.2 616.3,1471.3 617.2,1459.9 618,1470.7 618.8,1477.6 619.6,1475 620.4,1470.9 621.2,1469.5 622,1474.2 622.9,1471.9 623.7,1479.9 624.5,1478.2 625.3,1468.2 626.1,1471.4 626.9,1462.4 627.7,1473.5 628.6,1474.7 629.4,1466.5 630.2,1473.6 631,1469.6 631.8,1467.7 632.6,1468.9 633.4,1463.1 634.3,1469.7 635.1,1470.3 635.9,1473.9 636.7,1467.6 637.5,1463.1 638.3,1463.7 639.1,1467.6 640,1470.2 640.8,1470.9 641.6,1468.4 642.4,1465.5 643.2,1464.3 644,1468.3 644.8,1457.1 645.7,1463.2 646.5,1468.4 647.3,1466.7 648.1,1461.6 648.9,1455.2 649.7,1468.1 650.5,1464.1 651.4,1456.6 652.2,1459.7 653,1460.8 653.8,1459.8 654.6,1466.9 655.4,1465.1 656.3,1467.9 657.1,1467.3 657.9,1465.5 658.7,1465 659.5,1470.7 660.3,1467.4 661.1,1469.9 662,1472.8 662.8,1462.9 663.6,1461.2 664.4,1473.8 665.2,1474.5 666,1472.6 666.8,1470.2 667.7,1476.5 668.5,1472.2 669.3,1485.4 670.1,1485.6 670.9,1482.1 671.7,1481.3 672.5,1478.2 673.4,1466.9 674.2,1480.7 675,1481.4 675.8,1478.9 676.6,1473.6 677.4,1463.7 678.2,1466.9 679.1,1469.3 679.9,1469.3 680.7,1471 681.5,1461.8 682.3,1465.3 683.1,1465.6 683.9,1457.4 684.8,1456.3 685.6,1463.1 686.4,1456.3 687.2,1453.4 688,1449 688.8,1454.2 689.6,1445.4 690.5,1441.8 691.3,1449.9 692.1,1449.8 692.9,1452 693.7,1451.8 694.5,1452.4 695.3,1452.7 696.2,1459.4 697,1453.8 697.8,1447.4 698.6,1455.2 699.4,1455.1 700.2,1453.2 701,1454.3 701.9,1453.4 702.7,1449.4 703.5,1453.6 704.3,1454.4 705.1,1448.9 705.9,1456.7 706.7,1456.8 707.6,1455.6 708.4,1461.2 709.2,1459.3 710,1453.7 710.8,1460.9 711.6,1461.9 712.5,1463.1 713.3,1458.2 714.1,1444.4 714.9,1450 715.7,1449.4 716.5,1453.9 717.3,1464.3 718.2,1458.9 719,1450.3 719.8,1460.8 720.6,1454 721.4,1457.2 722.2,1456.8 723,1462 723.9,1464.3 724.7,1466.6 725.5,1469.5 726.3,1467.5 727.1,1459.5 727.9,1460.4 728.7,1464.2 729.6,1465.6 730.4,1479 731.2,1460.1 732,1472.3 732.8,1463.9 733.6,1473.4 734.4,1468.5 735.3,1465.7 736.1,1465.2 736.9,1459.8 737.7,1465.1 738.5,1471.1 739.3,1473.3 740.1,1473.5 741,1476.6 741.8,1482.6 742.6,1471.8 743.4,1472 744.2,1466.2 745,1468.8 745.8,1466.6 746.7,1454.5 747.5,1464.7 748.3,1479.5 749.1,1469.6 749.9,1470.1 750.7,1477.9 751.5,1472.3 752.4,1473.5 753.2,1464.3 754,1466.4 754.8,1471.4 755.6,1477.5 756.4,1474.8 757.2,1468.9 758.1,1472 758.9,1475 759.7,1470.9 760.5,1481.1 761.3,1473.6 762.1,1483 762.9,1480.4 763.8,1474.3 764.6,1477 765.4,1477.9 766.2,1474.8 767,1471.4 767.8,1476 768.7,1471.5 769.5,1479.7 770.3,1475.2 771.1,1466.7 771.9,1479.5 772.7,1474.6 773.5,1478.6 774.4,1480.7 775.2,1472.8 776,1472.7 776.8,1481.4 777.6,1479.7 778.4,1480.9 779.2,1481.2 780.1,1479 780.9,1482.4 781.7,1475.7 782.5,1479.4 783.3,1475 784.1,1475 784.9,1474.4 785.8,1481.8 786.6,1477.5 787.4,1476.2 788.2,1480.9 789,1474.2 789.8,1468.4 790.6,1477.6 791.5,1479.3 792.3,1476.1 793.1,1486.2 793.9,1481.4 794.7,1483.6 795.5,1479.5 796.3,1469.3 797.2,1473.9 798,1474.5 798.8,1471 799.6,1473 800.4,1459.9 801.2,1466 802,1470.8 802.9,1469.9 803.7,1470.5 804.5,1472.1 805.3,1471.8 806.1,1470.6 806.9,1468.7 807.7,1469.3 808.6,1466.8 809.4,1473.5 810.2,1472.5 811,1468.2 811.8,1466.4 812.6,1464.8 813.4,1463.4 814.3,1466.5 815.1,1461.1 815.9,1469.2 816.7,1468.8 817.5,1460.3 818.3,1454 819.1,1464.6 820,1459.2 820.8,1460.2 821.6,1457.9 822.4,1460 823.2,1454.1 824,1452.3 824.8,1451.6 825.7,1458.3 826.5,1452 827.3,1459.4 828.1,1446.4 828.9,1451.8 829.7,1461.9 830.6,1452.5 831.4,1456.9 832.2,1454.2 833,1451 833.8,1447.2 834.6,1451.2 835.4,1451.2 836.3,1458.7 837.1,1454.1 837.9,1456.8 838.7,1454.3 839.5,1464.7 840.3,1456.1 841.1,1460.6 842,1455.6 842.8,1446.6 843.6,1442.4 844.4,1448.6 845.2,1450.2 846,1449.3 846.8,1451.9 847.7,1458.6 848.5,1456.1 849.3,1452.9 850.1,1447.9 850.9,1454.9 851.7,1449.8 852.5,1452.4 853.4,1452.4 854.2,1448.4 855,1445.7 855.8,1450.6 856.6,1454.1 857.4,1447.8 858.2,1446.4 859.1,1449.8 859.9,1448.3 860.7,1449.9 861.5,1449.5 862.3,1449.1 863.1,1444.5 863.9,1442.7 864.8,1448 865.6,1447.8 866.4,1448.5 867.2,1446.7 868,1448.5 868.8,1449.8 869.6,1449.3 870.5,1446.8 871.3,1442 872.1,1443.1 872.9,1443.2 873.7,1441.7 874.5,1448.1 875.3,1451.9 876.2,1448.3 877,1456.2 877.8,1454.5 878.6,1452.4 879.4,1455.6 880.2,1461.3 881,1459.9 881.9,1457.1 882.7,1450 883.5,1444.7 884.3,1442.4 885.1,1448.8 885.9,1450.3 886.8,1443.2 887.6,1448 888.4,1447.2 889.2,1445.1 890,1437.3 890.8,1444.9 891.6,1439.4 892.5,1447.3 893.3,1442.8 894.1,1450 894.9,1445 895.7,1444.3 896.5,1447.7 897.3,1450.6 898.2,1450.6 899,1446.9 899.8,1453.9 900.6,1443 901.4,1451.4 902.2,1451.5 903,1456.9 903.9,1447.9 904.7,1444.4 905.5,1442.6 906.3,1442.6 907.1,1452.8 907.9,1448.5 908.7,1446.8 909.6,1439 910.4,1445.3 911.2,1443.8 912,1442.7 912.8,1442.5 913.6,1448.2 914.4,1442 915.3,1448.1 916.1,1446.6 916.9,1453.4 917.7,1453.8 918.5,1452.6 919.3,1446.6 920.1,1452.8 921,1449.9 921.8,1446.5 922.6,1448.7 923.4,1450.8 924.2,1454.2 925,1447.8 925.8,1450.8 926.7,1452.1 927.5,1450.1 928.3,1452.5 929.1,1451.7 929.9,1437 930.7,1444.4 931.5,1458.1 932.4,1445.8 933.2,1452.3 934,1453.1 934.8,1444.9 935.6,1436.2 936.4,1440.2 937.2,1435.7 938.1,1434.8 938.9,1433 939.7,1434.2 940.5,1428.1 941.3,1437.8 942.1,1432.5 942.9,1432.8 943.8,1426.7 944.6,1417.3 945.4,1428.9 946.2,1423.8 947,1416 947.8,1419.6 948.7,1415.3 949.5,1412.3" fill="none" stroke="#ee3f45" stroke-width="2.6" stroke-linejoin="round" clip-path="url(#clipf)"/>
<polyline points="96.7,1462.1 97.5,1480.2 98.3,1497.3 99.1,1515.4 100,1530.7 100.8,1535.4 101.6,1539.4 102.4,1542.5 103.2,1547 104,1547.4 104.8,1551.7 105.7,1555.6 106.5,1557.9 107.3,1561.4 108.1,1553.8 108.9,1546 109.7,1537.6 110.5,1529.1 111.4,1520.6 112.2,1513.5 113,1507.4 113.8,1500.5 114.6,1495.4 115.4,1495.1 116.2,1493.5 117.1,1489.7 117.9,1490.6 118.7,1488.2 119.5,1485.8 120.3,1483.4 121.1,1484.7 121.9,1482.5 122.8,1482.2 123.6,1482 124.4,1481.3 125.2,1480.5 126,1480.6 126.8,1478.4 127.7,1479.5 128.5,1482.3 129.3,1482.4 130.1,1481.2 130.9,1481.8 131.7,1481.6 132.5,1483.3 133.4,1484.3 134.2,1486.3 135,1487.1 135.8,1488.4 136.6,1492 137.4,1497.3 138.2,1505.3 139.1,1515.2 139.9,1533.4 140.7,1522.7 141.5,1507.7 142.3,1499.5 143.1,1489.3 143.9,1483.8 144.8,1483.9 145.6,1484 146.4,1482.8 147.2,1483.4 148,1480.5 148.8,1482.7 149.6,1480.3 150.5,1479.5 151.3,1480.4 152.1,1480.3 152.9,1482.1 153.7,1482.5 154.5,1485 155.3,1486.2 156.2,1486.4 157,1486.6 157.8,1486.7 158.6,1489.6 159.4,1489.9 160.2,1490.9 161,1490.3 161.9,1492.4 162.7,1491.8 163.5,1494.6 164.3,1496.3 165.1,1497.6 165.9,1500 166.7,1502.2 167.6,1501.6 168.4,1503.1 169.2,1501.7 170,1504.7 170.8,1505.6 171.6,1508.1 172.4,1510.4 173.3,1513.7 174.1,1515.5 174.9,1515 175.7,1518.8 176.5,1520.8 177.3,1523.4 178.1,1529.8 179,1535.2 179.8,1538.5 180.6,1545 181.4,1549.3 182.2,1552.8 183,1553.2 183.8,1546.9 184.7,1541.4 185.5,1537.2 186.3,1529.7 187.1,1523.4 187.9,1514.6 188.7,1506.1 189.6,1500.1 190.4,1494.4 191.2,1492.9 192,1490.5 192.8,1487.7 193.6,1486.8 194.4,1482.7 195.3,1480.4 196.1,1478.4 196.9,1478.3 197.7,1477.9 198.5,1475.9 199.3,1474.6 200.1,1474 201,1473.4 201.8,1472.5 202.6,1472.2 203.4,1470.5 204.2,1471.8 205,1469.4 205.8,1468.5 206.7,1468.9 207.5,1464.1 208.3,1466.6 209.1,1466 209.9,1466.8 210.7,1464.9 211.5,1464.4 212.4,1463 213.2,1464 214,1461.9 214.8,1463.7 215.6,1461.9 216.4,1463 217.2,1460.8 218.1,1459.6 218.9,1461.2 219.7,1458.5 220.5,1458.2 221.3,1459.6 222.1,1458.5 222.9,1457.5 223.8,1456 224.6,1454.6 225.4,1456 226.2,1455.8 227,1454.6 227.8,1456.2 228.6,1452.6 229.5,1452.6 230.3,1452.1 231.1,1449.9 231.9,1450.9 232.7,1450.7 233.5,1448.4 234.3,1449.2 235.2,1448.1 236,1447.8 236.8,1447 237.6,1446.1 238.4,1445.4 239.2,1446.2 240,1443.3 240.9,1444.3 241.7,1443.7 242.5,1441.9 243.3,1442.5 244.1,1441 244.9,1439.8 245.8,1439.4 246.6,1440 247.4,1438.1 248.2,1438.6 249,1438.5 249.8,1438.1 250.6,1436.8 251.5,1437.5 252.3,1435.4 253.1,1435.6 253.9,1435.5 254.7,1434.8 255.5,1434.7 256.3,1436.1 257.2,1432.8 258,1436.2 258.8,1434.4 259.6,1436.1 260.4,1434.3 261.2,1434.2 262,1434.9 262.9,1432.8 263.7,1433 264.5,1432.8 265.3,1433.5 266.1,1431 266.9,1432.3 267.7,1431.1 268.6,1432.9 269.4,1430 270.2,1431.4 271,1429.9 271.8,1430.9 272.6,1430.3 273.4,1429.6 274.3,1429.8 275.1,1427.5 275.9,1429.5 276.7,1429.4 277.5,1428 278.3,1428.7 279.1,1429.6 280,1428.9 280.8,1427.8 281.6,1428.3 282.4,1427.1 283.2,1429.2 284,1427.6 284.8,1428.5 285.7,1428 286.5,1428.1 287.3,1428.2 288.1,1425 288.9,1427 289.7,1426.2 290.5,1426.5 291.4,1424.9 292.2,1427.1 293,1427.6 293.8,1425.7 294.6,1427 295.4,1424.6 296.2,1426.7 297.1,1426 297.9,1425 298.7,1426.5 299.5,1425.6 300.3,1424.9 301.1,1426.4 302,1425 302.8,1426.1 303.6,1424.8 304.4,1423 305.2,1423.1 306,1424.4 306.8,1424.3 307.7,1424.6 308.5,1423.1 309.3,1423 310.1,1424.8 310.9,1424.3 311.7,1424.4 312.5,1423 313.4,1422.8 314.2,1422.8 315,1422.4 315.8,1422.4 316.6,1422.9 317.4,1422.3 318.2,1423.3 319.1,1422.1 319.9,1421.8 320.7,1424.7 321.5,1421.2 322.3,1422.7 323.1,1421.9 323.9,1422.5 324.8,1421.1 325.6,1422.5 326.4,1422.1 327.2,1422.9 328,1422.4 328.8,1422 329.6,1423.2 330.5,1422.5 331.3,1422.8 332.1,1422.2 332.9,1421.3 333.7,1422 334.5,1420.9 335.3,1422.7 336.2,1422.4 337,1422.2 337.8,1422.8 338.6,1421.6 339.4,1422.6 340.2,1422.6 341,1421.6 341.9,1422.6 342.7,1421.8 343.5,1421.9 344.3,1420.7 345.1,1420.4 345.9,1421.2 346.7,1422.3 347.6,1420.8 348.4,1419.3 349.2,1421.9 350,1421.8 350.8,1420.4 351.6,1421.7 352.4,1422 353.3,1420.6 354.1,1422.5 354.9,1420.8 355.7,1422.5 356.5,1421.2 357.3,1421.8 358.1,1422.5 359,1421 359.8,1423.1 360.6,1421.3 361.4,1422 362.2,1420.8 363,1423 363.9,1421 364.7,1419.9 365.5,1422.4 366.3,1421.9 367.1,1421 367.9,1418.5 368.7,1421.7 369.6,1422.6 370.4,1421.7 371.2,1422.1 372,1422.4 372.8,1423.2 373.6,1420.6 374.4,1423.5 375.3,1422.2 376.1,1423.8 376.9,1424.2 377.7,1421.5 378.5,1423.4 379.3,1421.4 380.1,1422.1 381,1423 381.8,1421.5 382.6,1423.5 383.4,1421.4 384.2,1421.1 385,1423.4 385.8,1422 386.7,1420.7 387.5,1421.9 388.3,1423.4 389.1,1421.3 389.9,1422.2 390.7,1422 391.5,1423.5 392.4,1422 393.2,1422.1 394,1423.4 394.8,1421.9 395.6,1422.7 396.4,1421.6 397.2,1421.7 398.1,1423.2 398.9,1423.7 399.7,1421.2 400.5,1421.9 401.3,1423.1 402.1,1421.5 402.9,1422 403.8,1422.1 404.6,1423 405.4,1423.1 406.2,1421.3 407,1422.6 407.8,1422.7 408.6,1421.8 409.5,1423.3 410.3,1422.4 411.1,1422.2 411.9,1419.6 412.7,1423.6 413.5,1422.1 414.3,1422.6 415.2,1423.5 416,1419.9 416.8,1420.3 417.6,1422.2 418.4,1422 419.2,1421.9 420.1,1421.7 420.9,1421.9 421.7,1421.2 422.5,1420.4 423.3,1421 424.1,1420.4 424.9,1422.6 425.8,1419.7 426.6,1421.8 427.4,1422 428.2,1421.9 429,1420.5 429.8,1421 430.6,1422 431.5,1421 432.3,1418.8 433.1,1420.5 433.9,1421 434.7,1421.4 435.5,1420.2 436.3,1421.5 437.2,1420.6 438,1421.6 438.8,1419.6 439.6,1421.1 440.4,1418.9 441.2,1419.3 442,1420 442.9,1418.8 443.7,1418.6 444.5,1420.6 445.3,1418.3 446.1,1419.1 446.9,1418.8 447.7,1420 448.6,1419.7 449.4,1418.6 450.2,1419.9 451,1419.6 451.8,1418.7 452.6,1420.5 453.4,1420.8 454.3,1418.3 455.1,1418.4 455.9,1417.5 456.7,1418.5 457.5,1419.9 458.3,1418.3 459.1,1418.3 460,1418 460.8,1418.2 461.6,1418.1 462.4,1417.9 463.2,1419.4 464,1418.2 464.8,1420.1 465.7,1420 466.5,1419 467.3,1420.8 468.1,1421.9 468.9,1421.6 469.7,1416.3 470.5,1416.1 471.4,1425.5 472.2,1423.5 473,1424.5 473.8,1417.9 474.6,1416.8 475.4,1424.7 476.3,1420.9 477.1,1416 477.9,1423.4 478.7,1424.3 479.5,1422.6 480.3,1428.9 481.1,1422.9 482,1429.8 482.8,1421.7 483.6,1423.8 484.4,1417 485.2,1421.9 486,1428.1 486.8,1429.7 487.7,1427.5 488.5,1430.1 489.3,1435.2 490.1,1422 490.9,1425.2 491.7,1430.9 492.5,1434.1 493.4,1433.4 494.2,1427.8 495,1433.3 495.8,1430.7 496.6,1428.2 497.4,1430.2 498.2,1429.7 499.1,1435.8 499.9,1438.3 500.7,1437.2 501.5,1428.2 502.3,1435 503.1,1433.2 503.9,1444.2 504.8,1434.6 505.6,1437.9 506.4,1442.4 507.2,1440.5 508,1441.5 508.8,1443.2 509.6,1443.3 510.5,1441.7 511.3,1444.3 512.1,1448.9 512.9,1450.4 513.7,1446.9 514.5,1453.1 515.3,1460.1 516.2,1458.3 517,1449.3 517.8,1450.9 518.6,1456.2 519.4,1446 520.2,1448.8 521,1450.1 521.9,1441.5 522.7,1445.1 523.5,1455 524.3,1451.8 525.1,1446.4 525.9,1453.1 526.7,1459.8 527.6,1457.8 528.4,1459.8 529.2,1457.7 530,1448.1 530.8,1454.3 531.6,1462.4 532.4,1460.4 533.3,1446.1 534.1,1450.6 534.9,1452.7 535.7,1454.2 536.5,1456.7 537.3,1457.5 538.2,1455.8 539,1458.7 539.8,1460.3 540.6,1460.6 541.4,1462.4 542.2,1461.2 543,1460.4 543.9,1466 544.7,1457.9 545.5,1464.7 546.3,1460.3 547.1,1464 547.9,1460.4 548.7,1471.6 549.6,1473.3 550.4,1468 551.2,1474.2 552,1466.9 552.8,1471.8 553.6,1463.2 554.4,1470 555.3,1474 556.1,1471.9 556.9,1476.6 557.7,1479.9 558.5,1465.7 559.3,1473 560.1,1480.9 561,1477.4 561.8,1484.9 562.6,1477 563.4,1478.3 564.2,1478.4 565,1482.6 565.8,1474.8 566.7,1471.6 567.5,1473.4 568.3,1478.3 569.1,1473.4 569.9,1474.8 570.7,1479.9 571.5,1471 572.4,1475.1 573.2,1466.5 574,1474.6 574.8,1469.4 575.6,1468.5 576.4,1466.2 577.2,1477.2 578.1,1470.4 578.9,1471.7 579.7,1467.4 580.5,1462.8 581.3,1462.9 582.1,1471.3 582.9,1468 583.8,1464 584.6,1464 585.4,1465.2 586.2,1463.1 587,1460.1 587.8,1464.9 588.6,1463.8 589.5,1464.4 590.3,1465 591.1,1462.5 591.9,1465.2 592.7,1462.2 593.5,1474.3 594.4,1473.2 595.2,1469.5 596,1468.6 596.8,1473.8 597.6,1475.1 598.4,1466.1 599.2,1464.8 600.1,1472 600.9,1468.8 601.7,1467.7 602.5,1475.5 603.3,1474.2 604.1,1478.9 604.9,1467.8 605.8,1475.9 606.6,1474.1 607.4,1480 608.2,1475.3 609,1468.8 609.8,1463.9 610.6,1471.9 611.5,1468 612.3,1462.2 613.1,1468.1 613.9,1459.8 614.7,1455.5 615.5,1461.1 616.3,1464.3 617.2,1456.5 618,1454.6 618.8,1459.8 619.6,1459.4 620.4,1459.9 621.2,1462.3 622,1459.8 622.9,1456.6 623.7,1461.3 624.5,1453.2 625.3,1453.4 626.1,1455.4 626.9,1453.6 627.7,1457.4 628.6,1455.2 629.4,1456.3 630.2,1462.2 631,1457.1 631.8,1449 632.6,1449.8 633.4,1455.4 634.3,1453.7 635.1,1449.9 635.9,1447.4 636.7,1450.4 637.5,1446.5 638.3,1449.8 639.1,1443.7 640,1441 640.8,1446 641.6,1449.3 642.4,1448 643.2,1446.5 644,1445.3 644.8,1442.6 645.7,1440.4 646.5,1452.8 647.3,1447.2 648.1,1442 648.9,1451.7 649.7,1443.6 650.5,1440.2 651.4,1445.6 652.2,1441.1 653,1444.6 653.8,1448.9 654.6,1447.3 655.4,1448.8 656.3,1449.1 657.1,1442.8 657.9,1452.1 658.7,1449.1 659.5,1451.3 660.3,1447.8 661.1,1445.2 662,1442 662.8,1455.6 663.6,1443.3 664.4,1436.7 665.2,1439.7 666,1444.1 666.8,1443.1 667.7,1436.5 668.5,1445.7 669.3,1442.3 670.1,1445.5 670.9,1438.9 671.7,1446.9 672.5,1433.5 673.4,1440.4 674.2,1432.4 675,1442.1 675.8,1440.4 676.6,1438.5 677.4,1440 678.2,1439.6 679.1,1442.4 679.9,1436.9 680.7,1442.2 681.5,1438 682.3,1444.4 683.1,1440.1 683.9,1440 684.8,1438.9 685.6,1440.6 686.4,1439.4 687.2,1437.9 688,1441.6 688.8,1443.2 689.6,1440.8 690.5,1444.5 691.3,1440.6 692.1,1435.2 692.9,1439.7 693.7,1440.4 694.5,1438.6 695.3,1440.9 696.2,1441.2 697,1442.4 697.8,1444.6 698.6,1440.3 699.4,1439.5 700.2,1435.2 701,1443.4 701.9,1442.2 702.7,1449.6 703.5,1455.3 704.3,1448 705.1,1455.1 705.9,1446.4 706.7,1450.4 707.6,1449.7 708.4,1459.7 709.2,1462.1 710,1458.2 710.8,1468.4 711.6,1459.1 712.5,1454.9 713.3,1471.6 714.1,1466.3 714.9,1469 715.7,1467.2 716.5,1473 717.3,1468.7 718.2,1479.9 719,1474 719.8,1467.5 720.6,1469.5 721.4,1473.1 722.2,1466.8 723,1466.1 723.9,1466.1 724.7,1472.3 725.5,1471.6 726.3,1466 727.1,1460.9 727.9,1470.9 728.7,1463 729.6,1460.2 730.4,1458.3 731.2,1463.1 732,1463.6 732.8,1466 733.6,1457.6 734.4,1460.7 735.3,1454.1 736.1,1459.7 736.9,1460.1 737.7,1458.6 738.5,1450.4 739.3,1454.6 740.1,1450.4 741,1454.4 741.8,1451.4 742.6,1445.7 743.4,1442.8 744.2,1441.7 745,1441 745.8,1445 746.7,1436.4 747.5,1448.4 748.3,1442.9 749.1,1440.7 749.9,1440.5 750.7,1440.4 751.5,1435.8 752.4,1434.5 753.2,1441.9 754,1431.5 754.8,1435.8 755.6,1434.3 756.4,1430.9 757.2,1439.6 758.1,1430.8 758.9,1442.7 759.7,1439.4 760.5,1442.3 761.3,1439.3 762.1,1442 762.9,1434.5 763.8,1442.7 764.6,1435.7 765.4,1438.2 766.2,1438.7 767,1432.8 767.8,1431.8 768.7,1435.8 769.5,1434.5 770.3,1442.9 771.1,1450.1 771.9,1444.7 772.7,1440.3 773.5,1446.5 774.4,1438.6 775.2,1439 776,1438.6 776.8,1439.7 777.6,1439.4 778.4,1432.2 779.2,1445.6 780.1,1441 780.9,1439.5 781.7,1443.3 782.5,1452.8 783.3,1447.9 784.1,1447.2 784.9,1450.6 785.8,1450.3 786.6,1453.6 787.4,1452.4 788.2,1462.6 789,1461.6 789.8,1457.5 790.6,1460.5 791.5,1462.5 792.3,1454.7 793.1,1467.4 793.9,1465.4 794.7,1470.3 795.5,1463.5 796.3,1457.7 797.2,1467.8 798,1477.9 798.8,1475.7 799.6,1473.8 800.4,1474.7 801.2,1473.7 802,1468.5 802.9,1465.5 803.7,1470 804.5,1475.8 805.3,1476.1 806.1,1465 806.9,1466 807.7,1460.6 808.6,1465.9 809.4,1464.6 810.2,1462.7 811,1459.9 811.8,1462.9 812.6,1463.8 813.4,1462.3 814.3,1467.4 815.1,1461.7 815.9,1462.4 816.7,1454.5 817.5,1456.3 818.3,1458.9 819.1,1445.6 820,1456.7 820.8,1450.4 821.6,1449.8 822.4,1443.8 823.2,1448.7 824,1440.8 824.8,1440.8 825.7,1444 826.5,1437.7 827.3,1438.3 828.1,1444.3 828.9,1433.1 829.7,1438.3 830.6,1438.3 831.4,1437.3 832.2,1447.8 833,1450.7 833.8,1436.5 834.6,1443.5 835.4,1446.7 836.3,1435 837.1,1437.7 837.9,1440.8 838.7,1441.3 839.5,1439.9 840.3,1440.7 841.1,1444.5 842,1446.9 842.8,1442.3 843.6,1454.5 844.4,1452.1 845.2,1432.3 846,1439.8 846.8,1440.8 847.7,1442.3 848.5,1445.3 849.3,1441.7 850.1,1440.5 850.9,1433.7 851.7,1444.4 852.5,1445.9 853.4,1448.1 854.2,1445 855,1454.5 855.8,1449.7 856.6,1447.5 857.4,1447.1 858.2,1441.2 859.1,1447.1 859.9,1443.5 860.7,1434.2 861.5,1442.9 862.3,1435.4 863.1,1434.1 863.9,1437.6 864.8,1441.5 865.6,1439.2 866.4,1443.4 867.2,1445.6 868,1449.6 868.8,1441.6 869.6,1446.7 870.5,1446.3 871.3,1452.6 872.1,1439.6 872.9,1446.2 873.7,1445.3 874.5,1449.3 875.3,1452.7 876.2,1445.1 877,1442.8 877.8,1445.8 878.6,1443.7 879.4,1446.3 880.2,1446.9 881,1447.3 881.9,1441.5 882.7,1447.1 883.5,1450.2 884.3,1443.3 885.1,1443.2 885.9,1439 886.8,1437.9 887.6,1446.4 888.4,1438.5 889.2,1438.8 890,1439.3 890.8,1445.7 891.6,1440.3 892.5,1437.5 893.3,1443.6 894.1,1437.3 894.9,1440.9 895.7,1436.4 896.5,1440.1 897.3,1430.5 898.2,1432.9 899,1444.4 899.8,1445.4 900.6,1442.2 901.4,1437.1 902.2,1438.9 903,1443.3 903.9,1440.2 904.7,1438.9 905.5,1430.3 906.3,1435.9 907.1,1434.8 907.9,1432.4 908.7,1440.1 909.6,1432.1 910.4,1437.9 911.2,1439.9 912,1442.2 912.8,1448 913.6,1439.2 914.4,1440.1 915.3,1445.2 916.1,1447.1 916.9,1443.4 917.7,1434.3 918.5,1437.5 919.3,1436 920.1,1442.8 921,1438.3 921.8,1439.9 922.6,1444 923.4,1446.2 924.2,1442.7 925,1443.6 925.8,1443 926.7,1444.7 927.5,1449.3 928.3,1447.5 929.1,1445 929.9,1438.3 930.7,1445.6 931.5,1449.6 932.4,1442.4 933.2,1445.8 934,1444.7 934.8,1441.7 935.6,1448.1 936.4,1440.6 937.2,1442.1 938.1,1441.2 938.9,1435.6 939.7,1444.1 940.5,1439.8 941.3,1433.9 942.1,1430.3 942.9,1433.7 943.8,1439.7 944.6,1428 945.4,1436 946.2,1426.7 947,1431 947.8,1432.5 948.7,1430.6 949.5,1422" fill="none" stroke="#1f6fe0" stroke-width="2.6" stroke-linejoin="round" clip-path="url(#clipf)"/>
<polyline points="96.7,1328.8 97.5,1328.9 98.3,1328.6 99.1,1329 100,1328.3 100.8,1328.3 101.6,1328.5 102.4,1328.9 103.2,1328.7 104,1329.4 104.8,1329.2 105.7,1329.6 106.5,1329.1 107.3,1328.9 108.1,1329.5 108.9,1328.8 109.7,1329 110.5,1328.8 111.4,1328.9 112.2,1329.5 113,1329.5 113.8,1329.3 114.6,1328.5 115.4,1328.6 116.2,1328.5 117.1,1328.9 117.9,1328.8 118.7,1329.1 119.5,1328.5 120.3,1329.2 121.1,1329.3 121.9,1329.5 122.8,1329.4 123.6,1329.3 124.4,1329.1 125.2,1329.3 126,1329.4 126.8,1329.3 127.7,1329.5 128.5,1329.1 129.3,1329.9 130.1,1330 130.9,1330.6 131.7,1330.8 132.5,1330 133.4,1329.8 134.2,1329.8 135,1329.6 135.8,1329.5 136.6,1329.7 137.4,1329.4 138.2,1329.6 139.1,1329.8 139.9,1329.3 140.7,1328.9 141.5,1329.4 142.3,1330 143.1,1329.9 143.9,1329.5 144.8,1330 145.6,1329.1 146.4,1329.2 147.2,1329.8 148,1329.2 148.8,1329.5 149.6,1329.1 150.5,1329.1 151.3,1328.8 152.1,1329.1 152.9,1329.3 153.7,1328.7 154.5,1328.1 155.3,1328.6 156.2,1328.9 157,1328.3 157.8,1328.3 158.6,1328.6 159.4,1328.4 160.2,1328.1 161,1327.7 161.9,1327.6 162.7,1327.2 163.5,1327.3 164.3,1327.7 165.1,1327.4 165.9,1328.1 166.7,1327.9 167.6,1327.8 168.4,1327.9 169.2,1327.8 170,1327.6 170.8,1327.8 171.6,1327.9 172.4,1327.4 173.3,1327.2 174.1,1327 174.9,1327.4 175.7,1327.4 176.5,1328.3 177.3,1327.7 178.1,1327.5 179,1327.9 179.8,1327.7 180.6,1327.8 181.4,1328 182.2,1328.1 183,1328.7 183.8,1328 184.7,1328 185.5,1327.9 186.3,1327.4 187.1,1327.4 187.9,1327.3 188.7,1327.2 189.6,1327 190.4,1327 191.2,1327.4 192,1327 192.8,1327.6 193.6,1327.5 194.4,1327.9 195.3,1327.8 196.1,1327.6 196.9,1327.7 197.7,1328 198.5,1328.3 199.3,1327.8 200.1,1328 201,1327.9 201.8,1328.4 202.6,1328.5 203.4,1328.3 204.2,1328.3 205,1328.3 205.8,1328.8 206.7,1329 207.5,1329.8 208.3,1329.3 209.1,1328.6 209.9,1329.7 210.7,1329.6 211.5,1329.1 212.4,1329.3 213.2,1329.6 214,1329.8 214.8,1330.4 215.6,1329.9 216.4,1329.4 217.2,1329.7 218.1,1329.6 218.9,1329.8 219.7,1329.3 220.5,1330 221.3,1330.2 222.1,1329.9 222.9,1330.4 223.8,1330 224.6,1329.7 225.4,1329.6 226.2,1330 227,1330 227.8,1330.6 228.6,1330.7 229.5,1331.4 230.3,1331.2 231.1,1331.9 231.9,1331.3 232.7,1331.2 233.5,1331.3 234.3,1331.5 235.2,1332 236,1331.8 236.8,1331.6 237.6,1331.1 238.4,1332 239.2,1331.9 240,1331.9 240.9,1331.9 241.7,1332.6 242.5,1332.1 243.3,1332.2 244.1,1332.3 244.9,1331.7 245.8,1331.9 246.6,1331.5 247.4,1332.1 248.2,1332.3 249,1332.2 249.8,1333 250.6,1333 251.5,1332.2 252.3,1333.4 253.1,1332.6 253.9,1332.7 254.7,1332.6 255.5,1333 256.3,1332.2 257.2,1333 258,1333.1 258.8,1333.2 259.6,1333.4 260.4,1333.5 261.2,1333 262,1333.9 262.9,1334.2 263.7,1333.7 264.5,1334.4 265.3,1334 266.1,1334.3 266.9,1334.2 267.7,1334.1 268.6,1334.1 269.4,1333.8 270.2,1334.7 271,1334.8 271.8,1334.5 272.6,1334.7 273.4,1334.8 274.3,1334.8 275.1,1335.6 275.9,1335.2 276.7,1335.3 277.5,1334.7 278.3,1334.8 279.1,1335.2 280,1335 280.8,1335.6 281.6,1335.5 282.4,1335.2 283.2,1335.2 284,1334.6 284.8,1335.2 285.7,1335.3 286.5,1335.8 287.3,1335.4 288.1,1335.8 288.9,1335.6 289.7,1335.6 290.5,1335.8 291.4,1335.3 292.2,1335.4 293,1335.7 293.8,1335.5 294.6,1335.5 295.4,1336.1 296.2,1335.6 297.1,1335.7 297.9,1336 298.7,1335.2 299.5,1335.3 300.3,1335.1 301.1,1335.6 302,1336 302.8,1335.9 303.6,1335.8 304.4,1335.9 305.2,1335.5 306,1335.7 306.8,1336.6 307.7,1336.3 308.5,1336.6 309.3,1336.9 310.1,1336.3 310.9,1336.6 311.7,1337.5 312.5,1337.6 313.4,1336.9 314.2,1336.7 315,1336.6 315.8,1336.3 316.6,1336.2 317.4,1336.2 318.2,1336.1 319.1,1336.3 319.9,1336.4 320.7,1335.8 321.5,1336.2 322.3,1336.2 323.1,1336.4 323.9,1336.5 324.8,1336.5 325.6,1336.9 326.4,1336.9 327.2,1337.2 328,1336.9 328.8,1336.5 329.6,1336.5 330.5,1336.4 331.3,1336.6 332.1,1336.8 332.9,1336.8 333.7,1336.3 334.5,1336.5 335.3,1336.6 336.2,1336.6 337,1336.6 337.8,1336.8 338.6,1336.7 339.4,1337.2 340.2,1337 341,1336.7 341.9,1336.5 342.7,1336.3 343.5,1336.4 344.3,1336.8 345.1,1336.5 345.9,1336.6 346.7,1336.7 347.6,1336.1 348.4,1336.3 349.2,1337.3 350,1336.8 350.8,1337 351.6,1336.5 352.4,1336.6 353.3,1337.1 354.1,1337 354.9,1337.3 355.7,1336.7 356.5,1336.7 357.3,1336.3 358.1,1336.6 359,1336.9 359.8,1336.8 360.6,1336.3 361.4,1337 362.2,1336.3 363,1335.5 363.9,1335.7 364.7,1335.8 365.5,1335.8 366.3,1335.5 367.1,1335.5 367.9,1336.5 368.7,1336.5 369.6,1337.1 370.4,1336.8 371.2,1336.9 372,1337.4 372.8,1337 373.6,1337 374.4,1336.7 375.3,1336.8 376.1,1336.1 376.9,1336 377.7,1335.7 378.5,1335.6 379.3,1335.5 380.1,1336.1 381,1336 381.8,1335.4 382.6,1335.2 383.4,1335.2 384.2,1335.6 385,1335.6 385.8,1335 386.7,1335.2 387.5,1335.5 388.3,1335.7 389.1,1335.5 389.9,1335.2 390.7,1335.3 391.5,1335.4 392.4,1335.3 393.2,1334.8 394,1335.5 394.8,1335.4 395.6,1335.3 396.4,1335.2 397.2,1335.8 398.1,1335.4 398.9,1335.2 399.7,1335.4 400.5,1335.2 401.3,1335.8 402.1,1335.6 402.9,1335.3 403.8,1335.2 404.6,1335.1 405.4,1335.4 406.2,1335 407,1334.3 407.8,1334.3 408.6,1334.3 409.5,1334.6 410.3,1334.8 411.1,1335.4 411.9,1334.5 412.7,1334.6 413.5,1334.5 414.3,1334.3 415.2,1335.3 416,1334.8 416.8,1334.9 417.6,1334.6 418.4,1334.3 419.2,1334.2 420.1,1334.1 420.9,1334.1 421.7,1333.5 422.5,1334.4 423.3,1334.3 424.1,1334 424.9,1334.4 425.8,1334.8 426.6,1334.4 427.4,1334.2 428.2,1334.4 429,1334.3 429.8,1334.4 430.6,1334.5 431.5,1333.6 432.3,1333.8 433.1,1333.4 433.9,1333.4 434.7,1333.5 435.5,1333.3 436.3,1333.4 437.2,1333.4 438,1334.5 438.8,1333.9 439.6,1334 440.4,1333.5 441.2,1333.1 442,1333.3 442.9,1333.5 443.7,1333.8 444.5,1333.8 445.3,1334.2 446.1,1334.2 446.9,1334.7 447.7,1334.4 448.6,1334.1 449.4,1334.3 450.2,1334.6 451,1334.2 451.8,1334.4 452.6,1333.7 453.4,1334 454.3,1334.4 455.1,1334.7 455.9,1334 456.7,1334 457.5,1334.3 458.3,1334.1 459.1,1333.8 460,1333.9 460.8,1334.1 461.6,1333.6 462.4,1333.8 463.2,1333.8 464,1333.6 464.8,1334.1 465.7,1334.7 466.5,1334.4 467.3,1334.5 468.1,1334.6 468.9,1334.5 469.7,1334.6 470.5,1334.9 471.4,1334.8 472.2,1335.5 473,1335 473.8,1335.2 474.6,1335.3 475.4,1335 476.3,1334.8 477.1,1334.5 477.9,1334.3 478.7,1334.1 479.5,1334.7 480.3,1334.2 481.1,1335 482,1334.4 482.8,1334.7 483.6,1334.5 484.4,1334.8 485.2,1334.9 486,1334.6 486.8,1334.7 487.7,1334.6 488.5,1333.8 489.3,1334.2 490.1,1333.4 490.9,1333.9 491.7,1334.2 492.5,1333.9 493.4,1334.3 494.2,1334.8 495,1335.1 495.8,1334.7 496.6,1334.5 497.4,1334.4 498.2,1334.4 499.1,1334.7 499.9,1334.6 500.7,1334.4 501.5,1334.8 502.3,1335.1 503.1,1334.8 503.9,1334.5 504.8,1333.8 505.6,1335 506.4,1334.5 507.2,1334.4 508,1334.5 508.8,1335.1 509.6,1334.6 510.5,1334.3 511.3,1334 512.1,1334.9 512.9,1334.9 513.7,1335.1 514.5,1335.2 515.3,1335.4 516.2,1335.3 517,1335.4 517.8,1335.6 518.6,1336.1 519.4,1335.9 520.2,1335.8 521,1335.3 521.9,1335.3 522.7,1335.3 523.5,1335.9 524.3,1336.1 525.1,1336.2 525.9,1336.6 526.7,1336.2 527.6,1336.4 528.4,1336.5 529.2,1336.1 530,1337.1 530.8,1336.6 531.6,1337.1 532.4,1337.1 533.3,1336.9 534.1,1336.9 534.9,1336.3 535.7,1336.3 536.5,1336.4 537.3,1336.4 538.2,1335.6 539,1335.9 539.8,1336.1 540.6,1335.5 541.4,1335.7 542.2,1336 543,1335.2 543.9,1335.4 544.7,1335.1 545.5,1335.5 546.3,1335.9 547.1,1336 547.9,1336 548.7,1336 549.6,1336.2 550.4,1336.4 551.2,1336.1 552,1336.3 552.8,1336.2 553.6,1336.3 554.4,1336 555.3,1336.1 556.1,1337 556.9,1336.1 557.7,1336.7 558.5,1336.4 559.3,1336.5 560.1,1337.4 561,1337.7 561.8,1336.8 562.6,1337.4 563.4,1337.2 564.2,1337.1 565,1337.1 565.8,1337 566.7,1337.3 567.5,1337.2 568.3,1336.8 569.1,1336.6 569.9,1337.1 570.7,1337.4 571.5,1337 572.4,1336.9 573.2,1336.7 574,1336.6 574.8,1336.2 575.6,1336.6 576.4,1336.7 577.2,1336.6 578.1,1336.1 578.9,1336.6 579.7,1336.3 580.5,1336 581.3,1335.6 582.1,1336.1 582.9,1336.1 583.8,1335.7 584.6,1335.7 585.4,1335.6 586.2,1335.2 587,1335.7 587.8,1335 588.6,1334.8 589.5,1335 590.3,1334.4 591.1,1333.9 591.9,1334.4 592.7,1334.5 593.5,1334.5 594.4,1333.5 595.2,1334.6 596,1334.4 596.8,1334.1 597.6,1333.4 598.4,1333.8 599.2,1333.3 600.1,1333.2 600.9,1332.7 601.7,1332.8 602.5,1332.5 603.3,1332.6 604.1,1333 604.9,1333 605.8,1333.4 606.6,1332.8 607.4,1333.7 608.2,1333.1 609,1333.3 609.8,1333.7 610.6,1334.2 611.5,1334.4 612.3,1335 613.1,1334.9 613.9,1335.2 614.7,1335.3 615.5,1335 616.3,1335.6 617.2,1335.1 618,1335.4 618.8,1335.9 619.6,1335.8 620.4,1336.1 621.2,1335.8 622,1336.1 622.9,1336.5 623.7,1336.1 624.5,1336.1 625.3,1336.5 626.1,1336 626.9,1335.7 627.7,1335.3 628.6,1335 629.4,1334.9 630.2,1334.9 631,1335.3 631.8,1335.3 632.6,1335.6 633.4,1335.5 634.3,1335.6 635.1,1335.7 635.9,1335.7 636.7,1335.6 637.5,1335.3 638.3,1336.1 639.1,1336.4 640,1336.1 640.8,1336.5 641.6,1335.8 642.4,1335.8 643.2,1335.8 644,1335.7 644.8,1335.6 645.7,1335.6 646.5,1335 647.3,1335.2 648.1,1335.9 648.9,1335.6 649.7,1335.5 650.5,1336.2 651.4,1335.1 652.2,1335.7 653,1336.7 653.8,1336.5 654.6,1336 655.4,1336.6 656.3,1337.4 657.1,1337.3 657.9,1336.9 658.7,1336.8 659.5,1337.2 660.3,1336.8 661.1,1336.6 662,1337.1 662.8,1337.6 663.6,1337.7 664.4,1337.2 665.2,1337.7 666,1337.9 666.8,1338.2 667.7,1338.5 668.5,1338.5 669.3,1338 670.1,1337.9 670.9,1338.1 671.7,1338.7 672.5,1338.2 673.4,1338.1 674.2,1338.6 675,1338.7 675.8,1338.7 676.6,1339 677.4,1338.9 678.2,1339 679.1,1339.3 679.9,1339.3 680.7,1339.1 681.5,1338.9 682.3,1338.9 683.1,1338.8 683.9,1338.7 684.8,1339.1 685.6,1339.3 686.4,1339.2 687.2,1339.2 688,1339.4 688.8,1339.9 689.6,1340.2 690.5,1340.1 691.3,1339.8 692.1,1340.1 692.9,1339.6 693.7,1339.7 694.5,1340.1 695.3,1339.7 696.2,1339 697,1340.2 697.8,1339.4 698.6,1339.5 699.4,1339.1 700.2,1338.5 701,1338.6 701.9,1339.4 702.7,1339.2 703.5,1339.1 704.3,1338.9 705.1,1339.3 705.9,1339.3 706.7,1338.9 707.6,1339 708.4,1339 709.2,1339.2 710,1338.8 710.8,1338.9 711.6,1339 712.5,1338.8 713.3,1338.6 714.1,1338.2 714.9,1339.3 715.7,1338.8 716.5,1338.8 717.3,1338.8 718.2,1338.9 719,1338.6 719.8,1338.3 720.6,1338 721.4,1338.2 722.2,1338.8 723,1339.1 723.9,1338.4 724.7,1338.8 725.5,1338.4 726.3,1338.3 727.1,1338.1 727.9,1338.7 728.7,1338.9 729.6,1339 730.4,1339 731.2,1339.2 732,1338.6 732.8,1338.4 733.6,1339 734.4,1339 735.3,1339 736.1,1339 736.9,1339.4 737.7,1338.7 738.5,1338.8 739.3,1339 740.1,1339 741,1339.1 741.8,1339.7 742.6,1339.4 743.4,1339.7 744.2,1339.2 745,1339.6 745.8,1339.4 746.7,1339.6 747.5,1339.2 748.3,1339.8 749.1,1339.5 749.9,1339.3 750.7,1339.6 751.5,1340 752.4,1339.8 753.2,1339.9 754,1340 754.8,1339.6 755.6,1339.1 756.4,1339.3 757.2,1339.4 758.1,1339.5 758.9,1339.3 759.7,1339.1 760.5,1339.5 761.3,1339.5 762.1,1339.4 762.9,1339.6 763.8,1339.6 764.6,1339.7 765.4,1340.4 766.2,1340 767,1340.4 767.8,1340.8 768.7,1340.3 769.5,1339.9 770.3,1340.6 771.1,1340 771.9,1340.3 772.7,1340.3 773.5,1340.7 774.4,1340.5 775.2,1341.5 776,1341.6 776.8,1341.3 777.6,1341.4 778.4,1341.6 779.2,1341.3 780.1,1341.7 780.9,1341.4 781.7,1341.1 782.5,1341.2 783.3,1341 784.1,1341 784.9,1341.3 785.8,1341.1 786.6,1341.4 787.4,1341 788.2,1341.6 789,1340.8 789.8,1341.2 790.6,1340.6 791.5,1341.8 792.3,1341.5 793.1,1341.4 793.9,1341 794.7,1341.2 795.5,1341.3 796.3,1340.5 797.2,1340.5 798,1340.4 798.8,1340.6 799.6,1339.9 800.4,1339.8 801.2,1339.2 802,1340.1 802.9,1339.9 803.7,1340.7 804.5,1340.2 805.3,1340.6 806.1,1340.4 806.9,1340.3 807.7,1341.2 808.6,1341.1 809.4,1341.1 810.2,1340.5 811,1341 811.8,1340.9 812.6,1341.4 813.4,1340.8 814.3,1340.7 815.1,1341.2 815.9,1341.1 816.7,1340.7 817.5,1340.6 818.3,1340.4 819.1,1340.4 820,1340.1 820.8,1340.7 821.6,1341.1 822.4,1341.3 823.2,1340.9 824,1341.1 824.8,1340.4 825.7,1340.7 826.5,1340.7 827.3,1340.2 828.1,1340.6 828.9,1340.2 829.7,1340.3 830.6,1340.5 831.4,1341 832.2,1340.1 833,1340.2 833.8,1340.5 834.6,1340.4 835.4,1340.3 836.3,1340.9 837.1,1340.6 837.9,1341 838.7,1340.7 839.5,1341 840.3,1340.9 841.1,1340.2 842,1341.5 842.8,1340.6 843.6,1340.4 844.4,1341.1 845.2,1341.4 846,1340.9 846.8,1340.4 847.7,1340.3 848.5,1340.1 849.3,1340.2 850.1,1340.7 850.9,1341.1 851.7,1340.9 852.5,1340.5 853.4,1340.8 854.2,1340.3 855,1340.8 855.8,1341.2 856.6,1340.9 857.4,1341.7 858.2,1341.6 859.1,1342.3 859.9,1341.8 860.7,1341.9 861.5,1342.1 862.3,1341.8 863.1,1342 863.9,1342.6 864.8,1342.2 865.6,1343.1 866.4,1343.1 867.2,1343 868,1342.8 868.8,1343.1 869.6,1343.4 870.5,1343.7 871.3,1343.6 872.1,1343.9 872.9,1343.5 873.7,1343.2 874.5,1343.9 875.3,1344 876.2,1344 877,1344.4 877.8,1344 878.6,1343.9 879.4,1344.3 880.2,1344.4 881,1343.6 881.9,1344.2 882.7,1344.7 883.5,1345 884.3,1345.4 885.1,1345.1 885.9,1345 886.8,1344.9 887.6,1344.5 888.4,1346.2 889.2,1345.9 890,1346.2 890.8,1346.4 891.6,1346.6 892.5,1346.7 893.3,1346.6 894.1,1346.9 894.9,1347.4 895.7,1347.1 896.5,1346.8 897.3,1347.3 898.2,1347.3 899,1347 899.8,1347.8 900.6,1347.5 901.4,1347.6 902.2,1347.2 903,1347.3 903.9,1347.3 904.7,1347.8 905.5,1348 906.3,1348.5 907.1,1348 907.9,1347.9 908.7,1348.8 909.6,1348.8 910.4,1349 911.2,1349.4 912,1348.8 912.8,1349.3 913.6,1348.8 914.4,1349.2 915.3,1349.8 916.1,1349.6 916.9,1348.8 917.7,1349.1 918.5,1348.6 919.3,1349.1 920.1,1349 921,1349.4 921.8,1349.1 922.6,1349.8 923.4,1350.3 924.2,1349.6 925,1350.2 925.8,1350 926.7,1349.6 927.5,1349.9 928.3,1349.7 929.1,1350.8 929.9,1349.9 930.7,1349.6 931.5,1350.3 932.4,1350.5 933.2,1350.2 934,1349.9 934.8,1349.9 935.6,1349.9 936.4,1349.8 937.2,1349.9 938.1,1349.8 938.9,1349.5 939.7,1349.7 940.5,1349.6 941.3,1349.3 942.1,1349.1 942.9,1348.7 943.8,1348.5 944.6,1348.9 945.4,1348.6 946.2,1348.9 947,1348.7 947.8,1348.6 948.7,1348.2 949.5,1348" fill="none" stroke="#2fab68" stroke-width="2.6" stroke-linejoin="round" clip-path="url(#clipf)"/>
<polyline points="96.7,1433 97.5,1455.6 98.3,1454.3 99.1,1466.9 100,1467.2 100.8,1466.2 101.6,1472.9 102.4,1477.6 103.2,1483.8 104,1485.1 104.8,1480.4 105.7,1479.2 106.5,1483.5 107.3,1482.9 108.1,1483.3 108.9,1490.3 109.7,1489.7 110.5,1481.9 111.4,1484.9 112.2,1496.4 113,1506.6 113.8,1503.5 114.6,1498.2 115.4,1496.8 116.2,1490.4 117.1,1492.7 117.9,1494.5 118.7,1501 119.5,1504.9 120.3,1497.2 121.1,1495.2 121.9,1498.5 122.8,1502 123.6,1506.6 124.4,1502.2 125.2,1504.3 126,1497.5 126.8,1485.3 127.7,1496.4 128.5,1505.7 129.3,1497.1 130.1,1498.3 130.9,1493.8 131.7,1496.3 132.5,1489.2 133.4,1512.6 134.2,1488.4 135,1486 135.8,1499.2 136.6,1501 137.4,1495.5 138.2,1486.3 139.1,1499.5 139.9,1486.4 140.7,1495.4 141.5,1497.2 142.3,1489.2 143.1,1485 143.9,1487.4 144.8,1490.1 145.6,1489.5 146.4,1500.2 147.2,1491.8 148,1499.1 148.8,1487.6 149.6,1500.2 150.5,1497.9 151.3,1495.2 152.1,1495.1 152.9,1496.8 153.7,1493.5 154.5,1495.3 155.3,1490.9 156.2,1493.7 157,1492.2 157.8,1492.9 158.6,1499.3 159.4,1488.3 160.2,1488.4 161,1492.7 161.9,1497.3 162.7,1495.8 163.5,1497.4 164.3,1502.5 165.1,1486.9 165.9,1487.5 166.7,1494.8 167.6,1491.2 168.4,1490.2 169.2,1487.4 170,1499.4 170.8,1490.3 171.6,1484.8 172.4,1483.6 173.3,1485.7 174.1,1487.7 174.9,1490.2 175.7,1488.1 176.5,1491.5 177.3,1481.8 178.1,1492.6 179,1490.8 179.8,1485.4 180.6,1487.2 181.4,1487.4 182.2,1479.1 183,1481.4 183.8,1483.8 184.7,1484.4 185.5,1480.3 186.3,1478.8 187.1,1478.5 187.9,1473.9 188.7,1491.8 189.6,1486.4 190.4,1475.5 191.2,1483.4 192,1485.7 192.8,1472.3 193.6,1475 194.4,1486.9 195.3,1484.8 196.1,1482.4 196.9,1493.1 197.7,1484.9 198.5,1491.5 199.3,1494.1 200.1,1500.4 201,1494.3 201.8,1490.7 202.6,1489.9 203.4,1487.8 204.2,1491.3 205,1485.8 205.8,1489.8 206.7,1477.7 207.5,1480.4 208.3,1487.9 209.1,1483.2 209.9,1476.2 210.7,1476.7 211.5,1483.3 212.4,1478.4 213.2,1481.7 214,1498.1 214.8,1504.1 215.6,1491.6 216.4,1482 217.2,1487.8 218.1,1479.3 218.9,1486.4 219.7,1474.3 220.5,1473.2 221.3,1485 222.1,1477.9 222.9,1479.7 223.8,1478.2 224.6,1480.1 225.4,1462.5 226.2,1488.2 227,1484.3 227.8,1490.3 228.6,1496.5 229.5,1486.7 230.3,1487.9 231.1,1488.3 231.9,1480.7 232.7,1487.8 233.5,1481.1 234.3,1489.5 235.2,1488.2 236,1483 236.8,1494.7 237.6,1486.8 238.4,1483.6 239.2,1481.6 240,1484.8 240.9,1483.3 241.7,1490.6 242.5,1477.9 243.3,1481 244.1,1483.3 244.9,1485.9 245.8,1493.4 246.6,1481.1 247.4,1483.3 248.2,1471.7 249,1491.3 249.8,1488.1 250.6,1491.4 251.5,1491.2 252.3,1488.5 253.1,1489.5 253.9,1488.5 254.7,1492.8 255.5,1478.7 256.3,1497.1 257.2,1485.3 258,1488.1 258.8,1497.7 259.6,1489 260.4,1494.1 261.2,1478.8 262,1485 262.9,1491.6 263.7,1490.1 264.5,1477.7 265.3,1484.3 266.1,1474.4 266.9,1475.7 267.7,1478.8 268.6,1475.9 269.4,1471.2 270.2,1469.6 271,1466.4 271.8,1470.4 272.6,1488.7 273.4,1480.5 274.3,1472.1 275.1,1454.2 275.9,1462.2 276.7,1472.3 277.5,1461.3 278.3,1465.9 279.1,1466.7 280,1472.8 280.8,1473.4 281.6,1457 282.4,1465.8 283.2,1467.3 284,1467 284.8,1468.5 285.7,1466.6 286.5,1463.5 287.3,1463.4 288.1,1466.7 288.9,1453.4 289.7,1475.6 290.5,1467.7 291.4,1479.8 292.2,1475 293,1474.6 293.8,1474.7 294.6,1479.2 295.4,1481.2 296.2,1473.6 297.1,1471.6 297.9,1472.9 298.7,1483.6 299.5,1469.3 300.3,1461.4 301.1,1456.4 302,1453 302.8,1450.6 303.6,1443.9 304.4,1439.1 305.2,1437.7 306,1443.9 306.8,1438.4 307.7,1451.9 308.5,1450.3 309.3,1438.3 310.1,1434.5 310.9,1440.4 311.7,1443.1 312.5,1436.5 313.4,1436.5 314.2,1440.9 315,1434.6 315.8,1434.6 316.6,1442.5 317.4,1432.4 318.2,1438.1 319.1,1433 319.9,1436.6 320.7,1434.5 321.5,1438.6 322.3,1433.3 323.1,1425.9 323.9,1431 324.8,1441.3 325.6,1429.5 326.4,1434.8 327.2,1432.2 328,1435.6 328.8,1437.2 329.6,1435.4 330.5,1438.4 331.3,1436.3 332.1,1429.8 332.9,1433 333.7,1434.7 334.5,1444.3 335.3,1431.6 336.2,1424.3 337,1444.8 337.8,1430.2 338.6,1444.5 339.4,1437.2 340.2,1439.1 341,1437.9 341.9,1442.5 342.7,1441.7 343.5,1441.7 344.3,1435.8 345.1,1432.3 345.9,1431.4 346.7,1428.5 347.6,1442 348.4,1436.8 349.2,1437.5 350,1437.4 350.8,1438.9 351.6,1432.4 352.4,1433 353.3,1434.8 354.1,1439.2 354.9,1432 355.7,1434.4 356.5,1445.6 357.3,1437.1 358.1,1440 359,1439.7 359.8,1440.8 360.6,1443.3 361.4,1444.1 362.2,1432 363,1439.8 363.9,1435.9 364.7,1430.7 365.5,1434.2 366.3,1438.1 367.1,1440.2 367.9,1432.6 368.7,1439.2 369.6,1435.2 370.4,1443.7 371.2,1444 372,1435.4 372.8,1427.7 373.6,1428.7 374.4,1433.2 375.3,1435.3 376.1,1429.6 376.9,1435 377.7,1437.7 378.5,1437.6 379.3,1429.7 380.1,1438.2 381,1431.2 381.8,1434.5 382.6,1436.9 383.4,1439.3 384.2,1441.7 385,1427.5 385.8,1447.1 386.7,1433.4 387.5,1430.5 388.3,1439 389.1,1446.1 389.9,1444.9 390.7,1426 391.5,1434.8 392.4,1425.4 393.2,1433.5 394,1446.3 394.8,1431.9 395.6,1426.8 396.4,1425.3 397.2,1432.6 398.1,1435.6 398.9,1438.3 399.7,1439.3 400.5,1432.9 401.3,1437.3 402.1,1445.5 402.9,1439.9 403.8,1445.4 404.6,1439.9 405.4,1440.4 406.2,1436.1 407,1429.2 407.8,1426.7 408.6,1451.1 409.5,1434.4 410.3,1429.5 411.1,1438.7 411.9,1439.3 412.7,1432.4 413.5,1431.3 414.3,1431.2 415.2,1434.9 416,1436 416.8,1439.3 417.6,1420.6 418.4,1420.5 419.2,1430.8 420.1,1429.5 420.9,1431 421.7,1429.9 422.5,1425.3 423.3,1435 424.1,1436.7 424.9,1432.3 425.8,1433.6 426.6,1432.8 427.4,1433.3 428.2,1439.5 429,1438.4 429.8,1452.3 430.6,1444 431.5,1434.7 432.3,1425.4 433.1,1433.1 433.9,1436.8 434.7,1432.5 435.5,1435.9 436.3,1429.2 437.2,1432.3 438,1425.5 438.8,1438.7 439.6,1423.5 440.4,1434.4 441.2,1450.4 442,1431.6 442.9,1439 443.7,1441.2 444.5,1433.6 445.3,1423.9 446.1,1432.9 446.9,1432.1 447.7,1426.6 448.6,1426.3 449.4,1430.5 450.2,1430.2 451,1428.8 451.8,1429.4 452.6,1427.8 453.4,1430.7 454.3,1420.4 455.1,1423.8 455.9,1426.2 456.7,1421.1 457.5,1425.9 458.3,1415.8 459.1,1424.9 460,1429.9 460.8,1434.3 461.6,1419.3 462.4,1437.1 463.2,1431.3 464,1425 464.8,1434.1 465.7,1434.3 466.5,1427.5 467.3,1431.1 468.1,1425.1 468.9,1438.7 469.7,1442.7 470.5,1444.4 471.4,1426.1 472.2,1421.5 473,1431.1 473.8,1431.2 474.6,1441.3 475.4,1436.4 476.3,1428.8 477.1,1432.2 477.9,1441.5 478.7,1438.6 479.5,1431 480.3,1443.8 481.1,1443.7 482,1434.2 482.8,1422.5 483.6,1433.5 484.4,1430.9 485.2,1434.4 486,1441 486.8,1441.5 487.7,1441.1 488.5,1435 489.3,1426.1 490.1,1449.1 490.9,1425.3 491.7,1433.8 492.5,1437.7 493.4,1442.7 494.2,1433.8 495,1444.9 495.8,1444.1 496.6,1440.9 497.4,1436.3 498.2,1437.7 499.1,1434.7 499.9,1441.7 500.7,1429.1 501.5,1440.6 502.3,1439 503.1,1436.3 503.9,1447.7 504.8,1439.7 505.6,1441.1 506.4,1442.7 507.2,1429.7 508,1435.8 508.8,1432.3 509.6,1429.5 510.5,1441 511.3,1429.3 512.1,1434.5 512.9,1430.6 513.7,1432.9 514.5,1439.4 515.3,1435.2 516.2,1435.2 517,1438.6 517.8,1435.7 518.6,1433 519.4,1440.9 520.2,1436.4 521,1440.8 521.9,1431.7 522.7,1438.3 523.5,1442.3 524.3,1439.1 525.1,1441 525.9,1442 526.7,1432.5 527.6,1426.6 528.4,1432.8 529.2,1438.2 530,1420.1 530.8,1441.4 531.6,1426.8 532.4,1439 533.3,1440.5 534.1,1443.6 534.9,1441.2 535.7,1450.4 536.5,1443 537.3,1445.6 538.2,1444.5 539,1435.9 539.8,1437.9 540.6,1436.7 541.4,1434.2 542.2,1435 543,1435.8 543.9,1438.5 544.7,1441.5 545.5,1433.3 546.3,1435.5 547.1,1428.5 547.9,1431.3 548.7,1426.6 549.6,1445 550.4,1434.9 551.2,1435.1 552,1444 552.8,1441.2 553.6,1444.7 554.4,1444.1 555.3,1446 556.1,1437.2 556.9,1436.9 557.7,1430.1 558.5,1440.4 559.3,1427.5 560.1,1440.4 561,1437.2 561.8,1446.4 562.6,1441.1 563.4,1446.1 564.2,1434.6 565,1442.1 565.8,1441.6 566.7,1450.7 567.5,1436.5 568.3,1437.5 569.1,1446.7 569.9,1448.3 570.7,1431.3 571.5,1430.4 572.4,1435.7 573.2,1443.4 574,1442.8 574.8,1442.3 575.6,1437.2 576.4,1450.4 577.2,1443.9 578.1,1445.4 578.9,1443.7 579.7,1443.5 580.5,1444.2 581.3,1450.3 582.1,1441.3 582.9,1446.8 583.8,1439.7 584.6,1442.8 585.4,1442.9 586.2,1433.2 587,1431.1 587.8,1443.9 588.6,1438.7 589.5,1439 590.3,1444.9 591.1,1441.3 591.9,1429.8 592.7,1440.4 593.5,1442 594.4,1434.6 595.2,1436.4 596,1445.4 596.8,1439 597.6,1440.3 598.4,1449.3 599.2,1441.3 600.1,1435.9 600.9,1441.6 601.7,1442.3 602.5,1444 603.3,1428.3 604.1,1437.6 604.9,1432.8 605.8,1437.9 606.6,1427.3 607.4,1433.6 608.2,1424.5 609,1427.4 609.8,1422.1 610.6,1428.6 611.5,1417.1 612.3,1427.8 613.1,1427.6 613.9,1422 614.7,1419 615.5,1419.2 616.3,1410.4 617.2,1412.7 618,1419.8 618.8,1418.1 619.6,1423.2 620.4,1422.8 621.2,1426.3 622,1412.4 622.9,1406.4 623.7,1408.3 624.5,1419.3 625.3,1411.5 626.1,1407.8 626.9,1411.7 627.7,1415.5 628.6,1411.7 629.4,1409.3 630.2,1411.5 631,1422.8 631.8,1412.6 632.6,1405.3 633.4,1415.1 634.3,1417.3 635.1,1416.9 635.9,1418.3 636.7,1413 637.5,1420.1 638.3,1410.7 639.1,1413.9 640,1408.1 640.8,1411.3 641.6,1404.8 642.4,1411.6 643.2,1417.5 644,1404.6 644.8,1415.9 645.7,1407.6 646.5,1419.6 647.3,1411.9 648.1,1414.5 648.9,1413.2 649.7,1404.7 650.5,1411.4 651.4,1409.5 652.2,1410.7 653,1401 653.8,1400.2 654.6,1410.8 655.4,1416.7 656.3,1424.8 657.1,1426.8 657.9,1421.4 658.7,1410.8 659.5,1406.3 660.3,1415 661.1,1412.1 662,1409.1 662.8,1419.5 663.6,1412.6 664.4,1405.6 665.2,1417.1 666,1418.5 666.8,1422.5 667.7,1413.8 668.5,1431.2 669.3,1420.3 670.1,1423 670.9,1431.7 671.7,1418.6 672.5,1429.3 673.4,1424.4 674.2,1430.9 675,1426.9 675.8,1405 676.6,1412.7 677.4,1424 678.2,1421.9 679.1,1408.6 679.9,1414.3 680.7,1425.2 681.5,1405.7 682.3,1415.8 683.1,1417.9 683.9,1398.5 684.8,1405.5 685.6,1396.9 686.4,1406.2 687.2,1413.3 688,1405.9 688.8,1407.1 689.6,1393.7 690.5,1398.1 691.3,1406.1 692.1,1402.4 692.9,1407.6 693.7,1411 694.5,1409.5 695.3,1408.8 696.2,1417.3 697,1406.7 697.8,1411.1 698.6,1408.5 699.4,1397.7 700.2,1401.9 701,1396.7 701.9,1393.7 702.7,1409.7 703.5,1401.7 704.3,1400.4 705.1,1400.8 705.9,1404.5 706.7,1397 707.6,1402.4 708.4,1395.4 709.2,1391.6 710,1400 710.8,1395.5 711.6,1395.3 712.5,1395.2 713.3,1397.4 714.1,1397.5 714.9,1398.9 715.7,1403.4 716.5,1400.4 717.3,1399.3 718.2,1401.8 719,1409.5 719.8,1413.6 720.6,1403.2 721.4,1401.7 722.2,1398.1 723,1394.7 723.9,1405.7 724.7,1404.6 725.5,1408.1 726.3,1393.9 727.1,1406.8 727.9,1404.4 728.7,1409.3 729.6,1409.1 730.4,1412.1 731.2,1418.5 732,1412.3 732.8,1419.7 733.6,1418.1 734.4,1413.3 735.3,1414.2 736.1,1418.9 736.9,1416.6 737.7,1420.6 738.5,1418.6 739.3,1414 740.1,1427.5 741,1424.8 741.8,1425.3 742.6,1412.9 743.4,1416.7 744.2,1407.7 745,1406.3 745.8,1415.9 746.7,1422.1 747.5,1412.4 748.3,1421.6 749.1,1410.4 749.9,1407.3 750.7,1414.3 751.5,1426 752.4,1424.9 753.2,1419.6 754,1401.3 754.8,1420.4 755.6,1410.5 756.4,1410.1 757.2,1427.8 758.1,1422.7 758.9,1406.4 759.7,1411 760.5,1410.8 761.3,1413.4 762.1,1421.1 762.9,1417.2 763.8,1419.7 764.6,1420.1 765.4,1426.3 766.2,1419 767,1420.7 767.8,1419.7 768.7,1419.6 769.5,1413.5 770.3,1422.1 771.1,1422.4 771.9,1416.8 772.7,1417.5 773.5,1420.4 774.4,1412.4 775.2,1417.5 776,1418.6 776.8,1424 777.6,1423.9 778.4,1425.4 779.2,1419.5 780.1,1413.7 780.9,1427.8 781.7,1408.1 782.5,1417.5 783.3,1413 784.1,1408.5 784.9,1416.5 785.8,1418.5 786.6,1415.3 787.4,1420.8 788.2,1414.6 789,1427.1 789.8,1420.7 790.6,1421.1 791.5,1428.8 792.3,1415.4 793.1,1421.4 793.9,1424.1 794.7,1420 795.5,1421.6 796.3,1413.7 797.2,1428.9 798,1407.8 798.8,1416.4 799.6,1426.9 800.4,1419.5 801.2,1417.8 802,1418.3 802.9,1416.4 803.7,1418.9 804.5,1415.9 805.3,1405.4 806.1,1415.1 806.9,1423.2 807.7,1418 808.6,1402.8 809.4,1418.6 810.2,1403.8 811,1423.4 811.8,1412.2 812.6,1413.6 813.4,1415.2 814.3,1420.5 815.1,1417.6 815.9,1419.3 816.7,1413.1 817.5,1413 818.3,1420 819.1,1415.5 820,1411.7 820.8,1401.9 821.6,1415.5 822.4,1424.5 823.2,1416.5 824,1421.1 824.8,1403.4 825.7,1401.9 826.5,1414.7 827.3,1422.4 828.1,1419 828.9,1428.9 829.7,1408.1 830.6,1409.3 831.4,1414 832.2,1407.6 833,1402.5 833.8,1410.4 834.6,1411.8 835.4,1412.3 836.3,1405.5 837.1,1413.5 837.9,1411.6 838.7,1409.2 839.5,1405 840.3,1410.5 841.1,1414.3 842,1409.7 842.8,1403.9 843.6,1410.3 844.4,1411.2 845.2,1420.1 846,1404.2 846.8,1404.1 847.7,1404 848.5,1405.8 849.3,1399.2 850.1,1394.9 850.9,1394 851.7,1399.3 852.5,1409.7 853.4,1414.2 854.2,1399.6 855,1396.4 855.8,1398.2 856.6,1406.3 857.4,1401.8 858.2,1400.1 859.1,1394.4 859.9,1400.7 860.7,1411.4 861.5,1396.7 862.3,1398.1 863.1,1406.1 863.9,1410.1 864.8,1404.2 865.6,1401.3 866.4,1398.2 867.2,1409.4 868,1403.6 868.8,1418.3 869.6,1409.7 870.5,1416.5 871.3,1407.8 872.1,1415.6 872.9,1406.9 873.7,1413.1 874.5,1390.5 875.3,1393 876.2,1396.9 877,1400.2 877.8,1408.6 878.6,1407.4 879.4,1398.7 880.2,1398.2 881,1398 881.9,1391.3 882.7,1399.2 883.5,1404.7 884.3,1390.9 885.1,1406.1 885.9,1405.8 886.8,1407.2 887.6,1405.2 888.4,1405.5 889.2,1401.8 890,1401.1 890.8,1394.4 891.6,1395.3 892.5,1401.9 893.3,1392.9 894.1,1396.5 894.9,1400.2 895.7,1398 896.5,1406.1 897.3,1405.6 898.2,1400 899,1394.3 899.8,1399.2 900.6,1402 901.4,1404.4 902.2,1400.8 903,1410.5 903.9,1405.5 904.7,1397.8 905.5,1396 906.3,1396.8 907.1,1401.9 907.9,1403.5 908.7,1394.5 909.6,1401.8 910.4,1396.1 911.2,1405.4 912,1399 912.8,1399.5 913.6,1405.3 914.4,1401.6 915.3,1405.9 916.1,1400 916.9,1389.2 917.7,1401.6 918.5,1403.3 919.3,1395.8 920.1,1395 921,1402 921.8,1403.4 922.6,1395.6 923.4,1383 924.2,1397.3 925,1401 925.8,1399.6 926.7,1393.5 927.5,1398.2 928.3,1404.7 929.1,1399.2 929.9,1410.5 930.7,1406.6 931.5,1392.4 932.4,1404.5 933.2,1396.9 934,1394.4 934.8,1392.6 935.6,1407.4 936.4,1404.5 937.2,1401.2 938.1,1398.6 938.9,1397 939.7,1402.9 940.5,1400 941.3,1388.5 942.1,1387 942.9,1387.7 943.8,1382.5 944.6,1384.2 945.4,1370.7 946.2,1379.5 947,1374.4 947.8,1364.7 948.7,1371.2 949.5,1371.6" fill="none" stroke="#a97ae0" stroke-width="2.6" stroke-linejoin="round" clip-path="url(#clipf)"/>
<polyline points="96.7,1444.5 97.5,1440.5 98.3,1460.3 99.1,1473.5 100,1453.8 100.8,1468.1 101.6,1483.4 102.4,1482.6 103.2,1481.5 104,1477.8 104.8,1479.8 105.7,1485.7 106.5,1484.8 107.3,1489 108.1,1478.6 108.9,1489.3 109.7,1498.1 110.5,1494.2 111.4,1491.4 112.2,1490.3 113,1496.2 113.8,1491.4 114.6,1485.8 115.4,1493.6 116.2,1493.4 117.1,1496 117.9,1502.4 118.7,1502.8 119.5,1512.4 120.3,1504.8 121.1,1509.3 121.9,1503.8 122.8,1494.9 123.6,1504.5 124.4,1505.1 125.2,1500.7 126,1502.3 126.8,1492.2 127.7,1488.7 128.5,1499.2 129.3,1501.8 130.1,1498.8 130.9,1491.4 131.7,1496.7 132.5,1499.2 133.4,1496.3 134.2,1494.2 135,1492 135.8,1495.7 136.6,1487 137.4,1499.8 138.2,1499.2 139.1,1503.8 139.9,1498.6 140.7,1495 141.5,1486.6 142.3,1499.4 143.1,1495.9 143.9,1493.5 144.8,1499.6 145.6,1501.3 146.4,1493.4 147.2,1496.9 148,1485.1 148.8,1482 149.6,1494.8 150.5,1495.9 151.3,1495.1 152.1,1503.5 152.9,1494.5 153.7,1489.4 154.5,1486.4 155.3,1484.6 156.2,1491.4 157,1494.4 157.8,1486.5 158.6,1482.8 159.4,1493.2 160.2,1494.5 161,1491.2 161.9,1490.4 162.7,1482 163.5,1488.7 164.3,1490.2 165.1,1486.2 165.9,1492.5 166.7,1484.7 167.6,1481.9 168.4,1487.4 169.2,1480.1 170,1497.5 170.8,1485.1 171.6,1477.8 172.4,1490.3 173.3,1483.1 174.1,1491.4 174.9,1491.4 175.7,1485.7 176.5,1492.2 177.3,1488.5 178.1,1489.6 179,1490.7 179.8,1488.1 180.6,1489 181.4,1497.1 182.2,1492.5 183,1491.5 183.8,1482.1 184.7,1491.4 185.5,1487.9 186.3,1485.1 187.1,1489.2 187.9,1493.1 188.7,1487.2 189.6,1491.3 190.4,1483.1 191.2,1478.1 192,1483.1 192.8,1488.6 193.6,1487 194.4,1486.1 195.3,1487.6 196.1,1490.7 196.9,1480.5 197.7,1485.2 198.5,1491.3 199.3,1488.4 200.1,1492 201,1481.2 201.8,1496.7 202.6,1487.7 203.4,1484.2 204.2,1482.8 205,1474.8 205.8,1475.9 206.7,1473.5 207.5,1478.3 208.3,1476.8 209.1,1493.6 209.9,1486.8 210.7,1480.8 211.5,1489.4 212.4,1481.5 213.2,1488.7 214,1484.6 214.8,1484.2 215.6,1472.5 216.4,1486.1 217.2,1481.2 218.1,1485.4 218.9,1483.8 219.7,1493.7 220.5,1493.8 221.3,1491.4 222.1,1481.5 222.9,1486.1 223.8,1475.3 224.6,1482.6 225.4,1478.1 226.2,1485.1 227,1489.6 227.8,1484.2 228.6,1477.4 229.5,1489.5 230.3,1490.1 231.1,1481.4 231.9,1487.6 232.7,1496.6 233.5,1479.1 234.3,1479.9 235.2,1485.8 236,1500.9 236.8,1498.9 237.6,1493.2 238.4,1491.8 239.2,1487.4 240,1483.7 240.9,1480.5 241.7,1480.2 242.5,1486.3 243.3,1484.5 244.1,1485.5 244.9,1487.5 245.8,1490 246.6,1478.4 247.4,1477.3 248.2,1481.2 249,1484.5 249.8,1480.7 250.6,1484.7 251.5,1488.6 252.3,1489.9 253.1,1494.2 253.9,1494.9 254.7,1494.2 255.5,1484.5 256.3,1491.9 257.2,1484.7 258,1485.1 258.8,1486.7 259.6,1488.7 260.4,1473.6 261.2,1475.1 262,1473.8 262.9,1481.6 263.7,1482.2 264.5,1494.6 265.3,1479 266.1,1481.3 266.9,1480 267.7,1470.5 268.6,1472 269.4,1468.3 270.2,1464 271,1468.3 271.8,1462.7 272.6,1466.5 273.4,1469.2 274.3,1461.6 275.1,1466.4 275.9,1466.4 276.7,1465.8 277.5,1474.8 278.3,1469.5 279.1,1455.9 280,1464.4 280.8,1469.1 281.6,1477.6 282.4,1460.2 283.2,1464.6 284,1469.8 284.8,1469.2 285.7,1461.3 286.5,1466.2 287.3,1463.3 288.1,1462.9 288.9,1464 289.7,1473 290.5,1471.6 291.4,1483.7 292.2,1483.5 293,1475.7 293.8,1476.8 294.6,1472.3 295.4,1470.8 296.2,1471.4 297.1,1482.5 297.9,1482.3 298.7,1492.9 299.5,1478.3 300.3,1472.7 301.1,1461.6 302,1450.3 302.8,1450.8 303.6,1440.5 304.4,1434.4 305.2,1446.8 306,1446.2 306.8,1447.8 307.7,1444.5 308.5,1448 309.3,1445.7 310.1,1442.2 310.9,1446.7 311.7,1433.2 312.5,1444.8 313.4,1431.5 314.2,1429.3 315,1449.9 315.8,1447.1 316.6,1431.6 317.4,1429.5 318.2,1441 319.1,1430.7 319.9,1435.8 320.7,1447.8 321.5,1445 322.3,1433.8 323.1,1445.1 323.9,1437.3 324.8,1438.3 325.6,1438.9 326.4,1441.7 327.2,1439 328,1445.8 328.8,1444.6 329.6,1436.4 330.5,1441.5 331.3,1433.9 332.1,1449.8 332.9,1451.5 333.7,1449.4 334.5,1430 335.3,1439.8 336.2,1432.1 337,1446.2 337.8,1449.2 338.6,1440.4 339.4,1433.7 340.2,1428.4 341,1442.4 341.9,1445.4 342.7,1438.8 343.5,1437.1 344.3,1451.1 345.1,1439.4 345.9,1447.1 346.7,1445.2 347.6,1442.3 348.4,1428.7 349.2,1443.5 350,1436.3 350.8,1444.3 351.6,1439.2 352.4,1443.2 353.3,1436.1 354.1,1439.7 354.9,1435.5 355.7,1436.7 356.5,1439.5 357.3,1439.2 358.1,1440.9 359,1449.3 359.8,1439.2 360.6,1442.6 361.4,1441.2 362.2,1434.1 363,1437.7 363.9,1436.4 364.7,1443 365.5,1447.6 366.3,1438.6 367.1,1425.4 367.9,1433 368.7,1437.1 369.6,1430.9 370.4,1435.3 371.2,1439.7 372,1429.6 372.8,1439.2 373.6,1427.5 374.4,1436.7 375.3,1434.9 376.1,1427 376.9,1436.5 377.7,1435.8 378.5,1437 379.3,1434.4 380.1,1431.7 381,1431.4 381.8,1437.9 382.6,1436 383.4,1440.7 384.2,1441.6 385,1430.5 385.8,1441.8 386.7,1440.2 387.5,1453 388.3,1449.6 389.1,1433.7 389.9,1430.1 390.7,1435.1 391.5,1433.9 392.4,1432.2 393.2,1434.1 394,1424.7 394.8,1424.5 395.6,1438.5 396.4,1442.2 397.2,1437.9 398.1,1442.6 398.9,1431.3 399.7,1433.5 400.5,1440.8 401.3,1443.4 402.1,1442.7 402.9,1444 403.8,1434.1 404.6,1445.2 405.4,1435 406.2,1429.3 407,1432.8 407.8,1429.2 408.6,1431.7 409.5,1434.5 410.3,1433 411.1,1428.7 411.9,1427.1 412.7,1442.8 413.5,1438.3 414.3,1448.6 415.2,1427 416,1441.3 416.8,1436.5 417.6,1437.8 418.4,1447 419.2,1439.7 420.1,1430.8 420.9,1435.9 421.7,1436.4 422.5,1435.3 423.3,1437.5 424.1,1436.9 424.9,1433.3 425.8,1433.5 426.6,1439.6 427.4,1437.2 428.2,1431.5 429,1445.5 429.8,1437.6 430.6,1437.8 431.5,1439.1 432.3,1431.5 433.1,1440.3 433.9,1440.4 434.7,1430.4 435.5,1434.7 436.3,1441.5 437.2,1425.2 438,1431.2 438.8,1445.6 439.6,1440.4 440.4,1426.6 441.2,1419.3 442,1422.2 442.9,1428.5 443.7,1430.4 444.5,1429.4 445.3,1429.8 446.1,1418.4 446.9,1423.9 447.7,1424.2 448.6,1430.4 449.4,1439.3 450.2,1435.4 451,1423.5 451.8,1428.1 452.6,1444.1 453.4,1424.7 454.3,1431.6 455.1,1430.9 455.9,1419.6 456.7,1430.7 457.5,1433.2 458.3,1437.9 459.1,1432.7 460,1447.4 460.8,1439 461.6,1431.3 462.4,1436.4 463.2,1434.1 464,1423.6 464.8,1418.7 465.7,1428.3 466.5,1422.7 467.3,1426.5 468.1,1425.7 468.9,1440.8 469.7,1429.4 470.5,1427.2 471.4,1432.1 472.2,1419 473,1437.5 473.8,1430.5 474.6,1442.2 475.4,1430.9 476.3,1432.7 477.1,1437.3 477.9,1435 478.7,1432.8 479.5,1435.1 480.3,1433.1 481.1,1432.6 482,1435.6 482.8,1435 483.6,1438.2 484.4,1447.4 485.2,1434.9 486,1436.9 486.8,1426.2 487.7,1442 488.5,1441.4 489.3,1436.9 490.1,1431 490.9,1429.1 491.7,1440.9 492.5,1434.8 493.4,1432.2 494.2,1443.7 495,1439.6 495.8,1427.8 496.6,1437.3 497.4,1441.2 498.2,1438.3 499.1,1436.6 499.9,1435 500.7,1435.7 501.5,1432.4 502.3,1433.2 503.1,1433.2 503.9,1428.8 504.8,1443.6 505.6,1441.5 506.4,1441.6 507.2,1436.2 508,1440.7 508.8,1433.5 509.6,1433.7 510.5,1431.2 511.3,1439.8 512.1,1433.6 512.9,1437.9 513.7,1439.9 514.5,1445.2 515.3,1447.4 516.2,1436 517,1441.4 517.8,1435.4 518.6,1436.1 519.4,1432 520.2,1428.6 521,1438.5 521.9,1432.1 522.7,1439.3 523.5,1440.7 524.3,1440.8 525.1,1427 525.9,1445.5 526.7,1436.9 527.6,1443.6 528.4,1444.8 529.2,1448.1 530,1437.8 530.8,1442.9 531.6,1440.4 532.4,1436.3 533.3,1435 534.1,1436.9 534.9,1439.7 535.7,1442.6 536.5,1433.8 537.3,1447.5 538.2,1429.7 539,1439.1 539.8,1442.3 540.6,1436.5 541.4,1436.5 542.2,1427.1 543,1446.4 543.9,1430.9 544.7,1437.1 545.5,1436.6 546.3,1434.4 547.1,1435.8 547.9,1437.1 548.7,1442.3 549.6,1432.4 550.4,1442.5 551.2,1441.8 552,1441.7 552.8,1440 553.6,1444.9 554.4,1444 555.3,1436.1 556.1,1441.2 556.9,1438.7 557.7,1447.8 558.5,1434.4 559.3,1438 560.1,1433.7 561,1427.4 561.8,1444.2 562.6,1443.5 563.4,1445 564.2,1449.6 565,1436.2 565.8,1443.8 566.7,1448.2 567.5,1431.1 568.3,1432.5 569.1,1441.9 569.9,1442 570.7,1435.1 571.5,1441.4 572.4,1439.4 573.2,1448.9 574,1443.8 574.8,1441.1 575.6,1440.2 576.4,1439.9 577.2,1447.1 578.1,1447.6 578.9,1446.6 579.7,1436.6 580.5,1435.7 581.3,1439.3 582.1,1454 582.9,1443.3 583.8,1456.4 584.6,1462.8 585.4,1464.1 586.2,1457.6 587,1443.6 587.8,1448.7 588.6,1437 589.5,1440.1 590.3,1440.9 591.1,1450.6 591.9,1439.4 592.7,1434.5 593.5,1423.9 594.4,1442.4 595.2,1436.4 596,1446.8 596.8,1433.3 597.6,1443.2 598.4,1443.5 599.2,1437.8 600.1,1453.2 600.9,1449.6 601.7,1444.1 602.5,1446.7 603.3,1438.8 604.1,1436.4 604.9,1445.8 605.8,1439.4 606.6,1439 607.4,1425 608.2,1422.7 609,1434.2 609.8,1421.9 610.6,1422 611.5,1424.3 612.3,1428 613.1,1422.7 613.9,1422.3 614.7,1406.8 615.5,1422.7 616.3,1416.9 617.2,1423.3 618,1422.4 618.8,1421.5 619.6,1416.7 620.4,1420 621.2,1419.8 622,1410.9 622.9,1410.1 623.7,1412.5 624.5,1412.6 625.3,1412.8 626.1,1419.2 626.9,1418.2 627.7,1412 628.6,1416.9 629.4,1408.9 630.2,1411.9 631,1401.7 631.8,1409.3 632.6,1409.1 633.4,1399.1 634.3,1407.1 635.1,1408.8 635.9,1408.3 636.7,1406.9 637.5,1404.3 638.3,1407.7 639.1,1397.1 640,1417 640.8,1403.5 641.6,1400.7 642.4,1415.4 643.2,1427.8 644,1410.6 644.8,1409.1 645.7,1407.3 646.5,1403.3 647.3,1411.3 648.1,1397.9 648.9,1403.2 649.7,1408.5 650.5,1403.3 651.4,1417.5 652.2,1410.6 653,1412.1 653.8,1409 654.6,1416.5 655.4,1421.5 656.3,1416.8 657.1,1421.5 657.9,1415.9 658.7,1414 659.5,1399.9 660.3,1404.3 661.1,1419.9 662,1417.1 662.8,1413 663.6,1416.6 664.4,1417.6 665.2,1414.1 666,1413 666.8,1424.4 667.7,1420.9 668.5,1416.9 669.3,1423.2 670.1,1422.4 670.9,1433.6 671.7,1429.3 672.5,1434.2 673.4,1422 674.2,1430.2 675,1432.2 675.8,1421.5 676.6,1420.4 677.4,1418.3 678.2,1420.3 679.1,1426.9 679.9,1413 680.7,1413.5 681.5,1407.8 682.3,1406 683.1,1399.9 683.9,1403.2 684.8,1407.7 685.6,1409.4 686.4,1405.8 687.2,1405.6 688,1407.3 688.8,1411.6 689.6,1400.1 690.5,1404.7 691.3,1402.1 692.1,1411 692.9,1405.4 693.7,1396.3 694.5,1392.7 695.3,1395.3 696.2,1403.2 697,1400.8 697.8,1392.7 698.6,1399.2 699.4,1404 700.2,1403.7 701,1407.3 701.9,1404.8 702.7,1409 703.5,1405.3 704.3,1397.8 705.1,1398.8 705.9,1387.2 706.7,1388.8 707.6,1399 708.4,1412.2 709.2,1407.1 710,1391.6 710.8,1397.9 711.6,1401 712.5,1400 713.3,1395.8 714.1,1402.1 714.9,1398.5 715.7,1397.4 716.5,1387.8 717.3,1404.3 718.2,1393.6 719,1396.6 719.8,1400.4 720.6,1402.6 721.4,1394 722.2,1406.4 723,1405.3 723.9,1408.2 724.7,1416.7 725.5,1410.9 726.3,1398.2 727.1,1411.7 727.9,1416.3 728.7,1399.6 729.6,1418.4 730.4,1418 731.2,1410.4 732,1429.2 732.8,1408.4 733.6,1415.2 734.4,1420.8 735.3,1407.6 736.1,1416.7 736.9,1424.1 737.7,1417.2 738.5,1414.4 739.3,1423 740.1,1422.5 741,1414.8 741.8,1408.9 742.6,1422.7 743.4,1423.8 744.2,1420.2 745,1412.5 745.8,1406.1 746.7,1414 747.5,1415.1 748.3,1411 749.1,1421.5 749.9,1416.2 750.7,1418 751.5,1416 752.4,1416.8 753.2,1408.6 754,1415.3 754.8,1415.3 755.6,1408.4 756.4,1418.6 757.2,1421.7 758.1,1416.4 758.9,1412 759.7,1406 760.5,1412.3 761.3,1423.4 762.1,1422.3 762.9,1421.8 763.8,1413.4 764.6,1416.1 765.4,1430.5 766.2,1429.2 767,1421.9 767.8,1418.5 768.7,1419.2 769.5,1415 770.3,1427.2 771.1,1428.5 771.9,1432.7 772.7,1422.1 773.5,1425.8 774.4,1419 775.2,1426.8 776,1425.1 776.8,1420.7 777.6,1419.4 778.4,1416.4 779.2,1431.6 780.1,1422.8 780.9,1419.8 781.7,1421.2 782.5,1415 783.3,1422.3 784.1,1424.7 784.9,1419.2 785.8,1416.8 786.6,1412.6 787.4,1428 788.2,1406.2 789,1410.4 789.8,1425.2 790.6,1411.5 791.5,1430 792.3,1422.3 793.1,1421.5 793.9,1412.9 794.7,1423.2 795.5,1416 796.3,1410.6 797.2,1411.8 798,1410.4 798.8,1411.4 799.6,1420.4 800.4,1420.7 801.2,1424.3 802,1421.6 802.9,1414.7 803.7,1415.4 804.5,1421.7 805.3,1404 806.1,1411.7 806.9,1414.8 807.7,1409.3 808.6,1414.1 809.4,1416.4 810.2,1415.9 811,1430.8 811.8,1413.9 812.6,1410.3 813.4,1407.7 814.3,1412 815.1,1416.4 815.9,1414.6 816.7,1410.4 817.5,1406.5 818.3,1416.3 819.1,1416.6 820,1420 820.8,1414.2 821.6,1404.6 822.4,1415 823.2,1418.7 824,1408.5 824.8,1413 825.7,1406.7 826.5,1411.8 827.3,1415.6 828.1,1416.2 828.9,1403 829.7,1409.5 830.6,1416.4 831.4,1406.5 832.2,1413.8 833,1402.8 833.8,1417.3 834.6,1407 835.4,1415.9 836.3,1407.6 837.1,1416.9 837.9,1416.5 838.7,1415.8 839.5,1406.3 840.3,1420.8 841.1,1414.3 842,1413.5 842.8,1415.3 843.6,1406.8 844.4,1405.3 845.2,1408.6 846,1404.2 846.8,1413.9 847.7,1405.4 848.5,1407.6 849.3,1414.2 850.1,1407.6 850.9,1407.3 851.7,1395.4 852.5,1412 853.4,1399.4 854.2,1408.5 855,1399.1 855.8,1404.7 856.6,1401 857.4,1408.4 858.2,1410.4 859.1,1399.3 859.9,1395.6 860.7,1393.2 861.5,1402.9 862.3,1402.1 863.1,1400.2 863.9,1406.1 864.8,1405 865.6,1396.2 866.4,1405.8 867.2,1404 868,1400.5 868.8,1393.8 869.6,1398.6 870.5,1395.5 871.3,1404.3 872.1,1394.3 872.9,1395.3 873.7,1395.2 874.5,1401.6 875.3,1405.3 876.2,1399.7 877,1402.1 877.8,1402.6 878.6,1410.9 879.4,1397 880.2,1396 881,1390 881.9,1402.3 882.7,1397.3 883.5,1411.1 884.3,1413.8 885.1,1404.1 885.9,1394.4 886.8,1397.3 887.6,1395.2 888.4,1393.6 889.2,1399.8 890,1388.7 890.8,1391.2 891.6,1406.2 892.5,1412.1 893.3,1410.6 894.1,1411.1 894.9,1407.5 895.7,1410.8 896.5,1404.2 897.3,1398.1 898.2,1404.7 899,1403.9 899.8,1397.8 900.6,1404.3 901.4,1408.7 902.2,1400.3 903,1408.4 903.9,1408.7 904.7,1393.4 905.5,1407.6 906.3,1402 907.1,1407.3 907.9,1406.5 908.7,1401.9 909.6,1405 910.4,1392.8 911.2,1395 912,1405.5 912.8,1399.6 913.6,1402.6 914.4,1388.1 915.3,1401.8 916.1,1398.9 916.9,1403.8 917.7,1400.6 918.5,1405.5 919.3,1397.6 920.1,1400.4 921,1402.7 921.8,1401 922.6,1407.4 923.4,1404 924.2,1401.4 925,1400.3 925.8,1388.2 926.7,1399.8 927.5,1405.4 928.3,1392.5 929.1,1403.1 929.9,1410.4 930.7,1409 931.5,1407.7 932.4,1411.1 933.2,1405.9 934,1407.7 934.8,1401.2 935.6,1391 936.4,1405.5 937.2,1408.3 938.1,1397.7 938.9,1403.3 939.7,1403.3 940.5,1391.5 941.3,1392.4 942.1,1392.1 942.9,1393.1 943.8,1382.9 944.6,1382.5 945.4,1387 946.2,1388.1 947,1383.8 947.8,1394 948.7,1387 949.5,1383.1" fill="none" stroke="#c9930f" stroke-width="2.6" stroke-linejoin="round" clip-path="url(#clipf)"/>
<polyline points="96.7,1438.5 97.5,1457.2 98.3,1474.7 99.1,1461.1 100,1483.3 100.8,1491.4 101.6,1488.8 102.4,1487 103.2,1503.4 104,1500.1 104.8,1497 105.7,1491.8 106.5,1493.4 107.3,1493.1 108.1,1501.4 108.9,1506 109.7,1500.1 110.5,1513.1 111.4,1516.1 112.2,1511.3 113,1501.4 113.8,1518.3 114.6,1513.1 115.4,1507 116.2,1519.1 117.1,1516.4 117.9,1516.3 118.7,1509.4 119.5,1519.6 120.3,1516.4 121.1,1522.1 121.9,1511.1 122.8,1504.7 123.6,1513.5 124.4,1512.8 125.2,1508.1 126,1524.5 126.8,1513 127.7,1512.3 128.5,1507.7 129.3,1504.2 130.1,1509.7 130.9,1507.8 131.7,1507.8 132.5,1506.6 133.4,1508 134.2,1507.7 135,1508.7 135.8,1496.9 136.6,1504.5 137.4,1507.8 138.2,1506.5 139.1,1493.9 139.9,1507.4 140.7,1494.8 141.5,1495.8 142.3,1495.5 143.1,1485.8 143.9,1501 144.8,1501.2 145.6,1489.4 146.4,1502.4 147.2,1507.2 148,1500.4 148.8,1492.8 149.6,1506.3 150.5,1503.8 151.3,1502.4 152.1,1514.5 152.9,1510.1 153.7,1507.8 154.5,1507.4 155.3,1504.6 156.2,1503.1 157,1503.3 157.8,1506.7 158.6,1509.1 159.4,1511.7 160.2,1499.6 161,1504.6 161.9,1508.7 162.7,1501.7 163.5,1505 164.3,1498.8 165.1,1500.7 165.9,1508.5 166.7,1500.1 167.6,1498.9 168.4,1506.2 169.2,1504.9 170,1514.1 170.8,1506 171.6,1501.8 172.4,1503.1 173.3,1487.1 174.1,1499.3 174.9,1499.6 175.7,1499 176.5,1498.3 177.3,1496.5 178.1,1497.1 179,1501.3 179.8,1507.5 180.6,1507.1 181.4,1498.4 182.2,1511.2 183,1505.9 183.8,1509.8 184.7,1501.9 185.5,1503.5 186.3,1490 187.1,1497.8 187.9,1508.9 188.7,1499.7 189.6,1502.1 190.4,1495.9 191.2,1504 192,1501.8 192.8,1508.3 193.6,1498.7 194.4,1494.7 195.3,1489.7 196.1,1491.3 196.9,1499 197.7,1508 198.5,1497.5 199.3,1506.6 200.1,1489.6 201,1500.2 201.8,1502.5 202.6,1494.1 203.4,1494.2 204.2,1493.6 205,1493.4 205.8,1491.9 206.7,1499.5 207.5,1495.5 208.3,1486.5 209.1,1499.5 209.9,1499.7 210.7,1495.8 211.5,1492.7 212.4,1493.6 213.2,1504.1 214,1498.7 214.8,1491.1 215.6,1493.5 216.4,1494.1 217.2,1489.5 218.1,1501 218.9,1497.2 219.7,1493.7 220.5,1498.6 221.3,1500.2 222.1,1500.7 222.9,1483.6 223.8,1488.7 224.6,1493.5 225.4,1487.7 226.2,1495.8 227,1510.7 227.8,1502.9 228.6,1501.6 229.5,1495.6 230.3,1488.2 231.1,1498.9 231.9,1493.8 232.7,1497 233.5,1508.2 234.3,1498.3 235.2,1500 236,1504 236.8,1500.2 237.6,1500.3 238.4,1505.3 239.2,1502.1 240,1496.8 240.9,1499.1 241.7,1500.5 242.5,1502.5 243.3,1492.8 244.1,1514.2 244.9,1500.5 245.8,1491.5 246.6,1497.5 247.4,1508.5 248.2,1494 249,1496.6 249.8,1492.8 250.6,1496.2 251.5,1499.9 252.3,1496.3 253.1,1504.6 253.9,1506.3 254.7,1499.6 255.5,1506.7 256.3,1493.6 257.2,1498.4 258,1502.2 258.8,1495.5 259.6,1496.1 260.4,1499.2 261.2,1492.2 262,1498 262.9,1493.1 263.7,1496.1 264.5,1497.7 265.3,1502.4 266.1,1492.9 266.9,1486.5 267.7,1491.4 268.6,1483.2 269.4,1490.9 270.2,1491 271,1485.4 271.8,1485 272.6,1488.6 273.4,1481 274.3,1481.9 275.1,1481.5 275.9,1481.6 276.7,1475.4 277.5,1487 278.3,1474.1 279.1,1488.1 280,1471.1 280.8,1478.2 281.6,1476.8 282.4,1489.5 283.2,1492.3 284,1485.2 284.8,1485.8 285.7,1473.3 286.5,1476 287.3,1482.4 288.1,1483.5 288.9,1480.7 289.7,1480 290.5,1481.7 291.4,1481.5 292.2,1479.9 293,1486.8 293.8,1492.4 294.6,1491.3 295.4,1494 296.2,1494.9 297.1,1498.5 297.9,1504 298.7,1497.7 299.5,1482.4 300.3,1494.2 301.1,1483 302,1470.9 302.8,1464.6 303.6,1465.2 304.4,1461.2 305.2,1455.3 306,1455.6 306.8,1467.4 307.7,1452.2 308.5,1451.1 309.3,1446.6 310.1,1452.5 310.9,1450.3 311.7,1446.4 312.5,1473.6 313.4,1459.3 314.2,1453.9 315,1458.2 315.8,1445.2 316.6,1456 317.4,1448.1 318.2,1448.5 319.1,1443.3 319.9,1451.5 320.7,1455.9 321.5,1451.5 322.3,1459.2 323.1,1459.2 323.9,1448.8 324.8,1455.2 325.6,1449.3 326.4,1448.4 327.2,1459.6 328,1457.2 328.8,1442.5 329.6,1452.2 330.5,1445.1 331.3,1457.1 332.1,1449 332.9,1460.4 333.7,1460.8 334.5,1447.8 335.3,1453.3 336.2,1447.3 337,1451.6 337.8,1458.6 338.6,1451.1 339.4,1438.8 340.2,1451.9 341,1453.4 341.9,1440.8 342.7,1449.8 343.5,1449.8 344.3,1450 345.1,1454 345.9,1446.5 346.7,1454.8 347.6,1455.3 348.4,1463.8 349.2,1449.1 350,1442.9 350.8,1448.5 351.6,1444.5 352.4,1434.6 353.3,1439.5 354.1,1439.8 354.9,1442.8 355.7,1454.2 356.5,1441.4 357.3,1448 358.1,1455.3 359,1448 359.8,1455 360.6,1444 361.4,1449.2 362.2,1449.7 363,1459.1 363.9,1453.9 364.7,1456 365.5,1443.7 366.3,1446.8 367.1,1450.5 367.9,1451.5 368.7,1449 369.6,1451.9 370.4,1444.1 371.2,1448.3 372,1447.7 372.8,1443.8 373.6,1443.4 374.4,1449 375.3,1449.1 376.1,1452.2 376.9,1444.9 377.7,1446.8 378.5,1452.2 379.3,1455.2 380.1,1445.3 381,1454.8 381.8,1448.6 382.6,1443.8 383.4,1451 384.2,1447.1 385,1456.6 385.8,1450.4 386.7,1438.7 387.5,1447.6 388.3,1449.7 389.1,1454.6 389.9,1450.5 390.7,1462.5 391.5,1441.6 392.4,1440.7 393.2,1443.2 394,1449.3 394.8,1445.4 395.6,1458.3 396.4,1453 397.2,1459.8 398.1,1452.3 398.9,1455.8 399.7,1460.7 400.5,1466.5 401.3,1459.1 402.1,1453.4 402.9,1454.1 403.8,1452.5 404.6,1450.4 405.4,1451 406.2,1449.3 407,1450.6 407.8,1448 408.6,1443.8 409.5,1445.6 410.3,1453.4 411.1,1442.4 411.9,1441.9 412.7,1448.8 413.5,1445.2 414.3,1450.7 415.2,1451.4 416,1450.9 416.8,1446.9 417.6,1455.3 418.4,1442.4 419.2,1456.9 420.1,1451.7 420.9,1450 421.7,1452.1 422.5,1453.7 423.3,1448.8 424.1,1446.4 424.9,1449.1 425.8,1452.4 426.6,1445.9 427.4,1444 428.2,1449.6 429,1447.3 429.8,1452.4 430.6,1458.5 431.5,1454.8 432.3,1454.1 433.1,1439.9 433.9,1441.3 434.7,1442.3 435.5,1444.6 436.3,1438.4 437.2,1441.7 438,1446.1 438.8,1439.1 439.6,1452.6 440.4,1441.6 441.2,1436.2 442,1449.3 442.9,1447.1 443.7,1447 444.5,1443.4 445.3,1458.8 446.1,1439.3 446.9,1432.2 447.7,1440.9 448.6,1431 449.4,1441.9 450.2,1447 451,1437.3 451.8,1436.4 452.6,1436.6 453.4,1441.5 454.3,1431.7 455.1,1437.7 455.9,1438.8 456.7,1437.7 457.5,1438.5 458.3,1437.7 459.1,1432.8 460,1443.2 460.8,1435.2 461.6,1445.8 462.4,1428.4 463.2,1437.7 464,1437.3 464.8,1442.3 465.7,1434.8 466.5,1437.9 467.3,1439.6 468.1,1445 468.9,1448.9 469.7,1440.6 470.5,1446 471.4,1450.6 472.2,1455.7 473,1459 473.8,1456.6 474.6,1458.8 475.4,1448.5 476.3,1450.8 477.1,1449 477.9,1461.6 478.7,1454.1 479.5,1449 480.3,1450.5 481.1,1450.8 482,1440.2 482.8,1446.5 483.6,1461.6 484.4,1451.2 485.2,1456.9 486,1438.4 486.8,1456.9 487.7,1458.5 488.5,1450.1 489.3,1453.6 490.1,1449.6 490.9,1458.2 491.7,1456.1 492.5,1449.8 493.4,1459.9 494.2,1446.1 495,1450.8 495.8,1444.4 496.6,1461.6 497.4,1454.5 498.2,1456.7 499.1,1453.8 499.9,1453 500.7,1448.5 501.5,1453.9 502.3,1448.6 503.1,1457.1 503.9,1454 504.8,1446.1 505.6,1446 506.4,1455.8 507.2,1458.9 508,1457.2 508.8,1444.3 509.6,1442.5 510.5,1453.8 511.3,1446.6 512.1,1454.8 512.9,1439.6 513.7,1441 514.5,1448.7 515.3,1451.1 516.2,1446.8 517,1447.5 517.8,1448 518.6,1456.9 519.4,1443.6 520.2,1454.8 521,1458.4 521.9,1452.3 522.7,1453.1 523.5,1449.9 524.3,1450 525.1,1460.4 525.9,1452.5 526.7,1449.2 527.6,1442.4 528.4,1443.3 529.2,1444.1 530,1454.3 530.8,1453.8 531.6,1449 532.4,1455.6 533.3,1453.6 534.1,1454.3 534.9,1448.7 535.7,1452.4 536.5,1454.6 537.3,1458.1 538.2,1451.4 539,1460.9 539.8,1463.1 540.6,1455.9 541.4,1458.5 542.2,1442.8 543,1441.1 543.9,1441.2 544.7,1453.5 545.5,1439 546.3,1458 547.1,1457.2 547.9,1442.5 548.7,1450.6 549.6,1455.4 550.4,1450.2 551.2,1451.4 552,1455.6 552.8,1456.9 553.6,1458.9 554.4,1463.9 555.3,1456.2 556.1,1454.6 556.9,1441.4 557.7,1458.7 558.5,1447.6 559.3,1445.6 560.1,1446.1 561,1463.9 561.8,1457.1 562.6,1458.7 563.4,1456.7 564.2,1456 565,1468 565.8,1461.9 566.7,1447.9 567.5,1453.3 568.3,1456.9 569.1,1453.3 569.9,1454.6 570.7,1449.5 571.5,1455.9 572.4,1452.2 573.2,1452.6 574,1452.8 574.8,1455.3 575.6,1463.6 576.4,1448.4 577.2,1464.6 578.1,1453.2 578.9,1446.4 579.7,1456.9 580.5,1446 581.3,1454.2 582.1,1462.1 582.9,1461.3 583.8,1456.3 584.6,1455.3 585.4,1452.6 586.2,1462.7 587,1445.7 587.8,1456.1 588.6,1452.4 589.5,1449.8 590.3,1452 591.1,1465.3 591.9,1459.3 592.7,1462.2 593.5,1453.5 594.4,1460.8 595.2,1466.2 596,1453.8 596.8,1456.3 597.6,1461 598.4,1456.8 599.2,1458.8 600.1,1450.7 600.9,1444.4 601.7,1448 602.5,1453.4 603.3,1445.3 604.1,1440.6 604.9,1440.3 605.8,1445.6 606.6,1452.3 607.4,1445.8 608.2,1448.5 609,1441.8 609.8,1447.3 610.6,1441.3 611.5,1443.2 612.3,1439.7 613.1,1431.2 613.9,1446.2 614.7,1431.3 615.5,1435.8 616.3,1437.6 617.2,1426.8 618,1432.2 618.8,1440.8 619.6,1434.5 620.4,1438 621.2,1434.5 622,1426.7 622.9,1423.2 623.7,1432.5 624.5,1429.1 625.3,1422.5 626.1,1429.9 626.9,1422.3 627.7,1420.6 628.6,1424.7 629.4,1422.7 630.2,1424.1 631,1434.1 631.8,1423 632.6,1431.4 633.4,1431.8 634.3,1436.6 635.1,1429.9 635.9,1428.4 636.7,1423.8 637.5,1429.9 638.3,1436.8 639.1,1423 640,1411.6 640.8,1418.3 641.6,1416.9 642.4,1423.9 643.2,1425.5 644,1428.6 644.8,1428.3 645.7,1423 646.5,1425.7 647.3,1420 648.1,1428.3 648.9,1432.2 649.7,1432.2 650.5,1426.1 651.4,1411.5 652.2,1417.2 653,1425 653.8,1419.4 654.6,1428.5 655.4,1425.6 656.3,1422.2 657.1,1419.6 657.9,1430 658.7,1418.5 659.5,1412.3 660.3,1420.7 661.1,1423 662,1431.1 662.8,1423.6 663.6,1424.9 664.4,1436.5 665.2,1421 666,1430.4 666.8,1431.6 667.7,1425.3 668.5,1439.8 669.3,1436 670.1,1442.6 670.9,1439.8 671.7,1436.1 672.5,1436.1 673.4,1442.5 674.2,1441.6 675,1439.1 675.8,1443.4 676.6,1427.8 677.4,1427 678.2,1418.4 679.1,1429.8 679.9,1415.3 680.7,1428.2 681.5,1426 682.3,1418.3 683.1,1428.9 683.9,1420.1 684.8,1419.2 685.6,1427.7 686.4,1426.2 687.2,1421.9 688,1427.4 688.8,1423.5 689.6,1423.1 690.5,1404.5 691.3,1414.4 692.1,1412.1 692.9,1419.5 693.7,1411.7 694.5,1413.3 695.3,1414 696.2,1407 697,1417.3 697.8,1416.9 698.6,1410.8 699.4,1416.5 700.2,1415.7 701,1416.9 701.9,1417.9 702.7,1412.3 703.5,1418.2 704.3,1408 705.1,1406.5 705.9,1401.5 706.7,1411.8 707.6,1414.7 708.4,1414 709.2,1402.6 710,1404.4 710.8,1403 711.6,1412.3 712.5,1418.1 713.3,1421.1 714.1,1418 714.9,1412.5 715.7,1421.7 716.5,1409.8 717.3,1403.8 718.2,1416.6 719,1412.4 719.8,1410.3 720.6,1421.4 721.4,1417.4 722.2,1425.3 723,1424.4 723.9,1425.4 724.7,1418.6 725.5,1422.3 726.3,1410.5 727.1,1425.4 727.9,1418.8 728.7,1432.7 729.6,1424.8 730.4,1430.4 731.2,1426.4 732,1422.7 732.8,1426.2 733.6,1417.9 734.4,1426.1 735.3,1426.4 736.1,1435.6 736.9,1419.4 737.7,1424.1 738.5,1427.1 739.3,1426 740.1,1417.5 741,1435.6 741.8,1429.6 742.6,1435.1 743.4,1440.3 744.2,1425 745,1426.6 745.8,1431.7 746.7,1428.5 747.5,1426.6 748.3,1431.9 749.1,1433.2 749.9,1432.7 750.7,1431.7 751.5,1428.1 752.4,1417.9 753.2,1428.8 754,1421.2 754.8,1438.4 755.6,1432.5 756.4,1418.1 757.2,1436.7 758.1,1423.6 758.9,1425.2 759.7,1424.7 760.5,1434 761.3,1437.9 762.1,1430.6 762.9,1427.8 763.8,1432.2 764.6,1436.4 765.4,1434.2 766.2,1425.9 767,1432.9 767.8,1419.6 768.7,1426.7 769.5,1430.1 770.3,1435.5 771.1,1422.8 771.9,1437.8 772.7,1431.7 773.5,1429.5 774.4,1443.6 775.2,1437.1 776,1426.3 776.8,1434 777.6,1441.9 778.4,1434.5 779.2,1430.4 780.1,1428.2 780.9,1442.6 781.7,1436.9 782.5,1432 783.3,1438.2 784.1,1438.5 784.9,1431.8 785.8,1439.7 786.6,1436.2 787.4,1436.1 788.2,1435.1 789,1430.4 789.8,1434.5 790.6,1430.6 791.5,1434.4 792.3,1423.9 793.1,1435.3 793.9,1437.2 794.7,1422.2 795.5,1435.5 796.3,1434.5 797.2,1436.8 798,1430.2 798.8,1425.4 799.6,1436.4 800.4,1430.2 801.2,1436.4 802,1425 802.9,1417.9 803.7,1429.6 804.5,1430.7 805.3,1438.5 806.1,1422.9 806.9,1424.3 807.7,1424.4 808.6,1425.3 809.4,1429.5 810.2,1424.4 811,1429.7 811.8,1430.1 812.6,1427 813.4,1425.1 814.3,1435.4 815.1,1432.2 815.9,1432 816.7,1425.2 817.5,1416.1 818.3,1424.6 819.1,1433.2 820,1425.5 820.8,1425.6 821.6,1429.9 822.4,1426.5 823.2,1427.5 824,1424 824.8,1431.5 825.7,1427 826.5,1433.3 827.3,1429.5 828.1,1426 828.9,1426 829.7,1426.5 830.6,1417.2 831.4,1420.6 832.2,1419 833,1422.4 833.8,1424 834.6,1419.2 835.4,1419.3 836.3,1420.3 837.1,1425.5 837.9,1425.4 838.7,1418.1 839.5,1418.1 840.3,1410.5 841.1,1421.6 842,1414.3 842.8,1414 843.6,1418.9 844.4,1427.7 845.2,1416.4 846,1421.6 846.8,1422.9 847.7,1432.1 848.5,1426.4 849.3,1415.2 850.1,1408.2 850.9,1417.7 851.7,1425.9 852.5,1418.5 853.4,1421.5 854.2,1423.2 855,1420.1 855.8,1425.2 856.6,1419.6 857.4,1414.4 858.2,1409.8 859.1,1427.7 859.9,1417.8 860.7,1415.3 861.5,1423.2 862.3,1416 863.1,1414.1 863.9,1422.1 864.8,1414 865.6,1413.9 866.4,1409.4 867.2,1413 868,1429.2 868.8,1426.6 869.6,1413.2 870.5,1421.1 871.3,1411.8 872.1,1412.9 872.9,1410.8 873.7,1411.5 874.5,1419.3 875.3,1421.1 876.2,1408.9 877,1413.3 877.8,1415.4 878.6,1419 879.4,1410.2 880.2,1416.2 881,1407.9 881.9,1412.1 882.7,1408.7 883.5,1419.2 884.3,1413.3 885.1,1411.8 885.9,1412.7 886.8,1409.6 887.6,1417.1 888.4,1418.3 889.2,1408.4 890,1411 890.8,1413.3 891.6,1412.3 892.5,1417.1 893.3,1413.5 894.1,1408.9 894.9,1414.2 895.7,1404.1 896.5,1421.8 897.3,1421.7 898.2,1415.1 899,1416.6 899.8,1401.8 900.6,1419 901.4,1413.9 902.2,1405.4 903,1415.7 903.9,1416.2 904.7,1405.6 905.5,1412.6 906.3,1425.9 907.1,1415.7 907.9,1420.1 908.7,1414.4 909.6,1418.3 910.4,1411.5 911.2,1420.6 912,1423.9 912.8,1418.1 913.6,1407.3 914.4,1415.2 915.3,1407.6 916.1,1411.4 916.9,1403.3 917.7,1412.7 918.5,1404.5 919.3,1406.7 920.1,1416.7 921,1402.1 921.8,1409.1 922.6,1416 923.4,1411.2 924.2,1409.4 925,1408.9 925.8,1414 926.7,1423.2 927.5,1416.5 928.3,1414.1 929.1,1414.9 929.9,1405.3 930.7,1418.3 931.5,1410.5 932.4,1418.6 933.2,1417.3 934,1410 934.8,1414.2 935.6,1417.5 936.4,1415.9 937.2,1403.2 938.1,1418.6 938.9,1405.2 939.7,1398.3 940.5,1404.6 941.3,1414.8 942.1,1412 942.9,1409.2 943.8,1400.7 944.6,1392.7 945.4,1395.3 946.2,1400.7 947,1390.6 947.8,1400.2 948.7,1396.4 949.5,1386.6" fill="none" stroke="#14c8c8" stroke-width="2.6" stroke-linejoin="round" clip-path="url(#clipf)"/>
<polyline points="96.7,1423.7 97.5,1448.1 98.3,1458.7 99.1,1465.8 100,1459.9 100.8,1468.9 101.6,1474 102.4,1469.6 103.2,1474.3 104,1487.2 104.8,1485.7 105.7,1495.4 106.5,1488.5 107.3,1506 108.1,1490.6 108.9,1496.1 109.7,1485 110.5,1493.5 111.4,1495.6 112.2,1494.5 113,1494.5 113.8,1504.9 114.6,1503.9 115.4,1508 116.2,1497 117.1,1507.2 117.9,1492 118.7,1489.5 119.5,1509.1 120.3,1497.1 121.1,1489 121.9,1499.3 122.8,1503.7 123.6,1497.9 124.4,1507.4 125.2,1496.7 126,1499.8 126.8,1493.3 127.7,1496.1 128.5,1496.2 129.3,1497.3 130.1,1490.1 130.9,1498.3 131.7,1493.8 132.5,1492.9 133.4,1486.9 134.2,1495 135,1491.3 135.8,1492.7 136.6,1491.2 137.4,1491.8 138.2,1498 139.1,1494.5 139.9,1488.9 140.7,1495.3 141.5,1498.8 142.3,1499.8 143.1,1488.4 143.9,1497.8 144.8,1489.9 145.6,1501.2 146.4,1488.4 147.2,1496.4 148,1499.5 148.8,1500.1 149.6,1489 150.5,1490.1 151.3,1492.4 152.1,1483 152.9,1482.7 153.7,1494.7 154.5,1487.4 155.3,1491.8 156.2,1487.4 157,1488.3 157.8,1490.1 158.6,1501.4 159.4,1492 160.2,1481.6 161,1498.9 161.9,1492.6 162.7,1499.7 163.5,1490.2 164.3,1486.9 165.1,1487.1 165.9,1491 166.7,1491.9 167.6,1486.5 168.4,1485.9 169.2,1497.5 170,1492.6 170.8,1482.7 171.6,1491.2 172.4,1503.5 173.3,1494.7 174.1,1490 174.9,1494.8 175.7,1496.8 176.5,1492 177.3,1494.9 178.1,1486.1 179,1498.1 179.8,1489.8 180.6,1481.9 181.4,1488.1 182.2,1487.9 183,1483.1 183.8,1499.6 184.7,1492.9 185.5,1493.8 186.3,1490.7 187.1,1499.3 187.9,1486.1 188.7,1486.5 189.6,1494.8 190.4,1484.5 191.2,1493.9 192,1493.4 192.8,1487 193.6,1487.6 194.4,1481.9 195.3,1488 196.1,1495 196.9,1481.9 197.7,1487.2 198.5,1486.5 199.3,1486.5 200.1,1478.1 201,1475.2 201.8,1485.4 202.6,1490.1 203.4,1488 204.2,1493.6 205,1494.7 205.8,1492.6 206.7,1486.9 207.5,1496.1 208.3,1491 209.1,1499.1 209.9,1492 210.7,1478.2 211.5,1484.7 212.4,1476.9 213.2,1480.4 214,1484.6 214.8,1489.1 215.6,1478.6 216.4,1475.4 217.2,1481.3 218.1,1492.9 218.9,1472.2 219.7,1484 220.5,1481.8 221.3,1478.2 222.1,1493.8 222.9,1493.4 223.8,1479.6 224.6,1477.3 225.4,1483.1 226.2,1486 227,1475.2 227.8,1486.9 228.6,1486.5 229.5,1486.7 230.3,1489.5 231.1,1483 231.9,1481.8 232.7,1473.8 233.5,1471.6 234.3,1488.6 235.2,1474.2 236,1482.7 236.8,1494.2 237.6,1495.9 238.4,1491.4 239.2,1493.9 240,1481.8 240.9,1479.2 241.7,1483.7 242.5,1477.9 243.3,1485.9 244.1,1500.5 244.9,1491.9 245.8,1503.2 246.6,1491.1 247.4,1495.4 248.2,1491.2 249,1489.8 249.8,1486 250.6,1489.5 251.5,1476.3 252.3,1469.4 253.1,1485 253.9,1488.8 254.7,1483.6 255.5,1483.1 256.3,1488.2 257.2,1481.8 258,1484.1 258.8,1484.4 259.6,1486.6 260.4,1487.8 261.2,1492.4 262,1486.7 262.9,1485.4 263.7,1492.8 264.5,1476.2 265.3,1491.9 266.1,1482.4 266.9,1474.9 267.7,1476.8 268.6,1482.7 269.4,1477.1 270.2,1473.9 271,1483.1 271.8,1484.9 272.6,1475.6 273.4,1470.6 274.3,1476.9 275.1,1476.2 275.9,1476.1 276.7,1474.7 277.5,1471.6 278.3,1467.7 279.1,1481.4 280,1467 280.8,1475 281.6,1465 282.4,1475.3 283.2,1481.6 284,1479 284.8,1472.5 285.7,1453.3 286.5,1468 287.3,1477.3 288.1,1479.2 288.9,1470.2 289.7,1462.8 290.5,1461.4 291.4,1458.9 292.2,1468.6 293,1476.7 293.8,1488.4 294.6,1484.5 295.4,1477.1 296.2,1484.2 297.1,1479.7 297.9,1487 298.7,1484.4 299.5,1479.6 300.3,1463.8 301.1,1470.3 302,1461.3 302.8,1452.2 303.6,1455.5 304.4,1442.8 305.2,1462.8 306,1447.4 306.8,1450.4 307.7,1450.7 308.5,1445.8 309.3,1443.1 310.1,1445.9 310.9,1450.2 311.7,1444.1 312.5,1448.2 313.4,1442.1 314.2,1449.4 315,1441.6 315.8,1443.2 316.6,1432.7 317.4,1438.3 318.2,1438.8 319.1,1424.3 319.9,1447.9 320.7,1431 321.5,1441.5 322.3,1446.1 323.1,1440.6 323.9,1437.1 324.8,1448.5 325.6,1446.5 326.4,1439 327.2,1439.3 328,1441.1 328.8,1440.6 329.6,1437.3 330.5,1449.2 331.3,1434.3 332.1,1440.4 332.9,1444.2 333.7,1432.9 334.5,1427.5 335.3,1434.5 336.2,1445.2 337,1443 337.8,1439.3 338.6,1446 339.4,1446.1 340.2,1443.7 341,1434.1 341.9,1438.7 342.7,1439.9 343.5,1430.4 344.3,1440.3 345.1,1439.8 345.9,1446.6 346.7,1438.6 347.6,1437.6 348.4,1439.7 349.2,1436.1 350,1436.8 350.8,1434.9 351.6,1432.8 352.4,1438.4 353.3,1446.9 354.1,1436.7 354.9,1438.3 355.7,1436.5 356.5,1431.3 357.3,1441.4 358.1,1441.1 359,1433 359.8,1430.3 360.6,1443.8 361.4,1441.1 362.2,1437.6 363,1445.1 363.9,1438.1 364.7,1441.8 365.5,1436.4 366.3,1444.9 367.1,1433.3 367.9,1437 368.7,1419.8 369.6,1436.7 370.4,1441.5 371.2,1438 372,1445.1 372.8,1453.5 373.6,1455.1 374.4,1437.8 375.3,1439.8 376.1,1437.3 376.9,1429.6 377.7,1441.9 378.5,1435.5 379.3,1443.6 380.1,1440.3 381,1441.1 381.8,1445 382.6,1434.9 383.4,1442.1 384.2,1427.9 385,1422.2 385.8,1431.7 386.7,1436.7 387.5,1436 388.3,1440 389.1,1449.8 389.9,1454.2 390.7,1436.1 391.5,1437.1 392.4,1441.3 393.2,1446.6 394,1433.4 394.8,1445.8 395.6,1442.7 396.4,1444.5 397.2,1441.2 398.1,1440.2 398.9,1447.3 399.7,1436.8 400.5,1436.4 401.3,1432.9 402.1,1437.8 402.9,1429.1 403.8,1436.2 404.6,1439.9 405.4,1441 406.2,1437.2 407,1444.5 407.8,1438.5 408.6,1441.8 409.5,1431.9 410.3,1435.5 411.1,1435.1 411.9,1437.2 412.7,1439.7 413.5,1440.1 414.3,1448.3 415.2,1433.5 416,1433.5 416.8,1440.7 417.6,1439.3 418.4,1449.1 419.2,1445.3 420.1,1437.9 420.9,1438 421.7,1434.9 422.5,1444.8 423.3,1439.9 424.1,1431.3 424.9,1439.7 425.8,1436.8 426.6,1433.2 427.4,1442.3 428.2,1431.3 429,1440.8 429.8,1429.6 430.6,1435.2 431.5,1432.4 432.3,1437.2 433.1,1432.3 433.9,1439.3 434.7,1438.3 435.5,1443.1 436.3,1445.4 437.2,1440 438,1431.7 438.8,1436.4 439.6,1441.3 440.4,1441.4 441.2,1433.4 442,1438.6 442.9,1442.6 443.7,1427.6 444.5,1435.5 445.3,1441.2 446.1,1433 446.9,1431.2 447.7,1436.1 448.6,1423.9 449.4,1437.6 450.2,1449.6 451,1432.7 451.8,1433.7 452.6,1433.5 453.4,1429.2 454.3,1434.6 455.1,1427 455.9,1430.4 456.7,1432.8 457.5,1424.7 458.3,1421.8 459.1,1418.4 460,1413.6 460.8,1421.9 461.6,1418.6 462.4,1426.7 463.2,1422.3 464,1423.8 464.8,1420.3 465.7,1421.1 466.5,1436.8 467.3,1437 468.1,1445.9 468.9,1438.8 469.7,1430.4 470.5,1430.1 471.4,1430.9 472.2,1430.3 473,1446.2 473.8,1430.1 474.6,1433.5 475.4,1441.1 476.3,1426.5 477.1,1440.5 477.9,1439.7 478.7,1434.5 479.5,1440.2 480.3,1442 481.1,1438.3 482,1443.3 482.8,1440.4 483.6,1449.7 484.4,1438.4 485.2,1458.9 486,1434.1 486.8,1441.3 487.7,1446.2 488.5,1444.5 489.3,1452.5 490.1,1446.7 490.9,1438.9 491.7,1449.8 492.5,1438 493.4,1446.8 494.2,1442.7 495,1431.9 495.8,1427.8 496.6,1428.3 497.4,1434.7 498.2,1426.8 499.1,1434.3 499.9,1434.5 500.7,1433.3 501.5,1440.1 502.3,1443.6 503.1,1446.2 503.9,1433.8 504.8,1439.9 505.6,1435.5 506.4,1444.4 507.2,1442 508,1446.1 508.8,1435.7 509.6,1439.1 510.5,1440.8 511.3,1447.7 512.1,1440.5 512.9,1440.5 513.7,1433.9 514.5,1431.5 515.3,1435.1 516.2,1428.1 517,1438.8 517.8,1429.7 518.6,1446.1 519.4,1436.7 520.2,1435.2 521,1453 521.9,1436.4 522.7,1438 523.5,1442.2 524.3,1443.7 525.1,1446.8 525.9,1438.7 526.7,1448.9 527.6,1436.4 528.4,1444.8 529.2,1443.5 530,1429 530.8,1427.9 531.6,1442.7 532.4,1446.1 533.3,1431.5 534.1,1437.2 534.9,1445.7 535.7,1441.7 536.5,1439.3 537.3,1442.9 538.2,1448.9 539,1438.9 539.8,1438.8 540.6,1422.9 541.4,1433.7 542.2,1445.5 543,1446.4 543.9,1433 544.7,1438.6 545.5,1447.1 546.3,1450.9 547.1,1445.3 547.9,1434.2 548.7,1451.7 549.6,1438.8 550.4,1447.3 551.2,1441.9 552,1448.7 552.8,1448.4 553.6,1446.3 554.4,1445.6 555.3,1436.5 556.1,1439.7 556.9,1446.4 557.7,1451.8 558.5,1432.9 559.3,1431.6 560.1,1448.3 561,1440.8 561.8,1447.9 562.6,1449.4 563.4,1444.6 564.2,1445.1 565,1445.6 565.8,1452.7 566.7,1442.9 567.5,1445.7 568.3,1454.9 569.1,1446.3 569.9,1445.3 570.7,1450.5 571.5,1444.3 572.4,1444.7 573.2,1438.1 574,1443.5 574.8,1450.1 575.6,1446.3 576.4,1434.8 577.2,1444.9 578.1,1448.5 578.9,1459.4 579.7,1450.2 580.5,1446.3 581.3,1452.7 582.1,1445.5 582.9,1433.6 583.8,1437.2 584.6,1450.9 585.4,1440.8 586.2,1452.3 587,1447.4 587.8,1444.9 588.6,1447 589.5,1459.1 590.3,1454.9 591.1,1439.2 591.9,1439.7 592.7,1451.8 593.5,1445 594.4,1460.1 595.2,1442.6 596,1443 596.8,1442.9 597.6,1444.1 598.4,1448 599.2,1440.9 600.1,1431.1 600.9,1451.8 601.7,1450.7 602.5,1447.2 603.3,1436.4 604.1,1441.8 604.9,1441.1 605.8,1424.3 606.6,1431.5 607.4,1434.9 608.2,1429.7 609,1442.7 609.8,1424.7 610.6,1434.6 611.5,1433.8 612.3,1431.4 613.1,1425.6 613.9,1426 614.7,1423.4 615.5,1416 616.3,1419.4 617.2,1418.1 618,1415.7 618.8,1413.6 619.6,1419.2 620.4,1418.4 621.2,1419.3 622,1411 622.9,1415.8 623.7,1427.4 624.5,1416.8 625.3,1418.3 626.1,1415 626.9,1412.4 627.7,1410.7 628.6,1408.6 629.4,1418.5 630.2,1422.4 631,1405.4 631.8,1419.4 632.6,1405.9 633.4,1409.1 634.3,1410.9 635.1,1402.1 635.9,1399 636.7,1411.7 637.5,1409.6 638.3,1421.3 639.1,1407 640,1400.9 640.8,1407.2 641.6,1416.5 642.4,1418.5 643.2,1425.8 644,1421.7 644.8,1415.3 645.7,1418.7 646.5,1425.2 647.3,1410.7 648.1,1414.9 648.9,1417.4 649.7,1410.9 650.5,1411.4 651.4,1415.1 652.2,1419.3 653,1415.1 653.8,1428 654.6,1431.7 655.4,1422.9 656.3,1415.1 657.1,1421.9 657.9,1414.8 658.7,1414.3 659.5,1409.5 660.3,1425.8 661.1,1419.3 662,1419.4 662.8,1420.5 663.6,1422.6 664.4,1422 665.2,1420.2 666,1424.5 666.8,1421.1 667.7,1430.5 668.5,1427.7 669.3,1420.7 670.1,1433.4 670.9,1424.7 671.7,1417.5 672.5,1421.8 673.4,1430.3 674.2,1427.3 675,1419.7 675.8,1429.5 676.6,1424.4 677.4,1431.1 678.2,1425.8 679.1,1421.7 679.9,1414.3 680.7,1418.1 681.5,1427 682.3,1418 683.1,1402.9 683.9,1420.2 684.8,1403.8 685.6,1407.7 686.4,1410.7 687.2,1404.6 688,1407.8 688.8,1402.6 689.6,1402.3 690.5,1410.7 691.3,1392.8 692.1,1406.5 692.9,1412.7 693.7,1417.4 694.5,1399.8 695.3,1405 696.2,1408.6 697,1400.7 697.8,1416.4 698.6,1405.4 699.4,1404.5 700.2,1402.1 701,1397.7 701.9,1401.2 702.7,1414.3 703.5,1408.2 704.3,1404.3 705.1,1394.9 705.9,1396.2 706.7,1394.9 707.6,1404.4 708.4,1411.7 709.2,1391 710,1390.1 710.8,1393 711.6,1398.2 712.5,1390.3 713.3,1400.8 714.1,1406.6 714.9,1391.7 715.7,1402.3 716.5,1401 717.3,1403.3 718.2,1402.2 719,1407.8 719.8,1401 720.6,1414 721.4,1412.2 722.2,1413 723,1406.3 723.9,1408.6 724.7,1409 725.5,1407.8 726.3,1411.5 727.1,1415 727.9,1414.1 728.7,1408.5 729.6,1415.1 730.4,1411.6 731.2,1411.5 732,1410.1 732.8,1420.9 733.6,1421.2 734.4,1409.7 735.3,1425.3 736.1,1422.9 736.9,1422.5 737.7,1418.4 738.5,1423.6 739.3,1420.8 740.1,1413.8 741,1419.1 741.8,1417 742.6,1422.1 743.4,1422.3 744.2,1427.4 745,1409.4 745.8,1408.7 746.7,1405.4 747.5,1411 748.3,1423 749.1,1434.8 749.9,1424 750.7,1417.5 751.5,1434.2 752.4,1410.9 753.2,1418.8 754,1411.3 754.8,1422.5 755.6,1414.6 756.4,1421.5 757.2,1414.6 758.1,1414.3 758.9,1411.4 759.7,1420.9 760.5,1423.2 761.3,1424 762.1,1422 762.9,1423.7 763.8,1413.7 764.6,1419.6 765.4,1422 766.2,1423 767,1433.5 767.8,1431.9 768.7,1416.2 769.5,1422.5 770.3,1422.7 771.1,1428.8 771.9,1422.6 772.7,1421.6 773.5,1427.7 774.4,1429.4 775.2,1430.7 776,1419.3 776.8,1424 777.6,1417.1 778.4,1414.2 779.2,1424 780.1,1412.2 780.9,1421.5 781.7,1414.5 782.5,1415.7 783.3,1417 784.1,1413.6 784.9,1422.5 785.8,1414.9 786.6,1420.3 787.4,1418.6 788.2,1419.1 789,1429.8 789.8,1414.1 790.6,1426 791.5,1423.5 792.3,1423.8 793.1,1424 793.9,1426.7 794.7,1418.9 795.5,1428.9 796.3,1421.2 797.2,1423 798,1415.4 798.8,1425.8 799.6,1414.2 800.4,1425 801.2,1410.7 802,1417.2 802.9,1418.5 803.7,1423.7 804.5,1417.6 805.3,1422.9 806.1,1409.4 806.9,1417.8 807.7,1412 808.6,1409.6 809.4,1424.7 810.2,1414.5 811,1420.7 811.8,1418.4 812.6,1403.8 813.4,1420 814.3,1410.2 815.1,1411.6 815.9,1428.5 816.7,1422.9 817.5,1418.8 818.3,1411.5 819.1,1409.8 820,1411.5 820.8,1414.7 821.6,1417.9 822.4,1411.7 823.2,1404.2 824,1416.5 824.8,1413.3 825.7,1413.5 826.5,1406.2 827.3,1407.6 828.1,1420.1 828.9,1415.3 829.7,1413.2 830.6,1426.5 831.4,1408.6 832.2,1412.3 833,1420.3 833.8,1401.2 834.6,1401.1 835.4,1405.1 836.3,1417.1 837.1,1416.3 837.9,1405.4 838.7,1421.1 839.5,1414.8 840.3,1407.1 841.1,1410.5 842,1413.4 842.8,1407.8 843.6,1412.6 844.4,1406.1 845.2,1412.3 846,1400.1 846.8,1403.8 847.7,1402.2 848.5,1417.6 849.3,1409.2 850.1,1415.5 850.9,1413.1 851.7,1410.3 852.5,1407.6 853.4,1401.9 854.2,1404 855,1407.1 855.8,1404.6 856.6,1410.1 857.4,1407.6 858.2,1409.6 859.1,1406 859.9,1409.4 860.7,1406.4 861.5,1393.6 862.3,1417.9 863.1,1404.1 863.9,1409.3 864.8,1401.6 865.6,1402 866.4,1409.3 867.2,1400.7 868,1415.2 868.8,1407.9 869.6,1397.7 870.5,1410.4 871.3,1407.4 872.1,1413.4 872.9,1402.3 873.7,1395 874.5,1393.1 875.3,1407.3 876.2,1395.3 877,1404.2 877.8,1403.9 878.6,1403.3 879.4,1405.7 880.2,1409.9 881,1414 881.9,1408.6 882.7,1407.8 883.5,1393.4 884.3,1398.3 885.1,1405.8 885.9,1395.7 886.8,1401.4 887.6,1411.7 888.4,1408.6 889.2,1405.6 890,1408.4 890.8,1405.8 891.6,1408.2 892.5,1397 893.3,1398.1 894.1,1402.7 894.9,1392.2 895.7,1400.7 896.5,1399.3 897.3,1404.2 898.2,1408.2 899,1401 899.8,1405.4 900.6,1411.5 901.4,1400.8 902.2,1398.3 903,1401.1 903.9,1405.4 904.7,1405.9 905.5,1403.4 906.3,1404.1 907.1,1410.9 907.9,1410 908.7,1402.3 909.6,1402.1 910.4,1402.8 911.2,1400.2 912,1396.3 912.8,1397.1 913.6,1407.9 914.4,1399.3 915.3,1407.3 916.1,1402.7 916.9,1409.2 917.7,1396.8 918.5,1396.4 919.3,1406.3 920.1,1401.2 921,1398 921.8,1413.3 922.6,1408.7 923.4,1402.3 924.2,1393.1 925,1401.2 925.8,1393.5 926.7,1395.6 927.5,1393.8 928.3,1397.5 929.1,1395.9 929.9,1397.3 930.7,1406.6 931.5,1409.1 932.4,1399 933.2,1414.4 934,1416.5 934.8,1405.7 935.6,1405.2 936.4,1409.4 937.2,1399.4 938.1,1402.2 938.9,1405.5 939.7,1401.6 940.5,1400.1 941.3,1396.8 942.1,1396.5 942.9,1392.9 943.8,1385.6 944.6,1391.2 945.4,1391.2 946.2,1393.4 947,1386.8 947.8,1388.6 948.7,1383.5 949.5,1382.5" fill="none" stroke="#7c4d4e" stroke-width="2.6" stroke-linejoin="round" clip-path="url(#clipf)"/>
<line x1="535" y1="1339.8" x2="585.5" y2="1339.8" stroke="#b2b2b2" stroke-width="2.2"/>
<line x1="535" y1="1453.3" x2="585.5" y2="1453.3" stroke="#b2b2b2" stroke-width="2.2"/>
<line x1="561.8" y1="1357.4" x2="561.8" y2="1435.6" stroke="#b2b2b2" stroke-width="2.4"/>
<polygon points="561.8,1452 553.8,1426 561.8,1433.8 569.8,1426" fill="#b2b2b2"/>
<polygon points="561.8,1341 569.8,1367 561.8,1359.2 553.8,1367" fill="#b2b2b2"/>
<line x1="770" y1="1341.6" x2="820.5" y2="1341.6" stroke="#b2b2b2" stroke-width="2.2"/>
<line x1="770" y1="1425.7" x2="820.5" y2="1425.7" stroke="#b2b2b2" stroke-width="2.2"/>
<line x1="794.4" y1="1359.4" x2="794.4" y2="1408.1" stroke="#b2b2b2" stroke-width="2.4"/>
<polygon points="794.4,1424.5 786.4,1398.5 794.4,1406.3 802.4,1398.5" fill="#b2b2b2"/>
<polygon points="794.4,1343 802.4,1369 794.4,1361.2 786.4,1369" fill="#b2b2b2"/>
<text x="381.6" y="1395.2">60GHz: 30dB</text>
<text x="611" y="1390.2">90GHz: 20dB</text>
<rect x="96.7" y="1307.4" width="853.6" height="298.6" fill="none" stroke="#111" stroke-width="2.2"/>
<line x1="251.8" y1="1606" x2="251.8" y2="1592.8" stroke="#111" stroke-width="2.2"/>
<line x1="407" y1="1606" x2="407" y2="1592.8" stroke="#111" stroke-width="2.2"/>
<line x1="562.1" y1="1606" x2="562.1" y2="1592.8" stroke="#111" stroke-width="2.2"/>
<line x1="717.3" y1="1606" x2="717.3" y2="1592.8" stroke="#111" stroke-width="2.2"/>
<line x1="872.4" y1="1606" x2="872.4" y2="1592.8" stroke="#111" stroke-width="2.2"/>
<line x1="96.7" y1="1327.9" x2="109.9" y2="1327.9" stroke="#111" stroke-width="2.2"/>
<line x1="96.7" y1="1413.5" x2="109.9" y2="1413.5" stroke="#111" stroke-width="2.2"/>
<line x1="96.7" y1="1499.1" x2="109.9" y2="1499.1" stroke="#111" stroke-width="2.2"/>
<line x1="96.7" y1="1584.7" x2="109.9" y2="1584.7" stroke="#111" stroke-width="2.2"/>
<text x="96.7" y="1640.9" text-anchor="middle">0</text>
<text x="251.8" y="1640.9" text-anchor="middle">20</text>
<text x="407" y="1640.9" text-anchor="middle">40</text>
<text x="562.1" y="1640.9" text-anchor="middle">60</text>
<text x="717.3" y="1640.9" text-anchor="middle">80</text>
<text x="872.4" y="1640.9" text-anchor="middle">100</text>
<text x="82.9" y="1337.9" text-anchor="end">0</text>
<text x="88" y="1423.5" text-anchor="end">-20</text>
<text x="88" y="1509.1" text-anchor="end">-40</text>
<text x="88" y="1594.7" text-anchor="end">-60</text>
<text x="519.5" y="1681.8" text-anchor="middle">Frequency (GHz)</text>
<text transform="translate(35.6 1449.5) rotate(-90)" text-anchor="middle">Normalized S<tspan font-size="17" dy="5.6">21</tspan><tspan dy="-5.6"> (dB)</tspan></text>
<line x1="112.5" y1="1239.7" x2="180" y2="1239.7" stroke="#4f4f4f" stroke-width="2.1"/>
<text x="188.2" y="1251">Ch1</text>
<line x1="112.5" y1="1276.3" x2="180" y2="1276.3" stroke="#ee3f45" stroke-width="2.1"/>
<text x="188.2" y="1287.6">Ch2</text>
<line x1="338.7" y1="1239.7" x2="406.2" y2="1239.7" stroke="#1f6fe0" stroke-width="2.1"/>
<text x="414.4" y="1251">Ch3</text>
<line x1="338.7" y1="1276.3" x2="406.2" y2="1276.3" stroke="#2fab68" stroke-width="2.1"/>
<text x="414.4" y="1287.6">Ch4</text>
<line x1="573" y1="1239.7" x2="641.2" y2="1239.7" stroke="#a97ae0" stroke-width="2.1"/>
<text x="648.8" y="1251">Ch5</text>
<line x1="573" y1="1276.3" x2="641.2" y2="1276.3" stroke="#c9930f" stroke-width="2.1"/>
<text x="648.8" y="1287.6">Ch6</text>
<line x1="802" y1="1239.7" x2="870.2" y2="1239.7" stroke="#14c8c8" stroke-width="2.1"/>
<text x="877.6" y="1251">Ch7</text>
<line x1="802" y1="1276.3" x2="870.2" y2="1276.3" stroke="#7c4d4e" stroke-width="2.1"/>
<text x="877.6" y="1287.6">Ch8</text>
</g>
<g id="pg">
<clipPath id="clipg"><rect x="1164.1" y="1306" width="853.1" height="298"/></clipPath>
<polyline points="1164.7,1547.4 1168.2,1552.4 1171.8,1547.1 1175.3,1556.1 1178.9,1555.9 1182.4,1573.9 1186,1575 1189.5,1552.2 1193.1,1577.8 1196.6,1548.7 1200.2,1560.4 1203.7,1559.5 1207.3,1567.3 1210.8,1560.5 1214.4,1562.9 1217.9,1556.7 1221.5,1557.3 1225,1561.7 1228.6,1557.2 1232.1,1546.3 1235.7,1555.1 1239.2,1547 1242.8,1553.8 1246.3,1571.1 1249.9,1539.1 1253.4,1550.9 1257,1539 1260.5,1545.7 1264.1,1565.4 1267.6,1545.4 1271.2,1551.7 1274.7,1573.1 1278.3,1556.9 1281.8,1561.6 1285.4,1540 1288.9,1544 1292.5,1576.3 1296,1556.7 1299.6,1536.4 1303.1,1537.4 1306.7,1537 1310.2,1505.4 1313.7,1525 1317.3,1489.6 1320.8,1485.3 1324.4,1486.9 1327.9,1476.8 1331.5,1489.9 1335,1480 1338.6,1472.9 1342.1,1471.3 1345.7,1466.2 1349.2,1461.4 1352.8,1459 1356.3,1449 1359.9,1440.5 1363.4,1437.2 1367,1434 1370.5,1429.6 1374.1,1425.8 1377.6,1421.5 1381.2,1418.3 1384.7,1418 1388.3,1410 1391.8,1413.2 1395.4,1407.8 1398.9,1404.7 1402.5,1402.7 1406,1400.3 1409.6,1400.4 1413.1,1396.7 1416.7,1396.3 1420.2,1396.5 1423.8,1393.8 1427.3,1391.9 1430.9,1392.2 1434.4,1389.9 1438,1390.7 1441.5,1386.4 1445.1,1389.8 1448.6,1387.4 1452.2,1386.3 1455.7,1386.8 1459.3,1386.5 1462.8,1385.9 1466.4,1387 1469.9,1385.8 1473.5,1385.4 1477,1383.2 1480.6,1384.8 1484.1,1383.4 1487.7,1384.2 1491.2,1384.3 1494.8,1382.4 1498.3,1382.3 1501.9,1382.9 1505.4,1382.8 1509,1382.5 1512.5,1382.7 1516.1,1383.2 1519.6,1381.1 1523.2,1382.3 1526.7,1383 1530.3,1382.6 1533.8,1381.6 1537.4,1379.4 1540.9,1379.6 1544.5,1380.8 1548,1382.2 1551.6,1381.3 1555.1,1381.8 1558.7,1381.1 1562.2,1380.5 1565.8,1380.1 1569.3,1381.1 1572.9,1381.1 1576.4,1380.2 1580,1381.6 1583.5,1380.2 1587.1,1380.6 1590.6,1380.2 1594.2,1381.7 1597.7,1380.3 1601.3,1380.4 1604.8,1382.5 1608.4,1381.7 1611.9,1383.4 1615.5,1381.3 1619,1380 1622.6,1381.7 1626.1,1382.2 1629.7,1382.8 1633.2,1381.8 1636.8,1382 1640.3,1382.8 1643.9,1383.8 1647.4,1383.1 1651,1382.9 1654.5,1382.2 1658.1,1382.6 1661.6,1382.7 1665.2,1383.1 1668.7,1383.3 1672.3,1384.1 1675.8,1386.2 1679.4,1385.4 1682.9,1384.4 1686.5,1385.5 1690,1386.2 1693.6,1385.6 1697.1,1386.5 1700.7,1386.8 1704.2,1386.8 1707.8,1386.7 1711.3,1387.2 1714.9,1388.8 1718.4,1389.1 1722,1390.5 1725.5,1389.7 1729.1,1391 1732.6,1390.9 1736.2,1389.6 1739.7,1392.1 1743.3,1391.2 1746.8,1392.8 1750.4,1392.7 1753.9,1394.5 1757.5,1394.8 1761,1393.5 1764.6,1395.1 1768.1,1396 1771.7,1398.8 1775.2,1405.2 1778.8,1404.9 1782.3,1405.2 1785.9,1407.5 1789.4,1411.8 1793,1416.3 1796.5,1419.4 1800.1,1418.2 1803.6,1419.2 1807.2,1421.5 1810.7,1421 1814.3,1429.4 1817.8,1427.2 1821.4,1428.6 1824.9,1431.1 1828.5,1433.6 1832,1431.7 1835.6,1430.3 1839.1,1437.2 1842.7,1443.1 1846.2,1443.4 1849.8,1451.7 1853.3,1451.8 1856.9,1466 1860.4,1473.5 1864,1471.9 1867.5,1480.8 1871.1,1509.9 1874.6,1515.6 1878.2,1515.5 1881.7,1542.2 1885.3,1552.8 1888.8,1566.1 1892.4,1576.7 1895.9,1581.5 1899.5,1586.2 1903,1585 1906.6,1560 1910.1,1584.9 1913.7,1597.2 1917.2,1542.9 1920.8,1567.9 1924.3,1572.2 1927.9,1577.4 1931.4,1565.5 1935,1561.6 1938.5,1582.7 1942.1,1581.3 1945.6,1590.9 1949.2,1559.8 1952.7,1586.6 1956.3,1573.6 1959.8,1577.9 1963.4,1592.2 1966.9,1568.7 1970.5,1567.2 1974,1592.7 1977.6,1567.2 1981.1,1560 1984.7,1580.2 1988.2,1561.4 1991.8,1557.9 1995.3,1560 1998.9,1586.8 2002.4,1569.6 2006,1568 2009.5,1579.5 2013.1,1569.3 2016.6,1579.6" fill="none" stroke="#5a5a5a" stroke-width="2.2" stroke-linejoin="round" clip-path="url(#clipg)"/>
<polyline points="1164.7,1552.4 1168.2,1570.3 1171.8,1560.2 1175.3,1549.6 1178.9,1567.2 1182.4,1580.9 1186,1573.9 1189.5,1543.7 1193.1,1539.8 1196.6,1550.3 1200.2,1549.4 1203.7,1540.6 1207.3,1570.8 1210.8,1568 1214.4,1576.4 1217.9,1556.7 1221.5,1556.1 1225,1547.9 1228.6,1571.1 1232.1,1549.2 1235.7,1554 1239.2,1556.2 1242.8,1553 1246.3,1544.2 1249.9,1575.6 1253.4,1548.9 1257,1553.4 1260.5,1549.4 1264.1,1534.2 1267.6,1566.8 1271.2,1552.4 1274.7,1556 1278.3,1553.2 1281.8,1545.5 1285.4,1547.5 1288.9,1555.7 1292.5,1546.9 1296,1546.7 1299.6,1550.6 1303.1,1559.9 1306.7,1542.6 1310.2,1553.5 1313.7,1556.8 1317.3,1551.2 1320.8,1531.3 1324.4,1489.9 1327.9,1493.2 1331.5,1492.3 1335,1487 1338.6,1478.2 1342.1,1473.5 1345.7,1467.2 1349.2,1470.9 1352.8,1462.7 1356.3,1459 1359.9,1452.1 1363.4,1451.9 1367,1446 1370.5,1442.9 1374.1,1426.4 1377.6,1425.8 1381.2,1422.1 1384.7,1413.2 1388.3,1416.2 1391.8,1415.1 1395.4,1405.1 1398.9,1402.9 1402.5,1401.3 1406,1399.6 1409.6,1396.2 1413.1,1398.3 1416.7,1398.8 1420.2,1395.5 1423.8,1392.2 1427.3,1392.3 1430.9,1392.2 1434.4,1390.4 1438,1389.1 1441.5,1389.7 1445.1,1389.2 1448.6,1388 1452.2,1388.4 1455.7,1388.7 1459.3,1388.5 1462.8,1387.3 1466.4,1386.7 1469.9,1385.1 1473.5,1384.9 1477,1385.1 1480.6,1384.6 1484.1,1383 1487.7,1383.5 1491.2,1382.8 1494.8,1383.9 1498.3,1382.9 1501.9,1383.3 1505.4,1383.8 1509,1384.4 1512.5,1382.5 1516.1,1381.7 1519.6,1381.4 1523.2,1382 1526.7,1382 1530.3,1382.9 1533.8,1381.6 1537.4,1382.1 1540.9,1381.8 1544.5,1382.1 1548,1381.5 1551.6,1381.5 1555.1,1382.4 1558.7,1381 1562.2,1381.2 1565.8,1380.2 1569.3,1380.4 1572.9,1381.2 1576.4,1380.2 1580,1381.7 1583.5,1383 1587.1,1381.4 1590.6,1381.6 1594.2,1382.2 1597.7,1382.5 1601.3,1380.1 1604.8,1382.2 1608.4,1381.7 1611.9,1381.6 1615.5,1380.9 1619,1380.9 1622.6,1380.2 1626.1,1382.7 1629.7,1381.6 1633.2,1382.1 1636.8,1381.2 1640.3,1382.1 1643.9,1381.9 1647.4,1380.6 1651,1382.2 1654.5,1382.3 1658.1,1381.2 1661.6,1381.1 1665.2,1384.1 1668.7,1383 1672.3,1384.3 1675.8,1382.4 1679.4,1383.6 1682.9,1383.8 1686.5,1382.6 1690,1382.1 1693.6,1382.9 1697.1,1384.9 1700.7,1384.1 1704.2,1385 1707.8,1381.7 1711.3,1384 1714.9,1385.2 1718.4,1383.8 1722,1382.3 1725.5,1385.5 1729.1,1386.6 1732.6,1385.6 1736.2,1385.7 1739.7,1386.1 1743.3,1385.1 1746.8,1389.3 1750.4,1387.7 1753.9,1389.4 1757.5,1391 1761,1389.8 1764.6,1389.4 1768.1,1390.2 1771.7,1391.5 1775.2,1390.8 1778.8,1392.5 1782.3,1392.1 1785.9,1393.6 1789.4,1394.2 1793,1397.3 1796.5,1397.4 1800.1,1399.1 1803.6,1399.5 1807.2,1402.5 1810.7,1406.9 1814.3,1405.5 1817.8,1408.5 1821.4,1410.6 1824.9,1416.7 1828.5,1419.3 1832,1422.8 1835.6,1427.4 1839.1,1429.3 1842.7,1437.2 1846.2,1443.5 1849.8,1443.9 1853.3,1456.7 1856.9,1453.9 1860.4,1473.3 1864,1490.6 1867.5,1495.9 1871.1,1531.7 1874.6,1524.1 1878.2,1559.6 1881.7,1535.3 1885.3,1555.5 1888.8,1558.6 1892.4,1532.4 1895.9,1535.4 1899.5,1554.3 1903,1551.3 1906.6,1563.4 1910.1,1551.8 1913.7,1541.3 1917.2,1553 1920.8,1552.9 1924.3,1566.9 1927.9,1541.5 1931.4,1557 1935,1539.7 1938.5,1533 1942.1,1551.3 1945.6,1555.3 1949.2,1549.9 1952.7,1548.1 1956.3,1559.1 1959.8,1554 1963.4,1576 1966.9,1544 1970.5,1555.1 1974,1532.6 1977.6,1555.4 1981.1,1546.5 1984.7,1544.9 1988.2,1547.8 1991.8,1532.7 1995.3,1549.1 1998.9,1547.9 2002.4,1544 2006,1549.4 2009.5,1540.9 2013.1,1559.5 2016.6,1541.6" fill="none" stroke="#ee3f45" stroke-width="2.2" stroke-linejoin="round" clip-path="url(#clipg)"/>
<polyline points="1164.7,1529.3 1168.2,1535.4 1171.8,1553.2 1175.3,1550.9 1178.9,1542.7 1182.4,1560.3 1186,1537 1189.5,1557.9 1193.1,1546.6 1196.6,1562.4 1200.2,1545 1203.7,1537.2 1207.3,1536.3 1210.8,1543.8 1214.4,1573.1 1217.9,1551.6 1221.5,1543.9 1225,1530.8 1228.6,1543.2 1232.1,1531.6 1235.7,1536.3 1239.2,1545.4 1242.8,1521.2 1246.3,1527.6 1249.9,1534.3 1253.4,1526.4 1257,1512 1260.5,1532 1264.1,1545.8 1267.6,1524.1 1271.2,1558.4 1274.7,1532.8 1278.3,1521 1281.8,1529.5 1285.4,1532 1288.9,1545.1 1292.5,1546.7 1296,1533.3 1299.6,1550.3 1303.1,1513.3 1306.7,1535.9 1310.2,1520.1 1313.7,1519.8 1317.3,1528.8 1320.8,1504.9 1324.4,1500.4 1327.9,1490.7 1331.5,1486.4 1335,1481.2 1338.6,1476.4 1342.1,1481.8 1345.7,1491.9 1349.2,1481.8 1352.8,1478.9 1356.3,1479.8 1359.9,1467.1 1363.4,1474.4 1367,1471.1 1370.5,1455.3 1374.1,1455.1 1377.6,1432 1381.2,1438.9 1384.7,1426.5 1388.3,1432.7 1391.8,1426.5 1395.4,1425.4 1398.9,1420 1402.5,1414.7 1406,1408.5 1409.6,1407 1413.1,1402.8 1416.7,1403.8 1420.2,1398.7 1423.8,1399.7 1427.3,1398.9 1430.9,1397.3 1434.4,1395 1438,1397.2 1441.5,1393.4 1445.1,1394.6 1448.6,1392.5 1452.2,1391.5 1455.7,1393.2 1459.3,1391.2 1462.8,1390.8 1466.4,1389.6 1469.9,1386.9 1473.5,1385.6 1477,1384.7 1480.6,1386.4 1484.1,1386 1487.7,1385.4 1491.2,1384.9 1494.8,1383.7 1498.3,1383.7 1501.9,1385.4 1505.4,1382.6 1509,1382.6 1512.5,1384.3 1516.1,1384.1 1519.6,1383 1523.2,1383.8 1526.7,1382.9 1530.3,1382.5 1533.8,1380.4 1537.4,1381 1540.9,1383 1544.5,1380.9 1548,1382.1 1551.6,1380.9 1555.1,1380.2 1558.7,1380.4 1562.2,1381.5 1565.8,1380.1 1569.3,1381.2 1572.9,1380.8 1576.4,1380.4 1580,1380.8 1583.5,1380.4 1587.1,1382 1590.6,1381.8 1594.2,1381.9 1597.7,1381 1601.3,1381.5 1604.8,1381.4 1608.4,1380.3 1611.9,1381.8 1615.5,1381.9 1619,1381.7 1622.6,1381.5 1626.1,1380.5 1629.7,1381 1633.2,1382.8 1636.8,1382.2 1640.3,1383.4 1643.9,1381.2 1647.4,1381.5 1651,1384.1 1654.5,1382.2 1658.1,1383 1661.6,1383.1 1665.2,1383.4 1668.7,1382.5 1672.3,1382.1 1675.8,1383.2 1679.4,1381.9 1682.9,1382.2 1686.5,1382.8 1690,1381.9 1693.6,1381.7 1697.1,1384.5 1700.7,1383.2 1704.2,1383 1707.8,1383 1711.3,1382.2 1714.9,1384.4 1718.4,1383.7 1722,1384.7 1725.5,1383.7 1729.1,1386.4 1732.6,1386.1 1736.2,1385.2 1739.7,1385.5 1743.3,1387 1746.8,1387 1750.4,1385.8 1753.9,1388.7 1757.5,1388 1761,1389.8 1764.6,1387.9 1768.1,1389.2 1771.7,1390.5 1775.2,1388.9 1778.8,1390.5 1782.3,1391.5 1785.9,1391.3 1789.4,1392.1 1793,1394.6 1796.5,1396.8 1800.1,1396.7 1803.6,1400.5 1807.2,1401 1810.7,1405.7 1814.3,1407.5 1817.8,1410 1821.4,1410.2 1824.9,1415.3 1828.5,1420.6 1832,1423.4 1835.6,1429.4 1839.1,1427.2 1842.7,1425.3 1846.2,1425 1849.8,1432.8 1853.3,1438.8 1856.9,1452.3 1860.4,1464.4 1864,1467.4 1867.5,1468.3 1871.1,1490.9 1874.6,1503.2 1878.2,1515.3 1881.7,1515.9 1885.3,1518 1888.8,1532.4 1892.4,1527.2 1895.9,1515.4 1899.5,1543.2 1903,1533.1 1906.6,1518.3 1910.1,1537.6 1913.7,1544.8 1917.2,1534.3 1920.8,1538.9 1924.3,1532.5 1927.9,1541.5 1931.4,1557.8 1935,1545.4 1938.5,1550.3 1942.1,1535.9 1945.6,1560.2 1949.2,1549.1 1952.7,1540.2 1956.3,1537.7 1959.8,1567.9 1963.4,1531.7 1966.9,1537.7 1970.5,1544 1974,1543.8 1977.6,1565.1 1981.1,1538.8 1984.7,1542.5 1988.2,1527.3 1991.8,1538.9 1995.3,1516 1998.9,1547.9 2002.4,1548.2 2006,1512.6 2009.5,1535.1 2013.1,1550.6 2016.6,1536.8" fill="none" stroke="#1f6fe0" stroke-width="2.2" stroke-linejoin="round" clip-path="url(#clipg)"/>
<polyline points="1164.7,1560.6 1168.2,1553.8 1171.8,1562 1175.3,1559.8 1178.9,1567 1182.4,1555.6 1186,1559 1189.5,1563.1 1193.1,1552.3 1196.6,1557.6 1200.2,1541 1203.7,1549.6 1207.3,1533.9 1210.8,1559 1214.4,1553.7 1217.9,1562.6 1221.5,1553.6 1225,1547.6 1228.6,1556.1 1232.1,1549.7 1235.7,1560.5 1239.2,1546.1 1242.8,1566.1 1246.3,1538 1249.9,1553.6 1253.4,1562.1 1257,1575.2 1260.5,1559.3 1264.1,1529.6 1267.6,1550.6 1271.2,1568.2 1274.7,1561.8 1278.3,1577.3 1281.8,1542.7 1285.4,1568.9 1288.9,1559 1292.5,1549.7 1296,1558.9 1299.6,1582.4 1303.1,1550.9 1306.7,1546.1 1310.2,1573.7 1313.7,1552.8 1317.3,1561.9 1320.8,1563.1 1324.4,1568.9 1327.9,1525.3 1331.5,1557 1335,1573.3 1338.6,1543.9 1342.1,1564.4 1345.7,1547.8 1349.2,1561.3 1352.8,1580.2 1356.3,1535.6 1359.9,1516.9 1363.4,1476.8 1367,1476.7 1370.5,1477.3 1374.1,1464.9 1377.6,1465 1381.2,1469 1384.7,1460.6 1388.3,1463.1 1391.8,1462 1395.4,1454.5 1398.9,1452.1 1402.5,1448.3 1406,1435.2 1409.6,1434.1 1413.1,1423 1416.7,1430.2 1420.2,1421.6 1423.8,1419.4 1427.3,1415.6 1430.9,1411.6 1434.4,1407.8 1438,1408.8 1441.5,1403 1445.1,1399.9 1448.6,1399.2 1452.2,1398.7 1455.7,1396.5 1459.3,1396.8 1462.8,1393.2 1466.4,1391.4 1469.9,1390.6 1473.5,1390.2 1477,1392.5 1480.6,1388.4 1484.1,1388.8 1487.7,1386.1 1491.2,1389.3 1494.8,1385.5 1498.3,1384.8 1501.9,1386.4 1505.4,1384.7 1509,1382.7 1512.5,1385.2 1516.1,1382.7 1519.6,1384.5 1523.2,1384.8 1526.7,1384.8 1530.3,1382.5 1533.8,1381.5 1537.4,1383.4 1540.9,1382.7 1544.5,1383.4 1548,1382.6 1551.6,1381.1 1555.1,1384.1 1558.7,1381.8 1562.2,1384.3 1565.8,1381.9 1569.3,1379.8 1572.9,1381.4 1576.4,1381.8 1580,1380 1583.5,1382.3 1587.1,1382 1590.6,1382.8 1594.2,1381 1597.7,1381.1 1601.3,1382.2 1604.8,1381.9 1608.4,1382.8 1611.9,1382.3 1615.5,1382.8 1619,1382.1 1622.6,1382.5 1626.1,1383.4 1629.7,1381.2 1633.2,1381.6 1636.8,1381 1640.3,1383.3 1643.9,1382.2 1647.4,1382.6 1651,1381.2 1654.5,1382.3 1658.1,1382.1 1661.6,1382 1665.2,1382.4 1668.7,1382 1672.3,1382.7 1675.8,1383.6 1679.4,1383.3 1682.9,1382.6 1686.5,1382.9 1690,1382.6 1693.6,1384.1 1697.1,1384.2 1700.7,1384.2 1704.2,1383.8 1707.8,1384.3 1711.3,1382.8 1714.9,1384.3 1718.4,1385.8 1722,1383.3 1725.5,1384.1 1729.1,1383.6 1732.6,1384 1736.2,1386.4 1739.7,1384.9 1743.3,1384.2 1746.8,1385.2 1750.4,1386 1753.9,1382.9 1757.5,1386.8 1761,1383.8 1764.6,1385.4 1768.1,1383.9 1771.7,1385.7 1775.2,1385.4 1778.8,1383.4 1782.3,1385.2 1785.9,1386.5 1789.4,1387.4 1793,1386.6 1796.5,1390.1 1800.1,1389.7 1803.6,1389.5 1807.2,1391.5 1810.7,1393.6 1814.3,1391.6 1817.8,1392.8 1821.4,1392.3 1824.9,1395.1 1828.5,1394.7 1832,1397.1 1835.6,1396.7 1839.1,1398.1 1842.7,1397.1 1846.2,1397.4 1849.8,1401 1853.3,1401.8 1856.9,1405.3 1860.4,1407.9 1864,1410.2 1867.5,1411.4 1871.1,1412.3 1874.6,1420.1 1878.2,1428 1881.7,1431.1 1885.3,1433.9 1888.8,1442.4 1892.4,1458.9 1895.9,1459.5 1899.5,1476.6 1903,1489.3 1906.6,1501.8 1910.1,1531.2 1913.7,1510.3 1917.2,1539.8 1920.8,1528.5 1924.3,1542 1927.9,1552.5 1931.4,1523.3 1935,1538.5 1938.5,1549.6 1942.1,1529.3 1945.6,1528.3 1949.2,1532.3 1952.7,1535.5 1956.3,1544.9 1959.8,1529.3 1963.4,1544.4 1966.9,1533.5 1970.5,1527.2 1974,1536.3 1977.6,1524.1 1981.1,1544.5 1984.7,1567.7 1988.2,1546.9 1991.8,1529.9 1995.3,1535.8 1998.9,1546.5 2002.4,1541.7 2006,1518.8 2009.5,1515.6 2013.1,1524.1 2016.6,1530.9" fill="none" stroke="#2fab68" stroke-width="2.2" stroke-linejoin="round" clip-path="url(#clipg)"/>
<polyline points="1164.7,1576.6 1168.2,1552.1 1171.8,1572.7 1175.3,1562.5 1178.9,1555.5 1182.4,1566.6 1186,1545.5 1189.5,1561.4 1193.1,1543.8 1196.6,1548.2 1200.2,1554.9 1203.7,1528.3 1207.3,1562.2 1210.8,1566.1 1214.4,1549 1217.9,1561.2 1221.5,1557.6 1225,1559.1 1228.6,1563.5 1232.1,1543.2 1235.7,1560.4 1239.2,1548.3 1242.8,1546 1246.3,1548.9 1249.9,1552.8 1253.4,1566.4 1257,1565 1260.5,1570.8 1264.1,1570 1267.6,1594 1271.2,1568.8 1274.7,1560.6 1278.3,1576 1281.8,1555.4 1285.4,1524.8 1288.9,1558.2 1292.5,1559.5 1296,1552.8 1299.6,1550.3 1303.1,1560.1 1306.7,1560.3 1310.2,1563.4 1313.7,1576 1317.3,1557.6 1320.8,1547 1324.4,1560.5 1327.9,1575.9 1331.5,1547.7 1335,1562.6 1338.6,1557.7 1342.1,1561.6 1345.7,1549.8 1349.2,1556.2 1352.8,1573.6 1356.3,1545.2 1359.9,1549.8 1363.4,1553.6 1367,1562.2 1370.5,1508.5 1374.1,1505.3 1377.6,1504.7 1381.2,1482.3 1384.7,1480.2 1388.3,1471.7 1391.8,1469.3 1395.4,1460.9 1398.9,1462.2 1402.5,1454.4 1406,1456 1409.6,1443.4 1413.1,1442.5 1416.7,1438.1 1420.2,1434.9 1423.8,1430.1 1427.3,1423.6 1430.9,1424.9 1434.4,1420.8 1438,1418.5 1441.5,1417.5 1445.1,1416.3 1448.6,1410.8 1452.2,1407.6 1455.7,1408.2 1459.3,1404.3 1462.8,1403.9 1466.4,1400.2 1469.9,1399.5 1473.5,1401.2 1477,1396 1480.6,1398.2 1484.1,1394.7 1487.7,1392.5 1491.2,1392.9 1494.8,1390.3 1498.3,1392.8 1501.9,1388.6 1505.4,1391.2 1509,1389.1 1512.5,1389.2 1516.1,1387.1 1519.6,1388.1 1523.2,1387.4 1526.7,1385.5 1530.3,1386.4 1533.8,1385.3 1537.4,1383.2 1540.9,1383 1544.5,1383.6 1548,1385.3 1551.6,1382.1 1555.1,1381.6 1558.7,1382.2 1562.2,1383.7 1565.8,1383.6 1569.3,1383 1572.9,1381.7 1576.4,1382.4 1580,1382 1583.5,1380.8 1587.1,1382.2 1590.6,1381.5 1594.2,1382.9 1597.7,1381.3 1601.3,1380.7 1604.8,1381.2 1608.4,1381.4 1611.9,1379.5 1615.5,1380.6 1619,1382.4 1622.6,1381.4 1626.1,1381.7 1629.7,1382.1 1633.2,1381.3 1636.8,1381.5 1640.3,1381.4 1643.9,1381.4 1647.4,1382 1651,1381.2 1654.5,1383.2 1658.1,1380.8 1661.6,1384.2 1665.2,1382.9 1668.7,1383.7 1672.3,1383.3 1675.8,1382.6 1679.4,1383.1 1682.9,1381.4 1686.5,1383.9 1690,1383.1 1693.6,1383.4 1697.1,1384 1700.7,1383.1 1704.2,1384.3 1707.8,1384.6 1711.3,1384.2 1714.9,1385.2 1718.4,1384.7 1722,1383.9 1725.5,1384.8 1729.1,1385.1 1732.6,1385.4 1736.2,1384.8 1739.7,1385.7 1743.3,1386.2 1746.8,1386.8 1750.4,1385 1753.9,1385.4 1757.5,1385.8 1761,1386.6 1764.6,1386.3 1768.1,1386.8 1771.7,1386.6 1775.2,1385.1 1778.8,1387.5 1782.3,1386.3 1785.9,1386.8 1789.4,1387.1 1793,1386.2 1796.5,1385.5 1800.1,1387.2 1803.6,1385.6 1807.2,1386.4 1810.7,1386.9 1814.3,1388.7 1817.8,1389.3 1821.4,1389.9 1824.9,1392.1 1828.5,1394.8 1832,1393 1835.6,1392.8 1839.1,1391.7 1842.7,1395.5 1846.2,1395.2 1849.8,1399.1 1853.3,1399.2 1856.9,1401.5 1860.4,1403.5 1864,1405.5 1867.5,1407.3 1871.1,1412.1 1874.6,1409.4 1878.2,1414 1881.7,1416 1885.3,1419.4 1888.8,1419.7 1892.4,1415.7 1895.9,1419.2 1899.5,1431.6 1903,1440.7 1906.6,1443.9 1910.1,1456.4 1913.7,1474.6 1917.2,1491.9 1920.8,1504.8 1924.3,1516 1927.9,1526.7 1931.4,1533.3 1935,1563.5 1938.5,1576.3 1942.1,1570.9 1945.6,1572.5 1949.2,1558.6 1952.7,1556.1 1956.3,1569.9 1959.8,1574 1963.4,1559.1 1966.9,1556.3 1970.5,1530.3 1974,1547.5 1977.6,1583 1981.1,1562.2 1984.7,1540.9 1988.2,1546.6 1991.8,1569.2 1995.3,1549.5 1998.9,1561.8 2002.4,1554 2006,1567.2 2009.5,1559.3 2013.1,1564.3 2016.6,1543.8" fill="none" stroke="#a97ae0" stroke-width="2.2" stroke-linejoin="round" clip-path="url(#clipg)"/>
<polyline points="1164.7,1538.2 1168.2,1547.3 1171.8,1549.6 1175.3,1569.6 1178.9,1522.8 1182.4,1565.9 1186,1543.4 1189.5,1538.6 1193.1,1563.1 1196.6,1549.3 1200.2,1539.6 1203.7,1528.3 1207.3,1548.6 1210.8,1528.5 1214.4,1551.6 1217.9,1553.1 1221.5,1560.8 1225,1536.3 1228.6,1551.9 1232.1,1544.2 1235.7,1529.5 1239.2,1541.7 1242.8,1538.1 1246.3,1529.5 1249.9,1515.8 1253.4,1536.7 1257,1536.3 1260.5,1539.4 1264.1,1525.4 1267.6,1523 1271.2,1542.5 1274.7,1530.4 1278.3,1517.8 1281.8,1522.1 1285.4,1517.4 1288.9,1518.8 1292.5,1510 1296,1505 1299.6,1526.6 1303.1,1533.8 1306.7,1521.4 1310.2,1512.2 1313.7,1494.6 1317.3,1540.7 1320.8,1514.3 1324.4,1514.7 1327.9,1510.4 1331.5,1511.9 1335,1526 1338.6,1530.6 1342.1,1516.9 1345.7,1512.2 1349.2,1545.7 1352.8,1524.9 1356.3,1515.4 1359.9,1517.9 1363.4,1504.1 1367,1492.8 1370.5,1492.1 1374.1,1482 1377.6,1475.1 1381.2,1472.5 1384.7,1461.9 1388.3,1467.5 1391.8,1461.8 1395.4,1449.9 1398.9,1454.9 1402.5,1452.1 1406,1449.2 1409.6,1449.9 1413.1,1442.9 1416.7,1442 1420.2,1438.4 1423.8,1429.2 1427.3,1428.4 1430.9,1424.9 1434.4,1423.3 1438,1417.1 1441.5,1415.6 1445.1,1409.3 1448.6,1408.7 1452.2,1401.9 1455.7,1403.5 1459.3,1402.1 1462.8,1400.5 1466.4,1397.9 1469.9,1398.5 1473.5,1395.7 1477,1394.2 1480.6,1391.9 1484.1,1392.9 1487.7,1388 1491.2,1388.5 1494.8,1387.4 1498.3,1389.1 1501.9,1387.5 1505.4,1386.8 1509,1386.6 1512.5,1385.6 1516.1,1387 1519.6,1384.4 1523.2,1384.9 1526.7,1384 1530.3,1383.7 1533.8,1383.2 1537.4,1382.5 1540.9,1383.1 1544.5,1381.7 1548,1383.6 1551.6,1382.8 1555.1,1381.1 1558.7,1382.1 1562.2,1383.9 1565.8,1382.2 1569.3,1381.6 1572.9,1380.5 1576.4,1380.8 1580,1382.1 1583.5,1380.1 1587.1,1381.3 1590.6,1382.4 1594.2,1380 1597.7,1382.4 1601.3,1382.2 1604.8,1379.8 1608.4,1382.4 1611.9,1382.5 1615.5,1381.4 1619,1380 1622.6,1382 1626.1,1381.4 1629.7,1379.4 1633.2,1381.5 1636.8,1382.7 1640.3,1381.1 1643.9,1380.6 1647.4,1382.7 1651,1383.3 1654.5,1384.1 1658.1,1382.5 1661.6,1384 1665.2,1383.2 1668.7,1383 1672.3,1382.8 1675.8,1383.1 1679.4,1383.1 1682.9,1383.5 1686.5,1384.1 1690,1382 1693.6,1383 1697.1,1384.1 1700.7,1384.3 1704.2,1382.8 1707.8,1384 1711.3,1382.9 1714.9,1385 1718.4,1384.9 1722,1386.1 1725.5,1384.2 1729.1,1382.6 1732.6,1383.9 1736.2,1385.7 1739.7,1383.6 1743.3,1385 1746.8,1387.4 1750.4,1386.7 1753.9,1386.1 1757.5,1386 1761,1385.7 1764.6,1386.7 1768.1,1385.5 1771.7,1387.4 1775.2,1387.6 1778.8,1388.4 1782.3,1387.1 1785.9,1387.3 1789.4,1386.1 1793,1386.9 1796.5,1387 1800.1,1386.5 1803.6,1386.9 1807.2,1389.2 1810.7,1387.6 1814.3,1386.5 1817.8,1387.5 1821.4,1389.2 1824.9,1389.7 1828.5,1389.2 1832,1392.1 1835.6,1391.6 1839.1,1394.5 1842.7,1394.8 1846.2,1396.3 1849.8,1398.5 1853.3,1399.3 1856.9,1400.6 1860.4,1402.6 1864,1399.6 1867.5,1400.8 1871.1,1400.2 1874.6,1400.5 1878.2,1401.6 1881.7,1406.8 1885.3,1409.6 1888.8,1419.6 1892.4,1422.1 1895.9,1431.1 1899.5,1439.9 1903,1448.4 1906.6,1465.5 1910.1,1463.5 1913.7,1480.3 1917.2,1479.3 1920.8,1498 1924.3,1501.7 1927.9,1509.6 1931.4,1524.2 1935,1510.9 1938.5,1510 1942.1,1526.9 1945.6,1518 1949.2,1499.9 1952.7,1523.1 1956.3,1534.9 1959.8,1491.5 1963.4,1517.5 1966.9,1516.5 1970.5,1521.5 1974,1517.6 1977.6,1521 1981.1,1526.3 1984.7,1523.1 1988.2,1510.8 1991.8,1526.3 1995.3,1504.8 1998.9,1519.6 2002.4,1523.1 2006,1525.2 2009.5,1517 2013.1,1518.4 2016.6,1503.5" fill="none" stroke="#c9930f" stroke-width="2.2" stroke-linejoin="round" clip-path="url(#clipg)"/>
<polyline points="1164.7,1573.9 1168.2,1557.4 1171.8,1551.8 1175.3,1563.2 1178.9,1547.5 1182.4,1542.1 1186,1566.9 1189.5,1542.1 1193.1,1554.4 1196.6,1560 1200.2,1561.6 1203.7,1551.3 1207.3,1568.8 1210.8,1532.9 1214.4,1553.3 1217.9,1545.7 1221.5,1554.3 1225,1550.6 1228.6,1554 1232.1,1554.6 1235.7,1552.5 1239.2,1573.8 1242.8,1567.5 1246.3,1540.5 1249.9,1548.9 1253.4,1560.8 1257,1560.1 1260.5,1561.7 1264.1,1559.6 1267.6,1546.1 1271.2,1572.5 1274.7,1552.7 1278.3,1564.1 1281.8,1548.6 1285.4,1554.4 1288.9,1567.6 1292.5,1563.5 1296,1574.6 1299.6,1549.9 1303.1,1561.5 1306.7,1556.4 1310.2,1537.3 1313.7,1559.6 1317.3,1543.3 1320.8,1566.5 1324.4,1533.1 1327.9,1564.4 1331.5,1556.7 1335,1554.9 1338.6,1558 1342.1,1559.9 1345.7,1540.3 1349.2,1569.2 1352.8,1540.2 1356.3,1542.4 1359.9,1558.5 1363.4,1584.8 1367,1555.3 1370.5,1567.3 1374.1,1570.8 1377.6,1576.5 1381.2,1558.3 1384.7,1536.5 1388.3,1530.1 1391.8,1514.1 1395.4,1504 1398.9,1495.8 1402.5,1482.5 1406,1481.4 1409.6,1469.3 1413.1,1470.1 1416.7,1460.5 1420.2,1450.7 1423.8,1448.9 1427.3,1440.4 1430.9,1450.1 1434.4,1436.3 1438,1435.1 1441.5,1436.6 1445.1,1433.2 1448.6,1427.2 1452.2,1424.2 1455.7,1427.7 1459.3,1425 1462.8,1422 1466.4,1418.6 1469.9,1416.4 1473.5,1410.1 1477,1411.6 1480.6,1411.5 1484.1,1409.1 1487.7,1407.2 1491.2,1404.5 1494.8,1404.1 1498.3,1402.9 1501.9,1402.6 1505.4,1401.4 1509,1396.6 1512.5,1394.5 1516.1,1393.2 1519.6,1392.3 1523.2,1391.8 1526.7,1390.6 1530.3,1389 1533.8,1388.9 1537.4,1388.1 1540.9,1385.8 1544.5,1385.6 1548,1383.5 1551.6,1387.9 1555.1,1384.2 1558.7,1386.4 1562.2,1385.8 1565.8,1383.2 1569.3,1384.4 1572.9,1384.1 1576.4,1381.8 1580,1382.9 1583.5,1383 1587.1,1382.4 1590.6,1382.8 1594.2,1383.6 1597.7,1382.8 1601.3,1382.2 1604.8,1380.8 1608.4,1381.5 1611.9,1380.6 1615.5,1381.8 1619,1380.4 1622.6,1380.7 1626.1,1380.2 1629.7,1380.8 1633.2,1379.4 1636.8,1380.4 1640.3,1381 1643.9,1380 1647.4,1380.8 1651,1380.7 1654.5,1381.1 1658.1,1380.8 1661.6,1381.1 1665.2,1381.2 1668.7,1381.2 1672.3,1381.2 1675.8,1381.8 1679.4,1382.6 1682.9,1380.6 1686.5,1381.7 1690,1383 1693.6,1383.2 1697.1,1381.7 1700.7,1381.9 1704.2,1382.3 1707.8,1381 1711.3,1383.7 1714.9,1383.6 1718.4,1382.6 1722,1382.5 1725.5,1383.1 1729.1,1383.7 1732.6,1383.4 1736.2,1384.6 1739.7,1384.5 1743.3,1382.4 1746.8,1382.2 1750.4,1384 1753.9,1384.9 1757.5,1383 1761,1384.2 1764.6,1385.3 1768.1,1384.2 1771.7,1384.5 1775.2,1385.1 1778.8,1384.5 1782.3,1383.5 1785.9,1385 1789.4,1384.8 1793,1383.8 1796.5,1383.6 1800.1,1383.4 1803.6,1385 1807.2,1386.2 1810.7,1385 1814.3,1385.1 1817.8,1386.1 1821.4,1384.4 1824.9,1386.4 1828.5,1385.3 1832,1385.6 1835.6,1384.6 1839.1,1386.8 1842.7,1386.9 1846.2,1389 1849.8,1388.6 1853.3,1388.3 1856.9,1390.3 1860.4,1390.7 1864,1393.9 1867.5,1390.2 1871.1,1391 1874.6,1393.2 1878.2,1394.1 1881.7,1397 1885.3,1398.2 1888.8,1404.1 1892.4,1404.6 1895.9,1405.9 1899.5,1412.7 1903,1413.5 1906.6,1412.7 1910.1,1419.1 1913.7,1418.5 1917.2,1421.7 1920.8,1430.1 1924.3,1434.3 1927.9,1447.2 1931.4,1454.6 1935,1466.5 1938.5,1481.7 1942.1,1494.7 1945.6,1506.1 1949.2,1538.6 1952.7,1515.6 1956.3,1530 1959.8,1557.4 1963.4,1538.7 1966.9,1523 1970.5,1519.7 1974,1553.8 1977.6,1527.5 1981.1,1534.8 1984.7,1537 1988.2,1545.2 1991.8,1523.2 1995.3,1550.4 1998.9,1534.4 2002.4,1541.7 2006,1531.2 2009.5,1541.2 2013.1,1607.4 2016.6,1602.9" fill="none" stroke="#14c8c8" stroke-width="2.2" stroke-linejoin="round" clip-path="url(#clipg)"/>
<polyline points="1164.7,1531.3 1168.2,1508.1 1171.8,1508.3 1175.3,1520.1 1178.9,1527.3 1182.4,1512.2 1186,1522.3 1189.5,1533.8 1193.1,1538.5 1196.6,1552.1 1200.2,1532.4 1203.7,1532.9 1207.3,1508.8 1210.8,1491.5 1214.4,1531.5 1217.9,1503.9 1221.5,1530.2 1225,1526.2 1228.6,1532.1 1232.1,1517.1 1235.7,1529.2 1239.2,1528.3 1242.8,1536.3 1246.3,1525.9 1249.9,1522.5 1253.4,1502.2 1257,1542 1260.5,1520.2 1264.1,1508.3 1267.6,1531.6 1271.2,1530.9 1274.7,1534 1278.3,1511.5 1281.8,1506.9 1285.4,1506.5 1288.9,1526.5 1292.5,1529.8 1296,1536.1 1299.6,1541.4 1303.1,1531.8 1306.7,1517.6 1310.2,1521 1313.7,1519.5 1317.3,1531.7 1320.8,1525.7 1324.4,1526.8 1327.9,1512.6 1331.5,1522.8 1335,1534.2 1338.6,1523.9 1342.1,1522.4 1345.7,1519.1 1349.2,1508 1352.8,1517.6 1356.3,1519.8 1359.9,1526.1 1363.4,1522.1 1367,1526.7 1370.5,1530.7 1374.1,1522.6 1377.6,1508.9 1381.2,1497.9 1384.7,1524.3 1388.3,1522.3 1391.8,1528.1 1395.4,1518.6 1398.9,1518 1402.5,1526 1406,1512.9 1409.6,1496.9 1413.1,1473.6 1416.7,1470.3 1420.2,1467 1423.8,1458.2 1427.3,1456.8 1430.9,1453.8 1434.4,1452.3 1438,1442.2 1441.5,1442.1 1445.1,1444.9 1448.6,1436.8 1452.2,1435.3 1455.7,1433.4 1459.3,1429.5 1462.8,1428.3 1466.4,1429.5 1469.9,1420.9 1473.5,1425.4 1477,1421.8 1480.6,1416.3 1484.1,1413.6 1487.7,1413.3 1491.2,1410.8 1494.8,1408.3 1498.3,1409.2 1501.9,1408.3 1505.4,1404.3 1509,1401.8 1512.5,1400.7 1516.1,1398.8 1519.6,1398.1 1523.2,1397.9 1526.7,1395.3 1530.3,1394.2 1533.8,1395.5 1537.4,1392.9 1540.9,1392 1544.5,1391.9 1548,1389.9 1551.6,1391.6 1555.1,1389.1 1558.7,1389.8 1562.2,1388 1565.8,1387.8 1569.3,1388.4 1572.9,1386.1 1576.4,1386.8 1580,1386 1583.5,1386 1587.1,1386.7 1590.6,1385.6 1594.2,1386.2 1597.7,1385.1 1601.3,1385.2 1604.8,1381.7 1608.4,1382 1611.9,1383.6 1615.5,1383.3 1619,1382.6 1622.6,1383.6 1626.1,1382.5 1629.7,1382.7 1633.2,1382.8 1636.8,1382.3 1640.3,1383.9 1643.9,1383.2 1647.4,1383.8 1651,1382.6 1654.5,1380.5 1658.1,1382.4 1661.6,1382.2 1665.2,1381.2 1668.7,1384.2 1672.3,1382.4 1675.8,1384.2 1679.4,1383.2 1682.9,1382.8 1686.5,1383.8 1690,1382.7 1693.6,1382.6 1697.1,1381.9 1700.7,1383.3 1704.2,1384.1 1707.8,1382.5 1711.3,1383.6 1714.9,1382.5 1718.4,1382.6 1722,1383.7 1725.5,1383.3 1729.1,1381 1732.6,1382.3 1736.2,1383.9 1739.7,1382.1 1743.3,1383.7 1746.8,1383.6 1750.4,1382.3 1753.9,1383 1757.5,1383.1 1761,1382.1 1764.6,1382 1768.1,1383.8 1771.7,1382 1775.2,1383.4 1778.8,1382.5 1782.3,1383 1785.9,1382.2 1789.4,1383.8 1793,1384.7 1796.5,1384 1800.1,1385 1803.6,1384.3 1807.2,1383.7 1810.7,1382.3 1814.3,1382.9 1817.8,1382.8 1821.4,1383.6 1824.9,1382.9 1828.5,1381.6 1832,1383.8 1835.6,1382.8 1839.1,1382.1 1842.7,1382.3 1846.2,1382.6 1849.8,1383 1853.3,1384.2 1856.9,1384.1 1860.4,1384.5 1864,1387.3 1867.5,1388.9 1871.1,1386.8 1874.6,1389.2 1878.2,1390.3 1881.7,1392.6 1885.3,1391.6 1888.8,1393.3 1892.4,1391.9 1895.9,1393 1899.5,1395.8 1903,1399.6 1906.6,1400.2 1910.1,1401.5 1913.7,1401.7 1917.2,1405.3 1920.8,1411.1 1924.3,1409.1 1927.9,1411.4 1931.4,1417.5 1935,1425.7 1938.5,1430.4 1942.1,1433.3 1945.6,1439.9 1949.2,1453.8 1952.7,1470.9 1956.3,1477.3 1959.8,1498.2 1963.4,1521.3 1966.9,1500.9 1970.5,1528.9 1974,1503.3 1977.6,1508.3 1981.1,1534 1984.7,1521.2 1988.2,1544 1991.8,1525.2 1995.3,1515.8 1998.9,1521 2002.4,1531.3 2006,1529.9 2009.5,1543 2013.1,1539.4 2016.6,1530.8" fill="none" stroke="#7c4d4e" stroke-width="2.2" stroke-linejoin="round" clip-path="url(#clipg)"/>
<line x1="1164.1" y1="1392.9" x2="2017.2" y2="1392.9" stroke="#b1b1b1" stroke-width="2.3" stroke-dasharray="8.8 8"/>
<line x1="1433.9" y1="1326" x2="1433.9" y2="1576.5" stroke="#b2b2b2" stroke-width="2.2"/>
<line x1="1789" y1="1326" x2="1789" y2="1393" stroke="#b2b2b2" stroke-width="2.2"/>
<line x1="1888.8" y1="1393" x2="1888.8" y2="1576.5" stroke="#b2b2b2" stroke-width="2.2"/>
<line x1="1450.8" y1="1363.3" x2="1772.2" y2="1363.3" stroke="#b2b2b2" stroke-width="2.2"/>
<polygon points="1788,1363.3 1763,1370.9 1770.5,1363.3 1763,1355.7" fill="#b2b2b2"/>
<polygon points="1435,1363.3 1460,1355.7 1452.5,1363.3 1460,1370.9" fill="#b2b2b2"/>
<line x1="1450.8" y1="1561" x2="1872" y2="1561" stroke="#b2b2b2" stroke-width="2.2"/>
<polygon points="1887.8,1561 1862.8,1568.6 1870.3,1561 1862.8,1553.4" fill="#b2b2b2"/>
<polygon points="1435,1561 1460,1553.4 1452.5,1561 1460,1568.6" fill="#b2b2b2"/>
<line x1="1552.4" y1="1424.9" x2="1580.6" y2="1424.9" stroke="#b2b2b2" stroke-width="2.4"/>
<polygon points="1589.4,1424.9 1577.9,1433.7 1579.6,1424.9 1577.9,1416.1" fill="#b2b2b2"/>
<polygon points="1543.6,1424.9 1555.1,1416.1 1553.4,1424.9 1555.1,1433.7" fill="#b2b2b2"/>
<text x="1610.2" y="1344.6" text-anchor="middle" font-size="29">Single passband of 7 nm</text>
<text x="1656" y="1546.8" text-anchor="middle" font-size="29">Extended passband of 10 nm</text>
<text x="1215.4" y="1425">-3 dB</text>
<text x="1547.4" y="1413.8" font-size="19.6" letter-spacing="0.5">1nm</text>
<line x1="1448.6" y1="1395" x2="1448.6" y2="1437" stroke="#4d4d4d" stroke-width="2.4"/>
<polygon points="1448.6,1457.2 1442.4,1434.7 1448.6,1434.7 1454.8,1434.7" fill="#4d4d4d"/>
<text x="1438.1" y="1484.2">λ<tspan font-size="15.8" dy="9.6">C1</tspan></text>
<line x1="1496" y1="1395" x2="1496" y2="1437" stroke="#4d4d4d" stroke-width="2.4"/>
<polygon points="1496,1457.2 1489.8,1434.7 1496,1434.7 1502.2,1434.7" fill="#4d4d4d"/>
<text x="1485.5" y="1484.2">λ<tspan font-size="15.8" dy="9.6">C2</tspan></text>
<line x1="1543.3" y1="1395" x2="1543.3" y2="1437" stroke="#4d4d4d" stroke-width="2.4"/>
<polygon points="1543.3,1457.2 1537.1,1434.7 1543.3,1434.7 1549.5,1434.7" fill="#4d4d4d"/>
<text x="1532.8" y="1484.2">λ<tspan font-size="15.8" dy="9.6">C3</tspan></text>
<line x1="1590.6" y1="1395" x2="1590.6" y2="1437" stroke="#4d4d4d" stroke-width="2.4"/>
<polygon points="1590.6,1457.2 1584.4,1434.7 1590.6,1434.7 1596.8,1434.7" fill="#4d4d4d"/>
<text x="1580.1" y="1484.2">λ<tspan font-size="15.8" dy="9.6">C4</tspan></text>
<line x1="1638" y1="1395" x2="1638" y2="1437" stroke="#4d4d4d" stroke-width="2.4"/>
<polygon points="1638,1457.2 1631.8,1434.7 1638,1434.7 1644.2,1434.7" fill="#4d4d4d"/>
<text x="1627.5" y="1484.2">λ<tspan font-size="15.8" dy="9.6">C5</tspan></text>
<line x1="1685.3" y1="1395" x2="1685.3" y2="1437" stroke="#4d4d4d" stroke-width="2.4"/>
<polygon points="1685.3,1457.2 1679.1,1434.7 1685.3,1434.7 1691.5,1434.7" fill="#4d4d4d"/>
<text x="1674.8" y="1484.2">λ<tspan font-size="15.8" dy="9.6">C6</tspan></text>
<line x1="1732.6" y1="1395" x2="1732.6" y2="1437" stroke="#4d4d4d" stroke-width="2.4"/>
<polygon points="1732.6,1457.2 1726.4,1434.7 1732.6,1434.7 1738.8,1434.7" fill="#4d4d4d"/>
<text x="1722.1" y="1484.2">λ<tspan font-size="15.8" dy="9.6">C7</tspan></text>
<line x1="1779.9" y1="1395" x2="1779.9" y2="1437" stroke="#4d4d4d" stroke-width="2.4"/>
<polygon points="1779.9,1457.2 1773.7,1434.7 1779.9,1434.7 1786.1,1434.7" fill="#4d4d4d"/>
<text x="1769.4" y="1484.2">λ<tspan font-size="15.8" dy="9.6">C8</tspan></text>
<rect x="1164.1" y="1306" width="853.1" height="298" fill="none" stroke="#111" stroke-width="2.2"/>
<line x1="1306.7" y1="1604" x2="1306.7" y2="1590.8" stroke="#111" stroke-width="2.2"/>
<line x1="1543.3" y1="1604" x2="1543.3" y2="1590.8" stroke="#111" stroke-width="2.2"/>
<line x1="1779.9" y1="1604" x2="1779.9" y2="1590.8" stroke="#111" stroke-width="2.2"/>
<line x1="1164.1" y1="1381" x2="1177.3" y2="1381" stroke="#111" stroke-width="2.2"/>
<line x1="1164.1" y1="1455" x2="1177.3" y2="1455" stroke="#111" stroke-width="2.2"/>
<line x1="1164.1" y1="1529" x2="1177.3" y2="1529" stroke="#111" stroke-width="2.2"/>
<text x="1306.7" y="1640.8" text-anchor="middle">1545</text>
<text x="1543.3" y="1640.8" text-anchor="middle">1550</text>
<text x="1779.9" y="1640.8" text-anchor="middle">1555</text>
<text x="2016.6" y="1640.8" text-anchor="middle">1560</text>
<text x="1150.3" y="1390.6" text-anchor="end">0</text>
<text x="1150.3" y="1464.6" text-anchor="end">-20</text>
<text x="1150.3" y="1538.6" text-anchor="end">-40</text>
<text x="1150.3" y="1612.6" text-anchor="end">-60</text>
<text x="1610.5" y="1682" text-anchor="middle">Wavelength (nm)</text>
<text transform="translate(1060.6 1482.6) rotate(-90)" text-anchor="middle">Normalized</text>
<text transform="translate(1095.6 1479) rotate(-90)" text-anchor="middle">transmission (dB)</text>
<line x1="1172.8" y1="1240.6" x2="1240.4" y2="1240.6" stroke="#4f4f4f" stroke-width="2.1"/>
<text x="1248.4" y="1251.9">Ch1</text>
<line x1="1172.8" y1="1276.9" x2="1240.4" y2="1276.9" stroke="#ee3f45" stroke-width="2.1"/>
<text x="1248.4" y="1288.2">Ch2</text>
<line x1="1399.3" y1="1240.6" x2="1466.8" y2="1240.6" stroke="#1f6fe0" stroke-width="2.1"/>
<text x="1474.4" y="1251.9">Ch3</text>
<line x1="1399.3" y1="1276.9" x2="1466.8" y2="1276.9" stroke="#2fab68" stroke-width="2.1"/>
<text x="1474.4" y="1288.2">Ch4</text>
<line x1="1633.6" y1="1240.6" x2="1701.6" y2="1240.6" stroke="#a97ae0" stroke-width="2.1"/>
<text x="1709.4" y="1251.9">Ch5</text>
<line x1="1633.6" y1="1276.9" x2="1701.6" y2="1276.9" stroke="#c9930f" stroke-width="2.1"/>
<text x="1709.4" y="1288.2">Ch6</text>
<line x1="1862.7" y1="1240.6" x2="1930.4" y2="1240.6" stroke="#14c8c8" stroke-width="2.1"/>
<text x="1938" y="1251.9">Ch7</text>
<line x1="1862.7" y1="1276.9" x2="1930.4" y2="1276.9" stroke="#7c4d4e" stroke-width="2.1"/>
<text x="1938" y="1288.2">Ch8</text>
</g>
</svg>
</body></html>
